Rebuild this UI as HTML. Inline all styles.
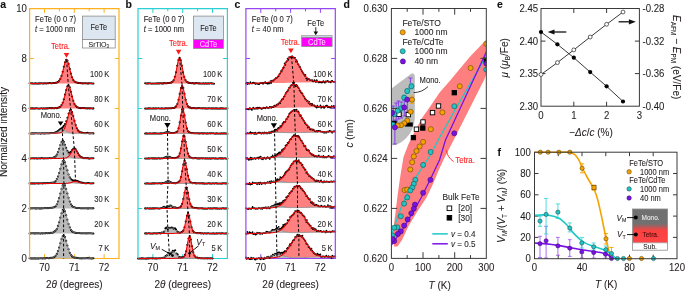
<!DOCTYPE html><html><head><meta charset="utf-8"><style>html,body{margin:0;padding:0;background:#fff;}svg{display:block;will-change:transform;}</style></head><body><svg width="685" height="291" viewBox="0 0 685 291" font-family='"Liberation Sans", sans-serif'><rect width="685" height="291" fill="#fff"/><path d="M29 258.5 H119.6" fill="none" stroke="#ffb01e" stroke-width="1.2"/><line x1="44.5" y1="258.5" x2="44.5" y2="254.1" stroke="#ffb01e" stroke-width="1"/><line x1="44.5" y1="8.5" x2="44.5" y2="12.9" stroke="#ffb01e" stroke-width="1"/><line x1="59.4" y1="258.5" x2="59.4" y2="255.7" stroke="#ffb01e" stroke-width="1"/><line x1="59.4" y1="8.5" x2="59.4" y2="11.3" stroke="#ffb01e" stroke-width="1"/><line x1="74.3" y1="258.5" x2="74.3" y2="254.1" stroke="#ffb01e" stroke-width="1"/><line x1="74.3" y1="8.5" x2="74.3" y2="12.9" stroke="#ffb01e" stroke-width="1"/><line x1="89.2" y1="258.5" x2="89.2" y2="255.7" stroke="#ffb01e" stroke-width="1"/><line x1="89.2" y1="8.5" x2="89.2" y2="11.3" stroke="#ffb01e" stroke-width="1"/><line x1="104.1" y1="258.5" x2="104.1" y2="254.1" stroke="#ffb01e" stroke-width="1"/><line x1="104.1" y1="8.5" x2="104.1" y2="12.9" stroke="#ffb01e" stroke-width="1"/><line x1="29.6" y1="208.5" x2="33.8" y2="208.5" stroke="#ffb01e" stroke-width="1"/><line x1="119" y1="208.5" x2="114.8" y2="208.5" stroke="#ffb01e" stroke-width="1"/><line x1="29.6" y1="158.5" x2="33.8" y2="158.5" stroke="#ffb01e" stroke-width="1"/><line x1="119" y1="158.5" x2="114.8" y2="158.5" stroke="#ffb01e" stroke-width="1"/><line x1="29.6" y1="108.5" x2="33.8" y2="108.5" stroke="#ffb01e" stroke-width="1"/><line x1="119" y1="108.5" x2="114.8" y2="108.5" stroke="#ffb01e" stroke-width="1"/><line x1="29.6" y1="58.5" x2="33.8" y2="58.5" stroke="#ffb01e" stroke-width="1"/><line x1="119" y1="58.5" x2="114.8" y2="58.5" stroke="#ffb01e" stroke-width="1"/><polygon points="29.6,83.4 30.3,83.4 31.1,83.4 31.8,83.4 32.6,83.4 33.3,83.4 34,83.4 34.8,83.4 35.5,83.4 36.3,83.4 37,83.4 37.8,83.4 38.5,83.4 39.2,83.4 40,83.4 40.7,83.4 41.5,83.4 42.2,83.4 42.9,83.4 43.7,83.4 44.4,83.3 45.2,83.3 45.9,83.3 46.7,83.3 47.4,83.3 48.1,83.3 48.9,83.3 49.6,83.2 50.4,83.2 51.1,83.2 51.8,83.2 52.6,83.1 53.3,83.1 54.1,83 54.8,83 55.6,82.9 56.3,82.7 57,82.5 57.8,82.1 58.5,81.6 59.3,80.8 60,79.6 60.7,78 61.5,75.9 62.2,73.4 63,70.4 63.7,67.3 64.5,64.3 65.2,61.8 65.9,60.2 66.7,59.8 67.4,60.6 68.2,62.6 68.9,65.3 69.6,68.4 70.4,71.5 71.1,74.3 71.9,76.7 72.6,78.6 73.4,80 74.1,81.1 74.8,81.8 75.6,82.3 76.3,82.6 77.1,82.8 77.8,82.9 78.5,83 79.3,83 80,83.1 80.8,83.1 81.5,83.2 82.2,83.2 83,83.2 83.7,83.2 84.5,83.3 85.2,83.3 86,83.3 86.7,83.3 87.4,83.3 88.2,83.3 88.9,83.3 89.7,83.4 90.4,83.4 91.1,83.4 91.9,83.4 92.6,83.4 93.4,83.4 93.4,83.5 92.6,83.5 91.9,83.5 91.1,83.5 90.4,83.5 89.7,83.5 88.9,83.5 88.2,83.5 87.4,83.5 86.7,83.5 86,83.5 85.2,83.5 84.5,83.5 83.7,83.5 83,83.5 82.2,83.5 81.5,83.5 80.8,83.5 80,83.5 79.3,83.5 78.5,83.5 77.8,83.5 77.1,83.5 76.3,83.5 75.6,83.5 74.8,83.5 74.1,83.5 73.4,83.5 72.6,83.5 71.9,83.5 71.1,83.5 70.4,83.5 69.6,83.5 68.9,83.5 68.2,83.5 67.4,83.5 66.7,83.5 65.9,83.5 65.2,83.5 64.5,83.5 63.7,83.5 63,83.5 62.2,83.5 61.5,83.5 60.7,83.5 60,83.5 59.3,83.5 58.5,83.5 57.8,83.5 57,83.5 56.3,83.5 55.6,83.5 54.8,83.5 54.1,83.5 53.3,83.5 52.6,83.5 51.8,83.5 51.1,83.5 50.4,83.5 49.6,83.5 48.9,83.5 48.1,83.5 47.4,83.5 46.7,83.5 45.9,83.5 45.2,83.5 44.4,83.5 43.7,83.5 42.9,83.5 42.2,83.5 41.5,83.5 40.7,83.5 40,83.5 39.2,83.5 38.5,83.5 37.8,83.5 37,83.5 36.3,83.5 35.5,83.5 34.8,83.5 34,83.5 33.3,83.5 32.6,83.5 31.8,83.5 31.1,83.5 30.3,83.5 29.6,83.5" fill="#ff8080"/><path d="M29.6 83.3h0M30.8 83.3h0M32 83.4h0M33.1 83.5h0M34.3 83.5h0M35.5 83.4h0M36.7 83.5h0M37.9 83.6h0M39 83.4h0M40.2 83.4h0M41.4 83.3h0M42.6 83.5h0M43.8 83.4h0M45 83.3h0M46.1 83.5h0M47.3 83.2h0M48.5 83.2h0M49.7 83h0M50.9 83.2h0M52 83.2h0M53.2 83h0M54.4 83h0M55.6 82.8h0M56.8 82.6h0M57.9 82h0M59.1 80.8h0M60.3 78.9h0M61.5 75.9h0M62.7 71.8h0M63.8 66.7h0M65 62.3h0M66.2 59.8h0M67.4 60.6h0M68.6 63.9h0M69.8 68.9h0M70.9 73.6h0M72.1 77.3h0M73.3 80h0M74.5 81.5h0M75.7 82.3h0M76.8 82.5h0M78 82.9h0M79.2 83h0M80.4 83.1h0M81.6 83.2h0M82.7 83.4h0M83.9 83.2h0M85.1 83.3h0M86.3 83.2h0M87.5 83.5h0M88.6 83.4h0M89.8 83.2h0M91 83.2h0M92.2 83.5h0M93.4 83.5h0" stroke="#000000" stroke-width="2.1" stroke-linecap="round" fill="none"/><path d="M29.6 83.4 L30.3 83.4 L31.1 83.4 L31.8 83.4 L32.6 83.4 L33.3 83.4 L34 83.4 L34.8 83.4 L35.5 83.4 L36.3 83.4 L37 83.4 L37.8 83.4 L38.5 83.4 L39.2 83.4 L40 83.4 L40.7 83.4 L41.5 83.4 L42.2 83.4 L42.9 83.4 L43.7 83.4 L44.4 83.3 L45.2 83.3 L45.9 83.3 L46.7 83.3 L47.4 83.3 L48.1 83.3 L48.9 83.3 L49.6 83.2 L50.4 83.2 L51.1 83.2 L51.8 83.2 L52.6 83.1 L53.3 83.1 L54.1 83 L54.8 83 L55.6 82.9 L56.3 82.7 L57 82.5 L57.8 82.1 L58.5 81.6 L59.3 80.8 L60 79.6 L60.7 78 L61.5 75.9 L62.2 73.4 L63 70.4 L63.7 67.3 L64.5 64.3 L65.2 61.8 L65.9 60.2 L66.7 59.8 L67.4 60.6 L68.2 62.6 L68.9 65.3 L69.6 68.4 L70.4 71.5 L71.1 74.3 L71.9 76.7 L72.6 78.6 L73.4 80 L74.1 81.1 L74.8 81.8 L75.6 82.3 L76.3 82.6 L77.1 82.8 L77.8 82.9 L78.5 83 L79.3 83 L80 83.1 L80.8 83.1 L81.5 83.2 L82.2 83.2 L83 83.2 L83.7 83.2 L84.5 83.3 L85.2 83.3 L86 83.3 L86.7 83.3 L87.4 83.3 L88.2 83.3 L88.9 83.3 L89.7 83.4 L90.4 83.4 L91.1 83.4 L91.9 83.4 L92.6 83.4 L93.4 83.4" stroke="#e80000" stroke-width="1.05" fill="none"/><polygon points="29.6,108.4 30.3,108.4 31.1,108.4 31.8,108.4 32.6,108.4 33.3,108.4 34,108.4 34.8,108.4 35.5,108.4 36.3,108.4 37,108.4 37.8,108.4 38.5,108.4 39.2,108.4 40,108.4 40.7,108.4 41.5,108.4 42.2,108.4 42.9,108.4 43.7,108.4 44.4,108.4 45.2,108.4 45.9,108.4 46.7,108.3 47.4,108.3 48.1,108.3 48.9,108.3 49.6,108.3 50.4,108.3 51.1,108.3 51.8,108.2 52.6,108.2 53.3,108.2 54.1,108.1 54.8,108.1 55.6,108.1 56.3,108 57,107.9 57.8,107.8 58.5,107.6 59.3,107.3 60,106.9 60.7,106.2 61.5,105.2 62.2,103.8 63,102 63.7,99.7 64.5,96.9 65.2,93.9 65.9,90.9 66.7,88.2 67.4,86.2 68.2,85.3 68.9,85.6 69.6,87.1 70.4,89.5 71.1,92.5 71.9,95.5 72.6,98.4 73.4,100.9 74.1,103 74.8,104.6 75.6,105.7 76.3,106.6 77.1,107.1 77.8,107.5 78.5,107.7 79.3,107.9 80,108 80.8,108 81.5,108.1 82.2,108.1 83,108.2 83.7,108.2 84.5,108.2 85.2,108.2 86,108.3 86.7,108.3 87.4,108.3 88.2,108.3 88.9,108.3 89.7,108.3 90.4,108.3 91.1,108.4 91.9,108.4 92.6,108.4 93.4,108.4 93.4,108.5 92.6,108.5 91.9,108.5 91.1,108.5 90.4,108.5 89.7,108.5 88.9,108.5 88.2,108.5 87.4,108.5 86.7,108.5 86,108.5 85.2,108.5 84.5,108.5 83.7,108.5 83,108.5 82.2,108.5 81.5,108.5 80.8,108.5 80,108.5 79.3,108.5 78.5,108.5 77.8,108.5 77.1,108.5 76.3,108.5 75.6,108.5 74.8,108.5 74.1,108.5 73.4,108.5 72.6,108.5 71.9,108.5 71.1,108.5 70.4,108.5 69.6,108.5 68.9,108.5 68.2,108.5 67.4,108.5 66.7,108.5 65.9,108.5 65.2,108.5 64.5,108.5 63.7,108.5 63,108.5 62.2,108.5 61.5,108.5 60.7,108.5 60,108.5 59.3,108.5 58.5,108.5 57.8,108.5 57,108.5 56.3,108.5 55.6,108.5 54.8,108.5 54.1,108.5 53.3,108.5 52.6,108.5 51.8,108.5 51.1,108.5 50.4,108.5 49.6,108.5 48.9,108.5 48.1,108.5 47.4,108.5 46.7,108.5 45.9,108.5 45.2,108.5 44.4,108.5 43.7,108.5 42.9,108.5 42.2,108.5 41.5,108.5 40.7,108.5 40,108.5 39.2,108.5 38.5,108.5 37.8,108.5 37,108.5 36.3,108.5 35.5,108.5 34.8,108.5 34,108.5 33.3,108.5 32.6,108.5 31.8,108.5 31.1,108.5 30.3,108.5 29.6,108.5" fill="#ff8080"/><path d="M29.6 108.5h0M30.8 108.4h0M32 108.4h0M33.1 108.4h0M34.3 108.5h0M35.5 108.4h0M36.7 108.3h0M37.9 108.5h0M39 108.6h0M40.2 108.5h0M41.4 108.3h0M42.6 108.6h0M43.8 108.4h0M45 108.5h0M46.1 108.4h0M47.3 108.4h0M48.5 108.3h0M49.7 108.1h0M50.9 108.2h0M52 108.1h0M53.2 108.2h0M54.4 108.2h0M55.6 108h0M56.8 108.2h0M57.9 107.8h0M59.1 107.4h0M60.3 106.7h0M61.5 105.1h0M62.7 102.8h0M63.8 99.4h0M65 94.6h0M66.2 90h0M67.4 86.3h0M68.6 85.3h0M69.8 87.3h0M70.9 91.7h0M72.1 96.5h0M73.3 100.7h0M74.5 104h0M75.7 105.7h0M76.8 107.1h0M78 107.5h0M79.2 108h0M80.4 108.1h0M81.6 108.1h0M82.7 108h0M83.9 108.1h0M85.1 108.3h0M86.3 108.3h0M87.5 108.4h0M88.6 108.3h0M89.8 108.4h0M91 108.3h0M92.2 108.5h0M93.4 108.4h0" stroke="#000000" stroke-width="2.1" stroke-linecap="round" fill="none"/><path d="M29.6 108.4 L30.3 108.4 L31.1 108.4 L31.8 108.4 L32.6 108.4 L33.3 108.4 L34 108.4 L34.8 108.4 L35.5 108.4 L36.3 108.4 L37 108.4 L37.8 108.4 L38.5 108.4 L39.2 108.4 L40 108.4 L40.7 108.4 L41.5 108.4 L42.2 108.4 L42.9 108.4 L43.7 108.4 L44.4 108.4 L45.2 108.4 L45.9 108.4 L46.7 108.3 L47.4 108.3 L48.1 108.3 L48.9 108.3 L49.6 108.3 L50.4 108.3 L51.1 108.3 L51.8 108.2 L52.6 108.2 L53.3 108.2 L54.1 108.1 L54.8 108.1 L55.6 108.1 L56.3 108 L57 107.9 L57.8 107.8 L58.5 107.6 L59.3 107.3 L60 106.9 L60.7 106.2 L61.5 105.2 L62.2 103.8 L63 102 L63.7 99.7 L64.5 96.9 L65.2 93.9 L65.9 90.9 L66.7 88.2 L67.4 86.2 L68.2 85.3 L68.9 85.6 L69.6 87.1 L70.4 89.5 L71.1 92.5 L71.9 95.5 L72.6 98.4 L73.4 100.9 L74.1 103 L74.8 104.6 L75.6 105.7 L76.3 106.6 L77.1 107.1 L77.8 107.5 L78.5 107.7 L79.3 107.9 L80 108 L80.8 108 L81.5 108.1 L82.2 108.1 L83 108.2 L83.7 108.2 L84.5 108.2 L85.2 108.2 L86 108.3 L86.7 108.3 L87.4 108.3 L88.2 108.3 L88.9 108.3 L89.7 108.3 L90.4 108.3 L91.1 108.4 L91.9 108.4 L92.6 108.4 L93.4 108.4" stroke="#e80000" stroke-width="1.05" fill="none"/><polygon points="29.6,133.5 30.3,133.5 31.1,133.5 31.8,133.5 32.6,133.5 33.3,133.5 34,133.5 34.8,133.5 35.5,133.5 36.3,133.5 37,133.5 37.8,133.5 38.5,133.5 39.2,133.5 40,133.5 40.7,133.5 41.5,133.5 42.2,133.5 42.9,133.5 43.7,133.5 44.4,133.5 45.2,133.4 45.9,133.4 46.7,133.4 47.4,133.4 48.1,133.4 48.9,133.4 49.6,133.4 50.4,133.4 51.1,133.4 51.8,133.3 52.6,133.3 53.3,133.2 54.1,133.1 54.8,132.9 55.6,132.7 56.3,132.4 57,132.1 57.8,131.7 58.5,131.2 59.3,130.6 60,130.1 60.7,129.7 61.5,129.4 62.2,129.3 63,129.3 63.7,129.6 64.5,130 65.2,130.4 65.9,131 66.7,131.5 67.4,131.9 68.2,132.3 68.9,132.6 69.6,132.9 70.4,133 71.1,133.2 71.9,133.3 72.6,133.3 73.4,133.4 74.1,133.4 74.8,133.4 75.6,133.4 76.3,133.4 77.1,133.4 77.8,133.4 78.5,133.4 79.3,133.4 80,133.5 80.8,133.5 81.5,133.5 82.2,133.5 83,133.5 83.7,133.5 84.5,133.5 85.2,133.5 86,133.5 86.7,133.5 87.4,133.5 88.2,133.5 88.9,133.5 89.7,133.5 90.4,133.5 91.1,133.5 91.9,133.5 92.6,133.5 93.4,133.5 93.4,133.5 92.6,133.5 91.9,133.5 91.1,133.5 90.4,133.5 89.7,133.5 88.9,133.5 88.2,133.5 87.4,133.5 86.7,133.5 86,133.5 85.2,133.5 84.5,133.5 83.7,133.5 83,133.5 82.2,133.5 81.5,133.5 80.8,133.5 80,133.5 79.3,133.5 78.5,133.5 77.8,133.5 77.1,133.5 76.3,133.5 75.6,133.5 74.8,133.5 74.1,133.5 73.4,133.5 72.6,133.5 71.9,133.5 71.1,133.5 70.4,133.5 69.6,133.5 68.9,133.5 68.2,133.5 67.4,133.5 66.7,133.5 65.9,133.5 65.2,133.5 64.5,133.5 63.7,133.5 63,133.5 62.2,133.5 61.5,133.5 60.7,133.5 60,133.5 59.3,133.5 58.5,133.5 57.8,133.5 57,133.5 56.3,133.5 55.6,133.5 54.8,133.5 54.1,133.5 53.3,133.5 52.6,133.5 51.8,133.5 51.1,133.5 50.4,133.5 49.6,133.5 48.9,133.5 48.1,133.5 47.4,133.5 46.7,133.5 45.9,133.5 45.2,133.5 44.4,133.5 43.7,133.5 42.9,133.5 42.2,133.5 41.5,133.5 40.7,133.5 40,133.5 39.2,133.5 38.5,133.5 37.8,133.5 37,133.5 36.3,133.5 35.5,133.5 34.8,133.5 34,133.5 33.3,133.5 32.6,133.5 31.8,133.5 31.1,133.5 30.3,133.5 29.6,133.5" fill="#b9b9b9"/><polygon points="29.6,133.4 30.3,133.4 31.1,133.4 31.8,133.4 32.6,133.4 33.3,133.4 34,133.4 34.8,133.4 35.5,133.4 36.3,133.4 37,133.4 37.8,133.4 38.5,133.4 39.2,133.4 40,133.4 40.7,133.4 41.5,133.4 42.2,133.4 42.9,133.4 43.7,133.3 44.4,133.3 45.2,133.3 45.9,133.3 46.7,133.3 47.4,133.3 48.1,133.3 48.9,133.2 49.6,133.2 50.4,133.2 51.1,133.2 51.8,133.1 52.6,133 53.3,132.9 54.1,132.8 54.8,132.6 55.6,132.4 56.3,132.1 57,131.7 57.8,131.2 58.5,130.6 59.3,130 60,129.4 60.7,128.7 61.5,128.1 62.2,127.5 63,126.8 63.7,126.1 64.5,125.1 65.2,123.8 65.9,122 66.7,119.9 67.4,117.5 68.2,115 68.9,112.6 69.6,110.8 70.4,109.9 71.1,110.1 71.9,111.4 72.6,113.5 73.4,116.3 74.1,119.2 74.8,122.1 75.6,124.7 76.3,126.9 77.1,128.7 77.8,130.1 78.5,131 79.3,131.7 80,132.2 80.8,132.5 81.5,132.7 82.2,132.8 83,132.9 83.7,133 84.5,133.1 85.2,133.1 86,133.1 86.7,133.2 87.4,133.2 88.2,133.2 88.9,133.2 89.7,133.3 90.4,133.3 91.1,133.3 91.9,133.3 92.6,133.3 93.4,133.3 93.4,133.5 92.6,133.5 91.9,133.5 91.1,133.5 90.4,133.5 89.7,133.5 88.9,133.5 88.2,133.5 87.4,133.5 86.7,133.5 86,133.5 85.2,133.5 84.5,133.5 83.7,133.5 83,133.5 82.2,133.5 81.5,133.5 80.8,133.5 80,133.5 79.3,133.4 78.5,133.4 77.8,133.4 77.1,133.4 76.3,133.4 75.6,133.4 74.8,133.4 74.1,133.4 73.4,133.4 72.6,133.3 71.9,133.3 71.1,133.2 70.4,133 69.6,132.9 68.9,132.6 68.2,132.3 67.4,131.9 66.7,131.5 65.9,131 65.2,130.4 64.5,130 63.7,129.6 63,129.3 62.2,129.3 61.5,129.4 60.7,129.7 60,130.1 59.3,130.6 58.5,131.2 57.8,131.7 57,132.1 56.3,132.4 55.6,132.7 54.8,132.9 54.1,133.1 53.3,133.2 52.6,133.3 51.8,133.3 51.1,133.4 50.4,133.4 49.6,133.4 48.9,133.4 48.1,133.4 47.4,133.4 46.7,133.4 45.9,133.4 45.2,133.4 44.4,133.5 43.7,133.5 42.9,133.5 42.2,133.5 41.5,133.5 40.7,133.5 40,133.5 39.2,133.5 38.5,133.5 37.8,133.5 37,133.5 36.3,133.5 35.5,133.5 34.8,133.5 34,133.5 33.3,133.5 32.6,133.5 31.8,133.5 31.1,133.5 30.3,133.5 29.6,133.5" fill="#ff8080"/><path d="M29.6 133.5h0M30.8 133.5h0M32 133.4h0M33.1 133.4h0M34.3 133.4h0M35.5 133.3h0M36.7 133.3h0M37.9 133.5h0M39 133.3h0M40.2 133.6h0M41.4 133.4h0M42.6 133.2h0M43.8 133.4h0M45 133.4h0M46.1 133.3h0M47.3 133.3h0M48.5 133.3h0M49.7 133.3h0M50.9 133.1h0M52 133h0M53.2 133h0M54.4 132.7h0M55.6 132.3h0M56.8 131.7h0M57.9 131h0M59.1 130.1h0M60.3 129.1h0M61.5 128.2h0M62.7 127.2h0M63.8 125.8h0M65 124h0M66.2 121.3h0M67.4 117.7h0M68.6 113.6h0M69.8 110.5h0M70.9 109.8h0M72.1 112.1h0M73.3 116.1h0M74.5 120.9h0M75.7 125.1h0M76.8 128.2h0M78 130.4h0M79.2 131.6h0M80.4 132.2h0M81.6 132.6h0M82.7 132.8h0M83.9 133.1h0M85.1 133.2h0M86.3 133.1h0M87.5 132.9h0M88.6 133.2h0M89.8 133.4h0M91 133.3h0M92.2 133.2h0M93.4 133.4h0" stroke="#000000" stroke-width="2.1" stroke-linecap="round" fill="none"/><path d="M29.6 133.5 L30.3 133.4 L31.1 133.4 L31.8 133.4 L32.6 133.4 L33.3 133.4 L34 133.4 L34.8 133.4 L35.5 133.4 L36.3 133.4 L37 133.4 L37.8 133.4 L38.5 133.4 L39.2 133.4 L40 133.4 L40.7 133.4 L41.5 133.4 L42.2 133.4 L42.9 133.4 L43.7 133.4 L44.4 133.4 L45.2 133.4 L45.9 133.4 L46.7 133.4 L47.4 133.4 L48.1 133.3 L48.9 133.3 L49.6 133.3 L50.4 133.3 L51.1 133.3 L51.8 133.3 L52.6 133.3 L53.3 133.2 L54.1 133.2 L54.8 133.2 L55.6 133.2 L56.3 133.1 L57 133.1 L57.8 133 L58.5 133 L59.3 132.9 L60 132.7 L60.7 132.5 L61.5 132.2 L62.2 131.7 L63 131 L63.7 130 L64.5 128.6 L65.2 126.8 L65.9 124.6 L66.7 122 L67.4 119.1 L68.2 116.2 L68.9 113.5 L69.6 111.5 L70.4 110.4 L71.1 110.4 L71.9 111.6 L72.6 113.7 L73.4 116.4 L74.1 119.3 L74.8 122.2 L75.6 124.8 L76.3 127 L77.1 128.8 L77.8 130.1 L78.5 131.1 L79.3 131.8 L80 132.2 L80.8 132.6 L81.5 132.8 L82.2 132.9 L83 133 L83.7 133 L84.5 133.1 L85.2 133.1 L86 133.2 L86.7 133.2 L87.4 133.2 L88.2 133.2 L88.9 133.3 L89.7 133.3 L90.4 133.3 L91.1 133.3 L91.9 133.3 L92.6 133.3 L93.4 133.3" stroke="#e80000" stroke-width="1.05" fill="none"/><path d="M29.6 133.5 L30.3 133.5 L31.1 133.5 L31.8 133.5 L32.6 133.5 L33.3 133.5 L34 133.5 L34.8 133.5 L35.5 133.5 L36.3 133.5 L37 133.5 L37.8 133.5 L38.5 133.5 L39.2 133.5 L40 133.5 L40.7 133.5 L41.5 133.5 L42.2 133.5 L42.9 133.5 L43.7 133.5 L44.4 133.5 L45.2 133.4 L45.9 133.4 L46.7 133.4 L47.4 133.4 L48.1 133.4 L48.9 133.4 L49.6 133.4 L50.4 133.4 L51.1 133.4 L51.8 133.3 L52.6 133.3 L53.3 133.2 L54.1 133.1 L54.8 132.9 L55.6 132.7 L56.3 132.4 L57 132.1 L57.8 131.7 L58.5 131.2 L59.3 130.6 L60 130.1 L60.7 129.7 L61.5 129.4 L62.2 129.3 L63 129.3 L63.7 129.6 L64.5 130 L65.2 130.4 L65.9 131 L66.7 131.5 L67.4 131.9 L68.2 132.3 L68.9 132.6 L69.6 132.9 L70.4 133 L71.1 133.2 L71.9 133.3 L72.6 133.3 L73.4 133.4 L74.1 133.4 L74.8 133.4 L75.6 133.4 L76.3 133.4 L77.1 133.4 L77.8 133.4 L78.5 133.4 L79.3 133.4 L80 133.5 L80.8 133.5 L81.5 133.5 L82.2 133.5 L83 133.5 L83.7 133.5 L84.5 133.5 L85.2 133.5 L86 133.5 L86.7 133.5 L87.4 133.5 L88.2 133.5 L88.9 133.5 L89.7 133.5 L90.4 133.5 L91.1 133.5 L91.9 133.5 L92.6 133.5 L93.4 133.5" stroke="#8a8a8a" stroke-width="0.9" fill="none" opacity="0.85"/><polygon points="29.6,158.4 30.3,158.4 31.1,158.4 31.8,158.4 32.6,158.4 33.3,158.4 34,158.4 34.8,158.4 35.5,158.4 36.3,158.4 37,158.4 37.8,158.4 38.5,158.4 39.2,158.4 40,158.4 40.7,158.4 41.5,158.4 42.2,158.4 42.9,158.4 43.7,158.3 44.4,158.3 45.2,158.3 45.9,158.3 46.7,158.3 47.4,158.3 48.1,158.2 48.9,158.2 49.6,158.2 50.4,158.1 51.1,158.1 51.8,158 52.6,157.9 53.3,157.7 54.1,157.4 54.8,157 55.6,156.3 56.3,155.4 57,154.1 57.8,152.5 58.5,150.6 59.3,148.4 60,146.1 60.7,143.9 61.5,142.2 62.2,141.2 63,141.1 63.7,141.9 64.5,143.5 65.2,145.6 65.9,147.9 66.7,150.1 67.4,152.1 68.2,153.8 68.9,155.1 69.6,156.1 70.4,156.8 71.1,157.3 71.9,157.6 72.6,157.8 73.4,158 74.1,158.1 74.8,158.1 75.6,158.2 76.3,158.2 77.1,158.2 77.8,158.3 78.5,158.3 79.3,158.3 80,158.3 80.8,158.3 81.5,158.3 82.2,158.4 83,158.4 83.7,158.4 84.5,158.4 85.2,158.4 86,158.4 86.7,158.4 87.4,158.4 88.2,158.4 88.9,158.4 89.7,158.4 90.4,158.4 91.1,158.4 91.9,158.4 92.6,158.4 93.4,158.4 93.4,158.5 92.6,158.5 91.9,158.5 91.1,158.5 90.4,158.5 89.7,158.5 88.9,158.5 88.2,158.5 87.4,158.5 86.7,158.5 86,158.5 85.2,158.5 84.5,158.5 83.7,158.5 83,158.5 82.2,158.5 81.5,158.5 80.8,158.5 80,158.5 79.3,158.5 78.5,158.5 77.8,158.5 77.1,158.5 76.3,158.5 75.6,158.5 74.8,158.5 74.1,158.5 73.4,158.5 72.6,158.5 71.9,158.5 71.1,158.5 70.4,158.5 69.6,158.5 68.9,158.5 68.2,158.5 67.4,158.5 66.7,158.5 65.9,158.5 65.2,158.5 64.5,158.5 63.7,158.5 63,158.5 62.2,158.5 61.5,158.5 60.7,158.5 60,158.5 59.3,158.5 58.5,158.5 57.8,158.5 57,158.5 56.3,158.5 55.6,158.5 54.8,158.5 54.1,158.5 53.3,158.5 52.6,158.5 51.8,158.5 51.1,158.5 50.4,158.5 49.6,158.5 48.9,158.5 48.1,158.5 47.4,158.5 46.7,158.5 45.9,158.5 45.2,158.5 44.4,158.5 43.7,158.5 42.9,158.5 42.2,158.5 41.5,158.5 40.7,158.5 40,158.5 39.2,158.5 38.5,158.5 37.8,158.5 37,158.5 36.3,158.5 35.5,158.5 34.8,158.5 34,158.5 33.3,158.5 32.6,158.5 31.8,158.5 31.1,158.5 30.3,158.5 29.6,158.5" fill="#b9b9b9"/><polygon points="29.6,158.4 30.3,158.4 31.1,158.4 31.8,158.4 32.6,158.4 33.3,158.4 34,158.4 34.8,158.4 35.5,158.4 36.3,158.4 37,158.4 37.8,158.4 38.5,158.4 39.2,158.4 40,158.4 40.7,158.4 41.5,158.3 42.2,158.3 42.9,158.3 43.7,158.3 44.4,158.3 45.2,158.3 45.9,158.3 46.7,158.2 47.4,158.2 48.1,158.2 48.9,158.2 49.6,158.1 50.4,158.1 51.1,158 51.8,157.9 52.6,157.8 53.3,157.6 54.1,157.3 54.8,156.9 55.6,156.2 56.3,155.3 57,154 57.8,152.4 58.5,150.5 59.3,148.2 60,145.9 60.7,143.8 61.5,142 62.2,141 63,140.9 63.7,141.6 64.5,143.2 65.2,145.2 65.9,147.3 66.7,149.3 67.4,150.9 68.2,152.1 68.9,152.7 69.6,152.7 70.4,152.3 71.1,151.5 71.9,150.5 72.6,149.5 73.4,148.7 74.1,148.3 74.8,148.5 75.6,149.2 76.3,150.3 77.1,151.7 77.8,153 78.5,154.3 79.3,155.3 80,156.2 80.8,156.9 81.5,157.3 82.2,157.6 83,157.9 83.7,158 84.5,158.1 85.2,158.1 86,158.2 86.7,158.2 87.4,158.2 88.2,158.3 88.9,158.3 89.7,158.3 90.4,158.3 91.1,158.3 91.9,158.3 92.6,158.4 93.4,158.4 93.4,158.4 92.6,158.4 91.9,158.4 91.1,158.4 90.4,158.4 89.7,158.4 88.9,158.4 88.2,158.4 87.4,158.4 86.7,158.4 86,158.4 85.2,158.4 84.5,158.4 83.7,158.4 83,158.4 82.2,158.4 81.5,158.3 80.8,158.3 80,158.3 79.3,158.3 78.5,158.3 77.8,158.3 77.1,158.2 76.3,158.2 75.6,158.2 74.8,158.1 74.1,158.1 73.4,158 72.6,157.8 71.9,157.6 71.1,157.3 70.4,156.8 69.6,156.1 68.9,155.1 68.2,153.8 67.4,152.1 66.7,150.1 65.9,147.9 65.2,145.6 64.5,143.5 63.7,141.9 63,141.1 62.2,141.2 61.5,142.2 60.7,143.9 60,146.1 59.3,148.4 58.5,150.6 57.8,152.5 57,154.1 56.3,155.4 55.6,156.3 54.8,157 54.1,157.4 53.3,157.7 52.6,157.9 51.8,158 51.1,158.1 50.4,158.1 49.6,158.2 48.9,158.2 48.1,158.2 47.4,158.3 46.7,158.3 45.9,158.3 45.2,158.3 44.4,158.3 43.7,158.3 42.9,158.4 42.2,158.4 41.5,158.4 40.7,158.4 40,158.4 39.2,158.4 38.5,158.4 37.8,158.4 37,158.4 36.3,158.4 35.5,158.4 34.8,158.4 34,158.4 33.3,158.4 32.6,158.4 31.8,158.4 31.1,158.4 30.3,158.4 29.6,158.4" fill="#ff8080"/><path d="M29.6 158.4h0M30.8 158.5h0M32 158.3h0M33.1 158.3h0M34.3 158.4h0M35.5 158.2h0M36.7 158.4h0M37.9 158.5h0M39 158.2h0M40.2 158.5h0M41.4 158.1h0M42.6 158.3h0M43.8 158.4h0M45 158.3h0M46.1 158.2h0M47.3 158.2h0M48.5 158.2h0M49.7 158h0M50.9 158.3h0M52 158h0M53.2 157.7h0M54.4 157h0M55.6 156.4h0M56.8 154.6h0M57.9 152.1h0M59.1 148.7h0M60.3 145h0M61.5 142h0M62.7 140.6h0M63.8 141.9h0M65 144.7h0M66.2 147.9h0M67.4 150.8h0M68.6 152.5h0M69.8 152.6h0M70.9 151.8h0M72.1 150h0M73.3 148.7h0M74.5 148.4h0M75.7 149.3h0M76.8 151.2h0M78 153.2h0M79.2 155.2h0M80.4 156.6h0M81.6 157.3h0M82.7 157.9h0M83.9 158.2h0M85.1 158.1h0M86.3 158.2h0M87.5 158.1h0M88.6 158.4h0M89.8 158.6h0M91 158.3h0M92.2 158.3h0M93.4 158.2h0" stroke="#000000" stroke-width="2.1" stroke-linecap="round" fill="none"/><path d="M29.6 158.4 L30.3 158.4 L31.1 158.4 L31.8 158.4 L32.6 158.4 L33.3 158.4 L34 158.4 L34.8 158.4 L35.5 158.4 L36.3 158.4 L37 158.4 L37.8 158.4 L38.5 158.4 L39.2 158.4 L40 158.4 L40.7 158.4 L41.5 158.4 L42.2 158.4 L42.9 158.4 L43.7 158.3 L44.4 158.3 L45.2 158.3 L45.9 158.3 L46.7 158.3 L47.4 158.3 L48.1 158.2 L48.9 158.2 L49.6 158.2 L50.4 158.1 L51.1 158.1 L51.8 158 L52.6 157.9 L53.3 157.7 L54.1 157.4 L54.8 157 L55.6 156.3 L56.3 155.4 L57 154.1 L57.8 152.5 L58.5 150.6 L59.3 148.4 L60 146.1 L60.7 143.9 L61.5 142.2 L62.2 141.2 L63 141.1 L63.7 141.9 L64.5 143.5 L65.2 145.6 L65.9 147.9 L66.7 150.1 L67.4 152.1 L68.2 153.8 L68.9 155.1 L69.6 156.1 L70.4 156.8 L71.1 157.3 L71.9 157.6 L72.6 157.8 L73.4 158 L74.1 158.1 L74.8 158.1 L75.6 158.2 L76.3 158.2 L77.1 158.2 L77.8 158.3 L78.5 158.3 L79.3 158.3 L80 158.3 L80.8 158.3 L81.5 158.3 L82.2 158.4 L83 158.4 L83.7 158.4 L84.5 158.4 L85.2 158.4 L86 158.4 L86.7 158.4 L87.4 158.4 L88.2 158.4 L88.9 158.4 L89.7 158.4 L90.4 158.4 L91.1 158.4 L91.9 158.4 L92.6 158.4 L93.4 158.4" stroke="#8a8a8a" stroke-width="0.9" fill="none"/><path d="M29.6 158.5 L30.3 158.5 L31.1 158.5 L31.8 158.5 L32.6 158.5 L33.3 158.5 L34 158.5 L34.8 158.5 L35.5 158.5 L36.3 158.5 L37 158.5 L37.8 158.5 L38.5 158.5 L39.2 158.5 L40 158.5 L40.7 158.5 L41.5 158.5 L42.2 158.5 L42.9 158.5 L43.7 158.5 L44.4 158.5 L45.2 158.5 L45.9 158.5 L46.7 158.5 L47.4 158.5 L48.1 158.5 L48.9 158.5 L49.6 158.5 L50.4 158.4 L51.1 158.4 L51.8 158.4 L52.6 158.4 L53.3 158.4 L54.1 158.4 L54.8 158.4 L55.6 158.4 L56.3 158.4 L57 158.4 L57.8 158.4 L58.5 158.4 L59.3 158.4 L60 158.4 L60.7 158.3 L61.5 158.3 L62.2 158.3 L63 158.3 L63.7 158.2 L64.5 158.2 L65.2 158.1 L65.9 157.9 L66.7 157.7 L67.4 157.3 L68.2 156.8 L68.9 156 L69.6 155.1 L70.4 153.9 L71.1 152.7 L71.9 151.3 L72.6 150.1 L73.4 149.2 L74.1 148.8 L74.8 148.9 L75.6 149.6 L76.3 150.6 L77.1 151.9 L77.8 153.2 L78.5 154.5 L79.3 155.5 L80 156.4 L80.8 157 L81.5 157.5 L82.2 157.8 L83 158 L83.7 158.1 L84.5 158.2 L85.2 158.3 L86 158.3 L86.7 158.3 L87.4 158.3 L88.2 158.4 L88.9 158.4 L89.7 158.4 L90.4 158.4 L91.1 158.4 L91.9 158.4 L92.6 158.4 L93.4 158.4" stroke="#e80000" stroke-width="1.05" fill="none"/><polygon points="29.6,183.4 30.3,183.4 31.1,183.4 31.8,183.4 32.6,183.4 33.3,183.4 34,183.4 34.8,183.4 35.5,183.4 36.3,183.4 37,183.4 37.8,183.4 38.5,183.4 39.2,183.4 40,183.3 40.7,183.3 41.5,183.3 42.2,183.3 42.9,183.3 43.7,183.3 44.4,183.3 45.2,183.3 45.9,183.2 46.7,183.2 47.4,183.2 48.1,183.2 48.9,183.1 49.6,183.1 50.4,183 51.1,183 51.8,182.9 52.6,182.7 53.3,182.5 54.1,182.2 54.8,181.7 55.6,181 56.3,180.1 57,178.8 57.8,177.1 58.5,175 59.3,172.5 60,169.8 60.7,167 61.5,164.4 62.2,162.2 63,160.9 63.7,160.5 64.5,161.3 65.2,162.9 65.9,165.3 66.7,168 67.4,170.8 68.2,173.5 68.9,175.8 69.6,177.7 70.4,179.3 71.1,180.5 71.9,181.3 72.6,181.9 73.4,182.3 74.1,182.6 74.8,182.8 75.6,182.9 76.3,183 77.1,183 77.8,183.1 78.5,183.1 79.3,183.2 80,183.2 80.8,183.2 81.5,183.2 82.2,183.3 83,183.3 83.7,183.3 84.5,183.3 85.2,183.3 86,183.3 86.7,183.3 87.4,183.3 88.2,183.4 88.9,183.4 89.7,183.4 90.4,183.4 91.1,183.4 91.9,183.4 92.6,183.4 93.4,183.4 93.4,183.5 92.6,183.5 91.9,183.5 91.1,183.5 90.4,183.5 89.7,183.5 88.9,183.5 88.2,183.5 87.4,183.5 86.7,183.5 86,183.5 85.2,183.5 84.5,183.5 83.7,183.5 83,183.5 82.2,183.5 81.5,183.5 80.8,183.5 80,183.5 79.3,183.5 78.5,183.5 77.8,183.5 77.1,183.5 76.3,183.5 75.6,183.5 74.8,183.5 74.1,183.5 73.4,183.5 72.6,183.5 71.9,183.5 71.1,183.5 70.4,183.5 69.6,183.5 68.9,183.5 68.2,183.5 67.4,183.5 66.7,183.5 65.9,183.5 65.2,183.5 64.5,183.5 63.7,183.5 63,183.5 62.2,183.5 61.5,183.5 60.7,183.5 60,183.5 59.3,183.5 58.5,183.5 57.8,183.5 57,183.5 56.3,183.5 55.6,183.5 54.8,183.5 54.1,183.5 53.3,183.5 52.6,183.5 51.8,183.5 51.1,183.5 50.4,183.5 49.6,183.5 48.9,183.5 48.1,183.5 47.4,183.5 46.7,183.5 45.9,183.5 45.2,183.5 44.4,183.5 43.7,183.5 42.9,183.5 42.2,183.5 41.5,183.5 40.7,183.5 40,183.5 39.2,183.5 38.5,183.5 37.8,183.5 37,183.5 36.3,183.5 35.5,183.5 34.8,183.5 34,183.5 33.3,183.5 32.6,183.5 31.8,183.5 31.1,183.5 30.3,183.5 29.6,183.5" fill="#b9b9b9"/><polygon points="29.6,183.4 30.3,183.4 31.1,183.4 31.8,183.4 32.6,183.4 33.3,183.4 34,183.4 34.8,183.4 35.5,183.4 36.3,183.4 37,183.4 37.8,183.4 38.5,183.4 39.2,183.3 40,183.3 40.7,183.3 41.5,183.3 42.2,183.3 42.9,183.3 43.7,183.3 44.4,183.3 45.2,183.2 45.9,183.2 46.7,183.2 47.4,183.2 48.1,183.1 48.9,183.1 49.6,183.1 50.4,183 51.1,182.9 51.8,182.8 52.6,182.7 53.3,182.5 54.1,182.2 54.8,181.7 55.6,181 56.3,180 57,178.7 57.8,177 58.5,174.9 59.3,172.5 60,169.7 60.7,166.9 61.5,164.3 62.2,162.2 63,160.8 63.7,160.5 64.5,161.2 65.2,162.9 65.9,165.2 66.7,167.9 67.4,170.6 68.2,173.1 68.9,175.3 69.6,177.1 70.4,178.5 71.1,179.4 71.9,180 72.6,180.3 73.4,180.5 74.1,180.5 74.8,180.6 75.6,180.6 76.3,180.8 77.1,181 77.8,181.3 78.5,181.6 79.3,181.9 80,182.2 80.8,182.4 81.5,182.7 82.2,182.8 83,183 83.7,183.1 84.5,183.1 85.2,183.2 86,183.2 86.7,183.3 87.4,183.3 88.2,183.3 88.9,183.3 89.7,183.3 90.4,183.3 91.1,183.4 91.9,183.4 92.6,183.4 93.4,183.4 93.4,183.4 92.6,183.4 91.9,183.4 91.1,183.4 90.4,183.4 89.7,183.4 88.9,183.4 88.2,183.4 87.4,183.3 86.7,183.3 86,183.3 85.2,183.3 84.5,183.3 83.7,183.3 83,183.3 82.2,183.3 81.5,183.2 80.8,183.2 80,183.2 79.3,183.2 78.5,183.1 77.8,183.1 77.1,183 76.3,183 75.6,182.9 74.8,182.8 74.1,182.6 73.4,182.3 72.6,181.9 71.9,181.3 71.1,180.5 70.4,179.3 69.6,177.7 68.9,175.8 68.2,173.5 67.4,170.8 66.7,168 65.9,165.3 65.2,162.9 64.5,161.3 63.7,160.5 63,160.9 62.2,162.2 61.5,164.4 60.7,167 60,169.8 59.3,172.5 58.5,175 57.8,177.1 57,178.8 56.3,180.1 55.6,181 54.8,181.7 54.1,182.2 53.3,182.5 52.6,182.7 51.8,182.9 51.1,183 50.4,183 49.6,183.1 48.9,183.1 48.1,183.2 47.4,183.2 46.7,183.2 45.9,183.2 45.2,183.3 44.4,183.3 43.7,183.3 42.9,183.3 42.2,183.3 41.5,183.3 40.7,183.3 40,183.3 39.2,183.4 38.5,183.4 37.8,183.4 37,183.4 36.3,183.4 35.5,183.4 34.8,183.4 34,183.4 33.3,183.4 32.6,183.4 31.8,183.4 31.1,183.4 30.3,183.4 29.6,183.4" fill="#ff8080"/><path d="M29.6 183.4h0M30.8 183.4h0M32 183.4h0M33.1 183.4h0M34.3 183.4h0M35.5 183.5h0M36.7 183.3h0M37.9 183.4h0M39 183.4h0M40.2 183.3h0M41.4 183.2h0M42.6 183.4h0M43.8 183.1h0M45 183.3h0M46.1 183.1h0M47.3 183.1h0M48.5 183.1h0M49.7 183h0M50.9 182.8h0M52 182.7h0M53.2 182.5h0M54.4 182.2h0M55.6 181.1h0M56.8 179.1h0M57.9 176.6h0M59.1 173h0M60.3 168.7h0M61.5 164.4h0M62.7 161.2h0M63.8 160.5h0M65 162.3h0M66.2 166.2h0M67.4 170.4h0M68.6 174.5h0M69.8 177.4h0M70.9 179h0M72.1 180.1h0M73.3 180.5h0M74.5 180.6h0M75.7 180.7h0M76.8 180.8h0M78 181.2h0M79.2 181.8h0M80.4 182.3h0M81.6 182.6h0M82.7 182.9h0M83.9 183h0M85.1 183.2h0M86.3 183.2h0M87.5 183.1h0M88.6 183.1h0M89.8 183.2h0M91 183.5h0M92.2 183.2h0M93.4 183.3h0" stroke="#000000" stroke-width="2.1" stroke-linecap="round" fill="none"/><path d="M29.6 183.4 L30.3 183.4 L31.1 183.4 L31.8 183.4 L32.6 183.4 L33.3 183.4 L34 183.4 L34.8 183.4 L35.5 183.4 L36.3 183.4 L37 183.4 L37.8 183.4 L38.5 183.4 L39.2 183.4 L40 183.3 L40.7 183.3 L41.5 183.3 L42.2 183.3 L42.9 183.3 L43.7 183.3 L44.4 183.3 L45.2 183.3 L45.9 183.2 L46.7 183.2 L47.4 183.2 L48.1 183.2 L48.9 183.1 L49.6 183.1 L50.4 183 L51.1 183 L51.8 182.9 L52.6 182.7 L53.3 182.5 L54.1 182.2 L54.8 181.7 L55.6 181 L56.3 180.1 L57 178.8 L57.8 177.1 L58.5 175 L59.3 172.5 L60 169.8 L60.7 167 L61.5 164.4 L62.2 162.2 L63 160.9 L63.7 160.5 L64.5 161.3 L65.2 162.9 L65.9 165.3 L66.7 168 L67.4 170.8 L68.2 173.5 L68.9 175.8 L69.6 177.7 L70.4 179.3 L71.1 180.5 L71.9 181.3 L72.6 181.9 L73.4 182.3 L74.1 182.6 L74.8 182.8 L75.6 182.9 L76.3 183 L77.1 183 L77.8 183.1 L78.5 183.1 L79.3 183.2 L80 183.2 L80.8 183.2 L81.5 183.2 L82.2 183.3 L83 183.3 L83.7 183.3 L84.5 183.3 L85.2 183.3 L86 183.3 L86.7 183.3 L87.4 183.3 L88.2 183.4 L88.9 183.4 L89.7 183.4 L90.4 183.4 L91.1 183.4 L91.9 183.4 L92.6 183.4 L93.4 183.4" stroke="#8a8a8a" stroke-width="0.9" fill="none"/><path d="M29.6 183.5 L30.3 183.5 L31.1 183.5 L31.8 183.5 L32.6 183.5 L33.3 183.5 L34 183.5 L34.8 183.5 L35.5 183.5 L36.3 183.5 L37 183.5 L37.8 183.5 L38.5 183.5 L39.2 183.5 L40 183.5 L40.7 183.5 L41.5 183.5 L42.2 183.5 L42.9 183.5 L43.7 183.5 L44.4 183.5 L45.2 183.5 L45.9 183.5 L46.7 183.5 L47.4 183.5 L48.1 183.5 L48.9 183.5 L49.6 183.5 L50.4 183.5 L51.1 183.5 L51.8 183.5 L52.6 183.5 L53.3 183.5 L54.1 183.5 L54.8 183.5 L55.6 183.5 L56.3 183.5 L57 183.5 L57.8 183.5 L58.5 183.5 L59.3 183.5 L60 183.5 L60.7 183.5 L61.5 183.5 L62.2 183.5 L63 183.4 L63.7 183.4 L64.5 183.4 L65.2 183.4 L65.9 183.4 L66.7 183.3 L67.4 183.3 L68.2 183.2 L68.9 183 L69.6 182.9 L70.4 182.7 L71.1 182.4 L71.9 182.2 L72.6 181.9 L73.4 181.6 L74.1 181.4 L74.8 181.3 L75.6 181.3 L76.3 181.3 L77.1 181.5 L77.8 181.7 L78.5 182 L79.3 182.2 L80 182.5 L80.8 182.7 L81.5 182.9 L82.2 183.1 L83 183.2 L83.7 183.3 L84.5 183.3 L85.2 183.4 L86 183.4 L86.7 183.4 L87.4 183.4 L88.2 183.4 L88.9 183.5 L89.7 183.5 L90.4 183.5 L91.1 183.5 L91.9 183.5 L92.6 183.5 L93.4 183.5" stroke="#e80000" stroke-width="1.05" fill="none"/><polygon points="29.6,208.4 30.3,208.4 31.1,208.4 31.8,208.4 32.6,208.4 33.3,208.4 34,208.4 34.8,208.4 35.5,208.4 36.3,208.4 37,208.4 37.8,208.4 38.5,208.4 39.2,208.3 40,208.3 40.7,208.3 41.5,208.3 42.2,208.3 42.9,208.3 43.7,208.3 44.4,208.3 45.2,208.2 45.9,208.2 46.7,208.2 47.4,208.2 48.1,208.1 48.9,208.1 49.6,208.1 50.4,208 51.1,207.9 51.8,207.8 52.6,207.7 53.3,207.5 54.1,207.2 54.8,206.7 55.6,206 56.3,205.1 57,203.8 57.8,202.1 58.5,200.1 59.3,197.6 60,194.8 60.7,191.9 61.5,189 62.2,186.6 63,184.8 63.7,184 64.5,184.3 65.2,185.7 65.9,187.9 66.7,190.6 67.4,193.5 68.2,196.4 68.9,199 69.6,201.3 70.4,203.2 71.1,204.6 71.9,205.7 72.6,206.5 73.4,207 74.1,207.4 74.8,207.6 75.6,207.8 76.3,207.9 77.1,208 77.8,208 78.5,208.1 79.3,208.1 80,208.2 80.8,208.2 81.5,208.2 82.2,208.2 83,208.2 83.7,208.3 84.5,208.3 85.2,208.3 86,208.3 86.7,208.3 87.4,208.3 88.2,208.3 88.9,208.3 89.7,208.4 90.4,208.4 91.1,208.4 91.9,208.4 92.6,208.4 93.4,208.4 93.4,208.5 92.6,208.5 91.9,208.5 91.1,208.5 90.4,208.5 89.7,208.5 88.9,208.5 88.2,208.5 87.4,208.5 86.7,208.5 86,208.5 85.2,208.5 84.5,208.5 83.7,208.5 83,208.5 82.2,208.5 81.5,208.5 80.8,208.5 80,208.5 79.3,208.5 78.5,208.5 77.8,208.5 77.1,208.5 76.3,208.5 75.6,208.5 74.8,208.5 74.1,208.5 73.4,208.5 72.6,208.5 71.9,208.5 71.1,208.5 70.4,208.5 69.6,208.5 68.9,208.5 68.2,208.5 67.4,208.5 66.7,208.5 65.9,208.5 65.2,208.5 64.5,208.5 63.7,208.5 63,208.5 62.2,208.5 61.5,208.5 60.7,208.5 60,208.5 59.3,208.5 58.5,208.5 57.8,208.5 57,208.5 56.3,208.5 55.6,208.5 54.8,208.5 54.1,208.5 53.3,208.5 52.6,208.5 51.8,208.5 51.1,208.5 50.4,208.5 49.6,208.5 48.9,208.5 48.1,208.5 47.4,208.5 46.7,208.5 45.9,208.5 45.2,208.5 44.4,208.5 43.7,208.5 42.9,208.5 42.2,208.5 41.5,208.5 40.7,208.5 40,208.5 39.2,208.5 38.5,208.5 37.8,208.5 37,208.5 36.3,208.5 35.5,208.5 34.8,208.5 34,208.5 33.3,208.5 32.6,208.5 31.8,208.5 31.1,208.5 30.3,208.5 29.6,208.5" fill="#b9b9b9"/><path d="M29.6 208.5h0M30.8 208.4h0M32 208.3h0M33.1 208.3h0M34.3 208.3h0M35.5 208.4h0M36.7 208.4h0M37.9 208.3h0M39 208.4h0M40.2 208.4h0M41.4 208.4h0M42.6 208.3h0M43.8 208.2h0M45 208h0M46.1 208.3h0M47.3 208.1h0M48.5 208.1h0M49.7 208h0M50.9 207.8h0M52 207.7h0M53.2 207.5h0M54.4 207h0M55.6 206.2h0M56.8 204.3h0M57.9 201.6h0M59.1 198.1h0M60.3 193.5h0M61.5 189h0M62.7 185.4h0M63.8 183.9h0M65 185.3h0M66.2 189h0M67.4 193.6h0M68.6 197.8h0M69.8 201.6h0M70.9 204.3h0M72.1 205.9h0M73.3 207h0M74.5 207.3h0M75.7 207.7h0M76.8 208h0M78 208.1h0M79.2 208h0M80.4 208.3h0M81.6 208.3h0M82.7 208.2h0M83.9 208.2h0M85.1 208.3h0M86.3 208.3h0M87.5 208.4h0M88.6 208.4h0M89.8 208.2h0M91 208.3h0M92.2 208.4h0M93.4 208.2h0" stroke="#000000" stroke-width="2.1" stroke-linecap="round" fill="none"/><path d="M29.6 208.4 L30.3 208.4 L31.1 208.4 L31.8 208.4 L32.6 208.4 L33.3 208.4 L34 208.4 L34.8 208.4 L35.5 208.4 L36.3 208.4 L37 208.4 L37.8 208.4 L38.5 208.4 L39.2 208.3 L40 208.3 L40.7 208.3 L41.5 208.3 L42.2 208.3 L42.9 208.3 L43.7 208.3 L44.4 208.3 L45.2 208.2 L45.9 208.2 L46.7 208.2 L47.4 208.2 L48.1 208.1 L48.9 208.1 L49.6 208.1 L50.4 208 L51.1 207.9 L51.8 207.8 L52.6 207.7 L53.3 207.5 L54.1 207.2 L54.8 206.7 L55.6 206 L56.3 205.1 L57 203.8 L57.8 202.1 L58.5 200.1 L59.3 197.6 L60 194.8 L60.7 191.9 L61.5 189 L62.2 186.6 L63 184.8 L63.7 184 L64.5 184.3 L65.2 185.7 L65.9 187.9 L66.7 190.6 L67.4 193.5 L68.2 196.4 L68.9 199 L69.6 201.3 L70.4 203.2 L71.1 204.6 L71.9 205.7 L72.6 206.5 L73.4 207 L74.1 207.4 L74.8 207.6 L75.6 207.8 L76.3 207.9 L77.1 208 L77.8 208 L78.5 208.1 L79.3 208.1 L80 208.2 L80.8 208.2 L81.5 208.2 L82.2 208.2 L83 208.2 L83.7 208.3 L84.5 208.3 L85.2 208.3 L86 208.3 L86.7 208.3 L87.4 208.3 L88.2 208.3 L88.9 208.3 L89.7 208.4 L90.4 208.4 L91.1 208.4 L91.9 208.4 L92.6 208.4 L93.4 208.4" stroke="#8a8a8a" stroke-width="0.9" fill="none"/><polygon points="29.6,233.4 30.3,233.4 31.1,233.4 31.8,233.4 32.6,233.4 33.3,233.4 34,233.4 34.8,233.4 35.5,233.4 36.3,233.4 37,233.4 37.8,233.4 38.5,233.4 39.2,233.3 40,233.3 40.7,233.3 41.5,233.3 42.2,233.3 42.9,233.3 43.7,233.3 44.4,233.2 45.2,233.2 45.9,233.2 46.7,233.2 47.4,233.2 48.1,233.1 48.9,233.1 49.6,233 50.4,233 51.1,232.9 51.8,232.8 52.6,232.6 53.3,232.4 54.1,232 54.8,231.5 55.6,230.7 56.3,229.7 57,228.3 57.8,226.4 58.5,224.2 59.3,221.6 60,218.8 60.7,215.9 61.5,213.2 62.2,211 63,209.6 63.7,209.3 64.5,210 65.2,211.7 65.9,214.2 66.7,217 67.4,219.9 68.2,222.6 68.9,225.1 69.6,227.2 70.4,228.8 71.1,230.1 71.9,231 72.6,231.7 73.4,232.2 74.1,232.5 74.8,232.7 75.6,232.8 76.3,232.9 77.1,233 77.8,233.1 78.5,233.1 79.3,233.1 80,233.2 80.8,233.2 81.5,233.2 82.2,233.2 83,233.3 83.7,233.3 84.5,233.3 85.2,233.3 86,233.3 86.7,233.3 87.4,233.3 88.2,233.3 88.9,233.4 89.7,233.4 90.4,233.4 91.1,233.4 91.9,233.4 92.6,233.4 93.4,233.4 93.4,233.5 92.6,233.5 91.9,233.5 91.1,233.5 90.4,233.5 89.7,233.5 88.9,233.5 88.2,233.5 87.4,233.5 86.7,233.5 86,233.5 85.2,233.5 84.5,233.5 83.7,233.5 83,233.5 82.2,233.5 81.5,233.5 80.8,233.5 80,233.5 79.3,233.5 78.5,233.5 77.8,233.5 77.1,233.5 76.3,233.5 75.6,233.5 74.8,233.5 74.1,233.5 73.4,233.5 72.6,233.5 71.9,233.5 71.1,233.5 70.4,233.5 69.6,233.5 68.9,233.5 68.2,233.5 67.4,233.5 66.7,233.5 65.9,233.5 65.2,233.5 64.5,233.5 63.7,233.5 63,233.5 62.2,233.5 61.5,233.5 60.7,233.5 60,233.5 59.3,233.5 58.5,233.5 57.8,233.5 57,233.5 56.3,233.5 55.6,233.5 54.8,233.5 54.1,233.5 53.3,233.5 52.6,233.5 51.8,233.5 51.1,233.5 50.4,233.5 49.6,233.5 48.9,233.5 48.1,233.5 47.4,233.5 46.7,233.5 45.9,233.5 45.2,233.5 44.4,233.5 43.7,233.5 42.9,233.5 42.2,233.5 41.5,233.5 40.7,233.5 40,233.5 39.2,233.5 38.5,233.5 37.8,233.5 37,233.5 36.3,233.5 35.5,233.5 34.8,233.5 34,233.5 33.3,233.5 32.6,233.5 31.8,233.5 31.1,233.5 30.3,233.5 29.6,233.5" fill="#b9b9b9"/><path d="M29.6 233.6h0M30.8 233.4h0M32 233.3h0M33.1 233.3h0M34.3 233.4h0M35.5 233.4h0M36.7 233.3h0M37.9 233.4h0M39 233.3h0M40.2 233.6h0M41.4 233.3h0M42.6 233.4h0M43.8 233.2h0M45 233.2h0M46.1 233.1h0M47.3 233.2h0M48.5 233.1h0M49.7 233.1h0M50.9 232.9h0M52 232.8h0M53.2 232.5h0M54.4 231.6h0M55.6 230.6h0M56.8 229h0M57.9 225.9h0M59.1 222.3h0M60.3 217.6h0M61.5 213.3h0M62.7 210.1h0M63.8 209.3h0M65 211.3h0M66.2 215.3h0M67.4 219.8h0M68.6 224h0M69.8 227.3h0M70.9 229.9h0M72.1 231.4h0M73.3 232.2h0M74.5 232.5h0M75.7 232.9h0M76.8 233.1h0M78 233h0M79.2 233.1h0M80.4 233.2h0M81.6 233.3h0M82.7 233.3h0M83.9 233.3h0M85.1 233.3h0M86.3 233.4h0M87.5 233.3h0M88.6 233.3h0M89.8 233.3h0M91 233.3h0M92.2 233.5h0M93.4 233.5h0" stroke="#000000" stroke-width="2.1" stroke-linecap="round" fill="none"/><path d="M29.6 233.4 L30.3 233.4 L31.1 233.4 L31.8 233.4 L32.6 233.4 L33.3 233.4 L34 233.4 L34.8 233.4 L35.5 233.4 L36.3 233.4 L37 233.4 L37.8 233.4 L38.5 233.4 L39.2 233.3 L40 233.3 L40.7 233.3 L41.5 233.3 L42.2 233.3 L42.9 233.3 L43.7 233.3 L44.4 233.2 L45.2 233.2 L45.9 233.2 L46.7 233.2 L47.4 233.2 L48.1 233.1 L48.9 233.1 L49.6 233 L50.4 233 L51.1 232.9 L51.8 232.8 L52.6 232.6 L53.3 232.4 L54.1 232 L54.8 231.5 L55.6 230.7 L56.3 229.7 L57 228.3 L57.8 226.4 L58.5 224.2 L59.3 221.6 L60 218.8 L60.7 215.9 L61.5 213.2 L62.2 211 L63 209.6 L63.7 209.3 L64.5 210 L65.2 211.7 L65.9 214.2 L66.7 217 L67.4 219.9 L68.2 222.6 L68.9 225.1 L69.6 227.2 L70.4 228.8 L71.1 230.1 L71.9 231 L72.6 231.7 L73.4 232.2 L74.1 232.5 L74.8 232.7 L75.6 232.8 L76.3 232.9 L77.1 233 L77.8 233.1 L78.5 233.1 L79.3 233.1 L80 233.2 L80.8 233.2 L81.5 233.2 L82.2 233.2 L83 233.3 L83.7 233.3 L84.5 233.3 L85.2 233.3 L86 233.3 L86.7 233.3 L87.4 233.3 L88.2 233.3 L88.9 233.4 L89.7 233.4 L90.4 233.4 L91.1 233.4 L91.9 233.4 L92.6 233.4 L93.4 233.4" stroke="#8a8a8a" stroke-width="0.9" fill="none"/><polygon points="29.6,258.4 30.3,258.4 31.1,258.4 31.8,258.4 32.6,258.4 33.3,258.4 34,258.4 34.8,258.4 35.5,258.4 36.3,258.4 37,258.4 37.8,258.4 38.5,258.4 39.2,258.3 40,258.3 40.7,258.3 41.5,258.3 42.2,258.3 42.9,258.3 43.7,258.3 44.4,258.3 45.2,258.2 45.9,258.2 46.7,258.2 47.4,258.2 48.1,258.1 48.9,258.1 49.6,258.1 50.4,258 51.1,257.9 51.8,257.8 52.6,257.7 53.3,257.4 54.1,257.1 54.8,256.6 55.6,255.8 56.3,254.8 57,253.5 57.8,251.7 58.5,249.6 59.3,247.1 60,244.4 60.7,241.6 61.5,239 62.2,236.9 63,235.6 63.7,235.3 64.5,236 65.2,237.6 65.9,240 66.7,242.6 67.4,245.4 68.2,248.1 68.9,250.4 69.6,252.4 70.4,254 71.1,255.2 71.9,256.2 72.6,256.8 73.4,257.2 74.1,257.5 74.8,257.7 75.6,257.9 76.3,258 77.1,258 77.8,258.1 78.5,258.1 79.3,258.2 80,258.2 80.8,258.2 81.5,258.2 82.2,258.2 83,258.3 83.7,258.3 84.5,258.3 85.2,258.3 86,258.3 86.7,258.3 87.4,258.3 88.2,258.4 88.9,258.4 89.7,258.4 90.4,258.4 91.1,258.4 91.9,258.4 92.6,258.4 93.4,258.4 93.4,258.5 92.6,258.5 91.9,258.5 91.1,258.5 90.4,258.5 89.7,258.5 88.9,258.5 88.2,258.5 87.4,258.5 86.7,258.5 86,258.5 85.2,258.5 84.5,258.5 83.7,258.5 83,258.5 82.2,258.5 81.5,258.5 80.8,258.5 80,258.5 79.3,258.5 78.5,258.5 77.8,258.5 77.1,258.5 76.3,258.5 75.6,258.5 74.8,258.5 74.1,258.5 73.4,258.5 72.6,258.5 71.9,258.5 71.1,258.5 70.4,258.5 69.6,258.5 68.9,258.5 68.2,258.5 67.4,258.5 66.7,258.5 65.9,258.5 65.2,258.5 64.5,258.5 63.7,258.5 63,258.5 62.2,258.5 61.5,258.5 60.7,258.5 60,258.5 59.3,258.5 58.5,258.5 57.8,258.5 57,258.5 56.3,258.5 55.6,258.5 54.8,258.5 54.1,258.5 53.3,258.5 52.6,258.5 51.8,258.5 51.1,258.5 50.4,258.5 49.6,258.5 48.9,258.5 48.1,258.5 47.4,258.5 46.7,258.5 45.9,258.5 45.2,258.5 44.4,258.5 43.7,258.5 42.9,258.5 42.2,258.5 41.5,258.5 40.7,258.5 40,258.5 39.2,258.5 38.5,258.5 37.8,258.5 37,258.5 36.3,258.5 35.5,258.5 34.8,258.5 34,258.5 33.3,258.5 32.6,258.5 31.8,258.5 31.1,258.5 30.3,258.5 29.6,258.5" fill="#b9b9b9"/><path d="M29.6 258.3h0M30.8 258.4h0M32 258.4h0M33.1 258.5h0M34.3 258.4h0M35.5 258.4h0M36.7 258.5h0M37.9 258.4h0M39 258.5h0M40.2 258.3h0M41.4 258.2h0M42.6 258.4h0M43.8 258.3h0M45 258.4h0M46.1 258.1h0M47.3 258h0M48.5 258.2h0M49.7 258.1h0M50.9 257.8h0M52 257.7h0M53.2 257.5h0M54.4 257.1h0M55.6 255.8h0M56.8 253.9h0M57.9 251.1h0M59.1 247.5h0M60.3 243.3h0M61.5 239.1h0M62.7 236.2h0M63.8 235.4h0M65 237.1h0M66.2 240.9h0M67.4 245.5h0M68.6 249.3h0M69.8 252.9h0M70.9 254.8h0M72.1 256.4h0M73.3 257.2h0M74.5 257.6h0M75.7 257.8h0M76.8 257.9h0M78 258.1h0M79.2 258.2h0M80.4 258.3h0M81.6 258.4h0M82.7 258.3h0M83.9 258.2h0M85.1 258.2h0M86.3 258.2h0M87.5 258.1h0M88.6 258.3h0M89.8 258.3h0M91 258.5h0M92.2 258.4h0M93.4 258.2h0" stroke="#000000" stroke-width="2.1" stroke-linecap="round" fill="none"/><path d="M29.6 258.4 L30.3 258.4 L31.1 258.4 L31.8 258.4 L32.6 258.4 L33.3 258.4 L34 258.4 L34.8 258.4 L35.5 258.4 L36.3 258.4 L37 258.4 L37.8 258.4 L38.5 258.4 L39.2 258.3 L40 258.3 L40.7 258.3 L41.5 258.3 L42.2 258.3 L42.9 258.3 L43.7 258.3 L44.4 258.3 L45.2 258.2 L45.9 258.2 L46.7 258.2 L47.4 258.2 L48.1 258.1 L48.9 258.1 L49.6 258.1 L50.4 258 L51.1 257.9 L51.8 257.8 L52.6 257.7 L53.3 257.4 L54.1 257.1 L54.8 256.6 L55.6 255.8 L56.3 254.8 L57 253.5 L57.8 251.7 L58.5 249.6 L59.3 247.1 L60 244.4 L60.7 241.6 L61.5 239 L62.2 236.9 L63 235.6 L63.7 235.3 L64.5 236 L65.2 237.6 L65.9 240 L66.7 242.6 L67.4 245.4 L68.2 248.1 L68.9 250.4 L69.6 252.4 L70.4 254 L71.1 255.2 L71.9 256.2 L72.6 256.8 L73.4 257.2 L74.1 257.5 L74.8 257.7 L75.6 257.9 L76.3 258 L77.1 258 L77.8 258.1 L78.5 258.1 L79.3 258.2 L80 258.2 L80.8 258.2 L81.5 258.2 L82.2 258.2 L83 258.3 L83.7 258.3 L84.5 258.3 L85.2 258.3 L86 258.3 L86.7 258.3 L87.4 258.3 L88.2 258.4 L88.9 258.4 L89.7 258.4 L90.4 258.4 L91.1 258.4 L91.9 258.4 L92.6 258.4 L93.4 258.4" stroke="#8a8a8a" stroke-width="0.9" fill="none"/><path d="M29.6 258.5 V8.6 H119 V258.5" fill="none" stroke="#ffb01e" stroke-width="1.2"/><path d="M137.4 258.5 H228" fill="none" stroke="#2ccfd4" stroke-width="1.2"/><line x1="152.9" y1="258.5" x2="152.9" y2="254.1" stroke="#2ccfd4" stroke-width="1"/><line x1="152.9" y1="8.5" x2="152.9" y2="12.9" stroke="#2ccfd4" stroke-width="1"/><line x1="167.8" y1="258.5" x2="167.8" y2="255.7" stroke="#2ccfd4" stroke-width="1"/><line x1="167.8" y1="8.5" x2="167.8" y2="11.3" stroke="#2ccfd4" stroke-width="1"/><line x1="182.7" y1="258.5" x2="182.7" y2="254.1" stroke="#2ccfd4" stroke-width="1"/><line x1="182.7" y1="8.5" x2="182.7" y2="12.9" stroke="#2ccfd4" stroke-width="1"/><line x1="197.6" y1="258.5" x2="197.6" y2="255.7" stroke="#2ccfd4" stroke-width="1"/><line x1="197.6" y1="8.5" x2="197.6" y2="11.3" stroke="#2ccfd4" stroke-width="1"/><line x1="212.5" y1="258.5" x2="212.5" y2="254.1" stroke="#2ccfd4" stroke-width="1"/><line x1="212.5" y1="8.5" x2="212.5" y2="12.9" stroke="#2ccfd4" stroke-width="1"/><line x1="138" y1="208.5" x2="142.2" y2="208.5" stroke="#2ccfd4" stroke-width="1"/><line x1="227.4" y1="208.5" x2="223.2" y2="208.5" stroke="#2ccfd4" stroke-width="1"/><line x1="138" y1="158.5" x2="142.2" y2="158.5" stroke="#2ccfd4" stroke-width="1"/><line x1="227.4" y1="158.5" x2="223.2" y2="158.5" stroke="#2ccfd4" stroke-width="1"/><line x1="138" y1="108.5" x2="142.2" y2="108.5" stroke="#2ccfd4" stroke-width="1"/><line x1="227.4" y1="108.5" x2="223.2" y2="108.5" stroke="#2ccfd4" stroke-width="1"/><line x1="138" y1="58.5" x2="142.2" y2="58.5" stroke="#2ccfd4" stroke-width="1"/><line x1="227.4" y1="58.5" x2="223.2" y2="58.5" stroke="#2ccfd4" stroke-width="1"/><polygon points="145.2,83.4 145.9,83.4 146.6,83.4 147.4,83.4 148.1,83.4 148.9,83.4 149.6,83.4 150.4,83.4 151.1,83.4 151.9,83.4 152.6,83.4 153.4,83.4 154.1,83.4 154.9,83.4 155.6,83.4 156.4,83.4 157.1,83.4 157.9,83.4 158.6,83.4 159.4,83.4 160.1,83.3 160.9,83.3 161.6,83.3 162.4,83.3 163.1,83.3 163.9,83.3 164.6,83.2 165.4,83.2 166.1,83.2 166.9,83.1 167.6,83.1 168.3,83 169.1,83 169.8,82.9 170.6,82.7 171.3,82.5 172.1,82 172.8,81.3 173.6,80.2 174.3,78.5 175.1,76.1 175.8,72.9 176.6,69.1 177.3,65.1 178.1,61.4 178.8,58.7 179.6,57.8 180.3,58.7 181.1,61.4 181.8,65.1 182.6,69.1 183.3,72.9 184.1,76.1 184.8,78.5 185.6,80.2 186.3,81.3 187.1,82 187.8,82.5 188.5,82.7 189.3,82.9 190,83 190.8,83 191.5,83.1 192.3,83.1 193,83.2 193.8,83.2 194.5,83.2 195.3,83.3 196,83.3 196.8,83.3 197.5,83.3 198.3,83.3 199,83.3 199.8,83.4 200.5,83.4 201.3,83.4 202,83.4 202.8,83.4 203.5,83.4 204.3,83.4 205,83.4 205.8,83.4 206.5,83.4 207.3,83.4 208,83.4 208.8,83.4 209.5,83.4 210.2,83.4 211,83.4 211.7,83.4 212.5,83.4 213.2,83.4 214,83.4 214,83.5 213.2,83.5 212.5,83.5 211.7,83.5 211,83.5 210.2,83.5 209.5,83.5 208.8,83.5 208,83.5 207.3,83.5 206.5,83.5 205.8,83.5 205,83.5 204.3,83.5 203.5,83.5 202.8,83.5 202,83.5 201.3,83.5 200.5,83.5 199.8,83.5 199,83.5 198.3,83.5 197.5,83.5 196.8,83.5 196,83.5 195.3,83.5 194.5,83.5 193.8,83.5 193,83.5 192.3,83.5 191.5,83.5 190.8,83.5 190,83.5 189.3,83.5 188.5,83.5 187.8,83.5 187.1,83.5 186.3,83.5 185.6,83.5 184.8,83.5 184.1,83.5 183.3,83.5 182.6,83.5 181.8,83.5 181.1,83.5 180.3,83.5 179.6,83.5 178.8,83.5 178.1,83.5 177.3,83.5 176.6,83.5 175.8,83.5 175.1,83.5 174.3,83.5 173.6,83.5 172.8,83.5 172.1,83.5 171.3,83.5 170.6,83.5 169.8,83.5 169.1,83.5 168.3,83.5 167.6,83.5 166.9,83.5 166.1,83.5 165.4,83.5 164.6,83.5 163.9,83.5 163.1,83.5 162.4,83.5 161.6,83.5 160.9,83.5 160.1,83.5 159.4,83.5 158.6,83.5 157.9,83.5 157.1,83.5 156.4,83.5 155.6,83.5 154.9,83.5 154.1,83.5 153.4,83.5 152.6,83.5 151.9,83.5 151.1,83.5 150.4,83.5 149.6,83.5 148.9,83.5 148.1,83.5 147.4,83.5 146.6,83.5 145.9,83.5 145.2,83.5" fill="#ff8080"/><path d="M145.2 83.2h0M146.3 83.5h0M147.5 83.4h0M148.7 83.4h0M149.9 83.3h0M151.1 83.6h0M152.3 83.5h0M153.5 83.5h0M154.6 83.5h0M155.8 83.5h0M157 83.4h0M158.2 83.4h0M159.4 83.4h0M160.6 83.3h0M161.8 83.4h0M163 83.6h0M164.1 83.1h0M165.3 83.3h0M166.5 83.2h0M167.7 83.1h0M168.9 83h0M170.1 82.8h0M171.3 82.6h0M172.4 81.7h0M173.6 80.3h0M174.8 76.8h0M176 72.2h0M177.2 65.8h0M178.4 60.1h0M179.6 57.7h0M180.8 60.2h0M181.9 65.8h0M183.1 72.4h0M184.3 77h0M185.5 80.1h0M186.7 81.8h0M187.9 82.4h0M189.1 82.9h0M190.3 83h0M191.4 83.3h0M192.6 83.1h0M193.8 83.4h0M195 83.4h0M196.2 83.1h0M197.4 83.3h0M198.6 83.4h0M199.7 83.4h0M200.9 83.5h0M202.1 83.5h0M203.3 83.4h0M204.5 83.6h0M205.7 83.4h0M206.9 83.6h0M208.1 83.4h0M209.2 83.6h0M210.4 83.3h0M211.6 83.4h0M212.8 83.5h0M214 83.7h0" stroke="#000000" stroke-width="2.1" stroke-linecap="round" fill="none"/><path d="M145.2 83.4 L145.9 83.4 L146.6 83.4 L147.4 83.4 L148.1 83.4 L148.9 83.4 L149.6 83.4 L150.4 83.4 L151.1 83.4 L151.9 83.4 L152.6 83.4 L153.4 83.4 L154.1 83.4 L154.9 83.4 L155.6 83.4 L156.4 83.4 L157.1 83.4 L157.9 83.4 L158.6 83.4 L159.4 83.4 L160.1 83.3 L160.9 83.3 L161.6 83.3 L162.4 83.3 L163.1 83.3 L163.9 83.3 L164.6 83.2 L165.4 83.2 L166.1 83.2 L166.9 83.1 L167.6 83.1 L168.3 83 L169.1 83 L169.8 82.9 L170.6 82.7 L171.3 82.5 L172.1 82 L172.8 81.3 L173.6 80.2 L174.3 78.5 L175.1 76.1 L175.8 72.9 L176.6 69.1 L177.3 65.1 L178.1 61.4 L178.8 58.7 L179.6 57.8 L180.3 58.7 L181.1 61.4 L181.8 65.1 L182.6 69.1 L183.3 72.9 L184.1 76.1 L184.8 78.5 L185.6 80.2 L186.3 81.3 L187.1 82 L187.8 82.5 L188.5 82.7 L189.3 82.9 L190 83 L190.8 83 L191.5 83.1 L192.3 83.1 L193 83.2 L193.8 83.2 L194.5 83.2 L195.3 83.3 L196 83.3 L196.8 83.3 L197.5 83.3 L198.3 83.3 L199 83.3 L199.8 83.4 L200.5 83.4 L201.3 83.4 L202 83.4 L202.8 83.4 L203.5 83.4 L204.3 83.4 L205 83.4 L205.8 83.4 L206.5 83.4 L207.3 83.4 L208 83.4 L208.8 83.4 L209.5 83.4 L210.2 83.4 L211 83.4 L211.7 83.4 L212.5 83.4 L213.2 83.4 L214 83.4" stroke="#e80000" stroke-width="1.05" fill="none"/><polygon points="145.2,108.5 145.9,108.5 146.6,108.5 147.4,108.5 148.1,108.5 148.9,108.5 149.6,108.5 150.4,108.5 151.1,108.5 151.9,108.5 152.6,108.4 153.4,108.4 154.1,108.4 154.9,108.4 155.6,108.4 156.4,108.4 157.1,108.4 157.9,108.4 158.6,108.4 159.4,108.4 160.1,108.4 160.9,108.4 161.6,108.4 162.3,108.4 163.1,108.4 163.8,108.4 164.6,108.4 165.3,108.3 166.1,108.3 166.8,108.3 167.6,108.3 168.3,108.3 169.1,108.2 169.8,108.2 170.6,108.2 171.3,108.1 172.1,108.1 172.8,108 173.6,107.9 174.3,107.7 175.1,107.4 175.8,106.8 176.6,105.7 177.3,104.1 178.1,101.7 178.8,98.6 179.5,94.8 180.3,90.9 181,87.6 181.8,85.7 182.5,85.9 183.3,88 184,91.5 184.8,95.4 185.5,99.1 186.3,102.2 187,104.4 187.8,105.9 188.5,106.9 189.3,107.4 190,107.7 190.8,107.9 191.5,108 192.3,108.1 193,108.1 193.8,108.2 194.5,108.2 195.2,108.3 196,108.3 196.7,108.3 197.5,108.3 198.2,108.3 199,108.3 199.7,108.4 200.5,108.4 201.2,108.4 202,108.4 202.7,108.4 203.5,108.4 204.2,108.4 205,108.4 205.7,108.4 206.5,108.4 207.2,108.4 208,108.4 208.7,108.4 209.5,108.4 210.2,108.4 211,108.4 211.7,108.4 212.4,108.5 213.2,108.5 213.9,108.5 214.7,108.5 215.4,108.5 216.2,108.5 216.9,108.5 217.7,108.5 218.4,108.5 219.2,108.5 219.9,108.5 220.7,108.5 221.4,108.5 222.2,108.5 222.9,108.5 223.7,108.5 224.4,108.5 225.2,108.5 225.9,108.5 226.7,108.5 227.4,108.5 227.4,108.5 226.7,108.5 225.9,108.5 225.2,108.5 224.4,108.5 223.7,108.5 222.9,108.5 222.2,108.5 221.4,108.5 220.7,108.5 219.9,108.5 219.2,108.5 218.4,108.5 217.7,108.5 216.9,108.5 216.2,108.5 215.4,108.5 214.7,108.5 213.9,108.5 213.2,108.5 212.4,108.5 211.7,108.5 211,108.5 210.2,108.5 209.5,108.5 208.7,108.5 208,108.5 207.2,108.5 206.5,108.5 205.7,108.5 205,108.5 204.2,108.5 203.5,108.5 202.7,108.5 202,108.5 201.2,108.5 200.5,108.5 199.7,108.5 199,108.5 198.2,108.5 197.5,108.5 196.7,108.5 196,108.5 195.2,108.5 194.5,108.5 193.8,108.5 193,108.5 192.3,108.5 191.5,108.5 190.8,108.5 190,108.5 189.3,108.5 188.5,108.5 187.8,108.5 187,108.5 186.3,108.5 185.5,108.5 184.8,108.5 184,108.5 183.3,108.5 182.5,108.5 181.8,108.5 181,108.5 180.3,108.5 179.5,108.5 178.8,108.5 178.1,108.5 177.3,108.5 176.6,108.5 175.8,108.5 175.1,108.5 174.3,108.5 173.6,108.5 172.8,108.5 172.1,108.5 171.3,108.5 170.6,108.5 169.8,108.5 169.1,108.5 168.3,108.5 167.6,108.5 166.8,108.5 166.1,108.5 165.3,108.5 164.6,108.5 163.8,108.5 163.1,108.5 162.3,108.5 161.6,108.5 160.9,108.5 160.1,108.5 159.4,108.5 158.6,108.5 157.9,108.5 157.1,108.5 156.4,108.5 155.6,108.5 154.9,108.5 154.1,108.5 153.4,108.5 152.6,108.5 151.9,108.5 151.1,108.5 150.4,108.5 149.6,108.5 148.9,108.5 148.1,108.5 147.4,108.5 146.6,108.5 145.9,108.5 145.2,108.5" fill="#ff8080"/><path d="M145.2 108.6h0M146.3 108.5h0M147.5 108.6h0M148.7 108.4h0M149.9 108.4h0M151.1 108.5h0M152.3 108.5h0M153.5 108.4h0M154.7 108.5h0M155.9 108.4h0M157.1 108.5h0M158.3 108.3h0M159.5 108.5h0M160.6 108.5h0M161.8 108.4h0M163 108.5h0M164.2 108.5h0M165.4 108.4h0M166.6 108.3h0M167.8 108.5h0M169 108.3h0M170.2 108.2h0M171.4 108.2h0M172.6 108h0M173.8 108h0M175 107.4h0M176.1 106.4h0M177.3 104h0M178.5 99.8h0M179.7 93.9h0M180.9 88.1h0M182.1 85.5h0M183.3 87.9h0M184.5 93.8h0M185.7 99.7h0M186.9 104h0M188.1 106.4h0M189.3 107.4h0M190.4 107.6h0M191.6 108.2h0M192.8 108.1h0M194 108.1h0M195.2 108.2h0M196.4 108.2h0M197.6 108.2h0M198.8 108.1h0M200 108.2h0M201.2 108.2h0M202.4 108.4h0M203.6 108.3h0M204.8 108.4h0M205.9 108.4h0M207.1 108.5h0M208.3 108.4h0M209.5 108.3h0M210.7 108.5h0M211.9 108.4h0M213.1 108.4h0M214.3 108.5h0M215.5 108.4h0M216.7 108.4h0M217.9 108.6h0M219.1 108.6h0M220.2 108.4h0M221.4 108.4h0M222.6 108.4h0M223.8 108.5h0M225 108.5h0M226.2 108.6h0M227.4 108.3h0" stroke="#000000" stroke-width="2.1" stroke-linecap="round" fill="none"/><path d="M145.2 108.5 L145.9 108.5 L146.6 108.5 L147.4 108.5 L148.1 108.5 L148.9 108.5 L149.6 108.5 L150.4 108.5 L151.1 108.5 L151.9 108.5 L152.6 108.4 L153.4 108.4 L154.1 108.4 L154.9 108.4 L155.6 108.4 L156.4 108.4 L157.1 108.4 L157.9 108.4 L158.6 108.4 L159.4 108.4 L160.1 108.4 L160.9 108.4 L161.6 108.4 L162.3 108.4 L163.1 108.4 L163.8 108.4 L164.6 108.4 L165.3 108.3 L166.1 108.3 L166.8 108.3 L167.6 108.3 L168.3 108.3 L169.1 108.2 L169.8 108.2 L170.6 108.2 L171.3 108.1 L172.1 108.1 L172.8 108 L173.6 107.9 L174.3 107.7 L175.1 107.4 L175.8 106.8 L176.6 105.7 L177.3 104.1 L178.1 101.7 L178.8 98.6 L179.5 94.8 L180.3 90.9 L181 87.6 L181.8 85.7 L182.5 85.9 L183.3 88 L184 91.5 L184.8 95.4 L185.5 99.1 L186.3 102.2 L187 104.4 L187.8 105.9 L188.5 106.9 L189.3 107.4 L190 107.7 L190.8 107.9 L191.5 108 L192.3 108.1 L193 108.1 L193.8 108.2 L194.5 108.2 L195.2 108.3 L196 108.3 L196.7 108.3 L197.5 108.3 L198.2 108.3 L199 108.3 L199.7 108.4 L200.5 108.4 L201.2 108.4 L202 108.4 L202.7 108.4 L203.5 108.4 L204.2 108.4 L205 108.4 L205.7 108.4 L206.5 108.4 L207.2 108.4 L208 108.4 L208.7 108.4 L209.5 108.4 L210.2 108.4 L211 108.4 L211.7 108.4 L212.4 108.5 L213.2 108.5 L213.9 108.5 L214.7 108.5 L215.4 108.5 L216.2 108.5 L216.9 108.5 L217.7 108.5 L218.4 108.5 L219.2 108.5 L219.9 108.5 L220.7 108.5 L221.4 108.5 L222.2 108.5 L222.9 108.5 L223.7 108.5 L224.4 108.5 L225.2 108.5 L225.9 108.5 L226.7 108.5 L227.4 108.5" stroke="#e80000" stroke-width="1.05" fill="none"/><polygon points="145.2,133.5 145.9,133.5 146.6,133.5 147.4,133.5 148.1,133.5 148.9,133.5 149.6,133.5 150.4,133.5 151.1,133.5 151.9,133.5 152.6,133.5 153.4,133.5 154.1,133.5 154.9,133.5 155.6,133.5 156.4,133.5 157.1,133.5 157.9,133.5 158.6,133.5 159.4,133.5 160.1,133.5 160.9,133.5 161.6,133.4 162.3,133.4 163.1,133.4 163.8,133.2 164.6,133 165.3,132.7 166.1,132.4 166.8,132.1 167.6,132 168.3,132.1 169.1,132.5 169.8,132.8 170.6,133.1 171.3,133.3 172.1,133.4 172.8,133.4 173.6,133.5 174.3,133.5 175.1,133.5 175.8,133.5 176.6,133.5 177.3,133.5 178.1,133.5 178.8,133.5 179.5,133.5 180.3,133.5 181,133.5 181.8,133.5 182.5,133.5 183.3,133.5 184,133.5 184.8,133.5 185.5,133.5 186.3,133.5 187,133.5 187.8,133.5 188.5,133.5 189.3,133.5 190,133.5 190.8,133.5 191.5,133.5 192.3,133.5 193,133.5 193.8,133.5 194.5,133.5 195.2,133.5 196,133.5 196.7,133.5 197.5,133.5 198.2,133.5 199,133.5 199.7,133.5 200.5,133.5 201.2,133.5 202,133.5 202.7,133.5 203.5,133.5 204.2,133.5 205,133.5 205.7,133.5 206.5,133.5 207.2,133.5 208,133.5 208.7,133.5 209.5,133.5 210.2,133.5 211,133.5 211.7,133.5 212.4,133.5 213.2,133.5 213.9,133.5 214.7,133.5 215.4,133.5 216.2,133.5 216.9,133.5 217.7,133.5 218.4,133.5 219.2,133.5 219.9,133.5 220.7,133.5 221.4,133.5 222.2,133.5 222.9,133.5 223.7,133.5 224.4,133.5 225.2,133.5 225.9,133.5 226.7,133.5 227.4,133.5 227.4,133.5 226.7,133.5 225.9,133.5 225.2,133.5 224.4,133.5 223.7,133.5 222.9,133.5 222.2,133.5 221.4,133.5 220.7,133.5 219.9,133.5 219.2,133.5 218.4,133.5 217.7,133.5 216.9,133.5 216.2,133.5 215.4,133.5 214.7,133.5 213.9,133.5 213.2,133.5 212.4,133.5 211.7,133.5 211,133.5 210.2,133.5 209.5,133.5 208.7,133.5 208,133.5 207.2,133.5 206.5,133.5 205.7,133.5 205,133.5 204.2,133.5 203.5,133.5 202.7,133.5 202,133.5 201.2,133.5 200.5,133.5 199.7,133.5 199,133.5 198.2,133.5 197.5,133.5 196.7,133.5 196,133.5 195.2,133.5 194.5,133.5 193.8,133.5 193,133.5 192.3,133.5 191.5,133.5 190.8,133.5 190,133.5 189.3,133.5 188.5,133.5 187.8,133.5 187,133.5 186.3,133.5 185.5,133.5 184.8,133.5 184,133.5 183.3,133.5 182.5,133.5 181.8,133.5 181,133.5 180.3,133.5 179.5,133.5 178.8,133.5 178.1,133.5 177.3,133.5 176.6,133.5 175.8,133.5 175.1,133.5 174.3,133.5 173.6,133.5 172.8,133.5 172.1,133.5 171.3,133.5 170.6,133.5 169.8,133.5 169.1,133.5 168.3,133.5 167.6,133.5 166.8,133.5 166.1,133.5 165.3,133.5 164.6,133.5 163.8,133.5 163.1,133.5 162.3,133.5 161.6,133.5 160.9,133.5 160.1,133.5 159.4,133.5 158.6,133.5 157.9,133.5 157.1,133.5 156.4,133.5 155.6,133.5 154.9,133.5 154.1,133.5 153.4,133.5 152.6,133.5 151.9,133.5 151.1,133.5 150.4,133.5 149.6,133.5 148.9,133.5 148.1,133.5 147.4,133.5 146.6,133.5 145.9,133.5 145.2,133.5" fill="#b9b9b9"/><polygon points="145.2,133.5 145.9,133.5 146.6,133.5 147.4,133.5 148.1,133.5 148.9,133.5 149.6,133.5 150.4,133.5 151.1,133.5 151.9,133.5 152.6,133.4 153.4,133.4 154.1,133.4 154.9,133.4 155.6,133.4 156.4,133.4 157.1,133.4 157.9,133.4 158.6,133.4 159.4,133.4 160.1,133.4 160.9,133.4 161.6,133.4 162.3,133.3 163.1,133.3 163.8,133.1 164.6,132.9 165.3,132.6 166.1,132.2 166.8,131.9 167.6,131.8 168.3,132 169.1,132.2 169.8,132.6 170.6,132.8 171.3,133 172.1,133 172.8,133 173.6,133 174.3,132.9 175.1,132.8 175.8,132.6 176.6,132.1 177.3,131.2 178.1,129.7 178.8,127.2 179.5,123.7 180.3,119.3 181,114.5 181.8,110.6 182.5,108.6 183.3,109.4 184,112.7 184.8,117.2 185.5,121.9 186.3,125.8 187,128.7 187.8,130.7 188.5,131.8 189.3,132.4 190,132.7 190.8,132.9 191.5,133 192.3,133.1 193,133.1 193.8,133.2 194.5,133.2 195.2,133.3 196,133.3 196.7,133.3 197.5,133.3 198.2,133.3 199,133.4 199.7,133.4 200.5,133.4 201.2,133.4 202,133.4 202.7,133.4 203.5,133.4 204.2,133.4 205,133.4 205.7,133.4 206.5,133.4 207.2,133.4 208,133.4 208.7,133.4 209.5,133.4 210.2,133.4 211,133.5 211.7,133.5 212.4,133.5 213.2,133.5 213.9,133.5 214.7,133.5 215.4,133.5 216.2,133.5 216.9,133.5 217.7,133.5 218.4,133.5 219.2,133.5 219.9,133.5 220.7,133.5 221.4,133.5 222.2,133.5 222.9,133.5 223.7,133.5 224.4,133.5 225.2,133.5 225.9,133.5 226.7,133.5 227.4,133.5 227.4,133.5 226.7,133.5 225.9,133.5 225.2,133.5 224.4,133.5 223.7,133.5 222.9,133.5 222.2,133.5 221.4,133.5 220.7,133.5 219.9,133.5 219.2,133.5 218.4,133.5 217.7,133.5 216.9,133.5 216.2,133.5 215.4,133.5 214.7,133.5 213.9,133.5 213.2,133.5 212.4,133.5 211.7,133.5 211,133.5 210.2,133.5 209.5,133.5 208.7,133.5 208,133.5 207.2,133.5 206.5,133.5 205.7,133.5 205,133.5 204.2,133.5 203.5,133.5 202.7,133.5 202,133.5 201.2,133.5 200.5,133.5 199.7,133.5 199,133.5 198.2,133.5 197.5,133.5 196.7,133.5 196,133.5 195.2,133.5 194.5,133.5 193.8,133.5 193,133.5 192.3,133.5 191.5,133.5 190.8,133.5 190,133.5 189.3,133.5 188.5,133.5 187.8,133.5 187,133.5 186.3,133.5 185.5,133.5 184.8,133.5 184,133.5 183.3,133.5 182.5,133.5 181.8,133.5 181,133.5 180.3,133.5 179.5,133.5 178.8,133.5 178.1,133.5 177.3,133.5 176.6,133.5 175.8,133.5 175.1,133.5 174.3,133.5 173.6,133.5 172.8,133.4 172.1,133.4 171.3,133.3 170.6,133.1 169.8,132.8 169.1,132.5 168.3,132.1 167.6,132 166.8,132.1 166.1,132.4 165.3,132.7 164.6,133 163.8,133.2 163.1,133.4 162.3,133.4 161.6,133.4 160.9,133.5 160.1,133.5 159.4,133.5 158.6,133.5 157.9,133.5 157.1,133.5 156.4,133.5 155.6,133.5 154.9,133.5 154.1,133.5 153.4,133.5 152.6,133.5 151.9,133.5 151.1,133.5 150.4,133.5 149.6,133.5 148.9,133.5 148.1,133.5 147.4,133.5 146.6,133.5 145.9,133.5 145.2,133.5" fill="#ff8080"/><path d="M145.2 133.6h0M146.3 133.4h0M147.5 133.6h0M148.7 133.5h0M149.9 133.4h0M151.1 133.5h0M152.3 133.5h0M153.5 133.4h0M154.7 133.4h0M155.9 133.4h0M157.1 133.5h0M158.3 133.5h0M159.5 133.5h0M160.6 133.4h0M161.8 133.4h0M163 133.2h0M164.2 133h0M165.4 132.6h0M166.6 132.1h0M167.8 131.7h0M169 132.2h0M170.2 132.7h0M171.4 133h0M172.6 133h0M173.8 133h0M175 132.7h0M176.1 132.3h0M177.3 131.5h0M178.5 128.2h0M179.7 122.4h0M180.9 115.5h0M182.1 109.4h0M183.3 109.3h0M184.5 115.4h0M185.7 122.6h0M186.9 128.4h0M188.1 131.3h0M189.3 132.4h0M190.4 132.9h0M191.6 133.1h0M192.8 133.1h0M194 133.2h0M195.2 133.3h0M196.4 133.3h0M197.6 133.3h0M198.8 133.4h0M200 133.4h0M201.2 133.3h0M202.4 133.4h0M203.6 133.4h0M204.8 133.3h0M205.9 133.5h0M207.1 133.4h0M208.3 133.5h0M209.5 133.3h0M210.7 133.4h0M211.9 133.2h0M213.1 133.3h0M214.3 133.5h0M215.5 133.6h0M216.7 133.4h0M217.9 133.5h0M219.1 133.5h0M220.2 133.6h0M221.4 133.4h0M222.6 133.5h0M223.8 133.4h0M225 133.4h0M226.2 133.6h0M227.4 133.7h0" stroke="#000000" stroke-width="2.1" stroke-linecap="round" fill="none"/><path d="M145.2 133.5 L145.9 133.5 L146.6 133.5 L147.4 133.5 L148.1 133.5 L148.9 133.5 L149.6 133.5 L150.4 133.5 L151.1 133.5 L151.9 133.5 L152.6 133.5 L153.4 133.5 L154.1 133.5 L154.9 133.5 L155.6 133.5 L156.4 133.5 L157.1 133.5 L157.9 133.5 L158.6 133.5 L159.4 133.5 L160.1 133.5 L160.9 133.5 L161.6 133.4 L162.3 133.4 L163.1 133.4 L163.8 133.2 L164.6 133 L165.3 132.7 L166.1 132.4 L166.8 132.1 L167.6 132 L168.3 132.1 L169.1 132.5 L169.8 132.8 L170.6 133.1 L171.3 133.3 L172.1 133.4 L172.8 133.4 L173.6 133.5 L174.3 133.5 L175.1 133.5 L175.8 133.5 L176.6 133.5 L177.3 133.5 L178.1 133.5 L178.8 133.5 L179.5 133.5 L180.3 133.5 L181 133.5 L181.8 133.5 L182.5 133.5 L183.3 133.5 L184 133.5 L184.8 133.5 L185.5 133.5 L186.3 133.5 L187 133.5 L187.8 133.5 L188.5 133.5 L189.3 133.5 L190 133.5 L190.8 133.5 L191.5 133.5 L192.3 133.5 L193 133.5 L193.8 133.5 L194.5 133.5 L195.2 133.5 L196 133.5 L196.7 133.5 L197.5 133.5 L198.2 133.5 L199 133.5 L199.7 133.5 L200.5 133.5 L201.2 133.5 L202 133.5 L202.7 133.5 L203.5 133.5 L204.2 133.5 L205 133.5 L205.7 133.5 L206.5 133.5 L207.2 133.5 L208 133.5 L208.7 133.5 L209.5 133.5 L210.2 133.5 L211 133.5 L211.7 133.5 L212.4 133.5 L213.2 133.5 L213.9 133.5 L214.7 133.5 L215.4 133.5 L216.2 133.5 L216.9 133.5 L217.7 133.5 L218.4 133.5 L219.2 133.5 L219.9 133.5 L220.7 133.5 L221.4 133.5 L222.2 133.5 L222.9 133.5 L223.7 133.5 L224.4 133.5 L225.2 133.5 L225.9 133.5 L226.7 133.5 L227.4 133.5" stroke="#8a8a8a" stroke-width="0.9" fill="none"/><path d="M145.2 133.5 L145.9 133.5 L146.6 133.5 L147.4 133.5 L148.1 133.5 L148.9 133.5 L149.6 133.5 L150.4 133.5 L151.1 133.5 L151.9 133.5 L152.6 133.5 L153.4 133.5 L154.1 133.5 L154.9 133.4 L155.6 133.4 L156.4 133.4 L157.1 133.4 L157.9 133.4 L158.6 133.4 L159.4 133.4 L160.1 133.4 L160.9 133.4 L161.6 133.4 L162.3 133.4 L163.1 133.4 L163.8 133.4 L164.6 133.4 L165.3 133.4 L166.1 133.4 L166.8 133.3 L167.6 133.3 L168.3 133.3 L169.1 133.3 L169.8 133.3 L170.6 133.2 L171.3 133.2 L172.1 133.2 L172.8 133.1 L173.6 133.1 L174.3 133 L175.1 132.8 L175.8 132.6 L176.6 132.1 L177.3 131.2 L178.1 129.7 L178.8 127.2 L179.5 123.7 L180.3 119.3 L181 114.6 L181.8 110.6 L182.5 108.6 L183.3 109.4 L184 112.7 L184.8 117.2 L185.5 121.9 L186.3 125.8 L187 128.8 L187.8 130.7 L188.5 131.8 L189.3 132.4 L190 132.7 L190.8 132.9 L191.5 133 L192.3 133.1 L193 133.2 L193.8 133.2 L194.5 133.2 L195.2 133.3 L196 133.3 L196.7 133.3 L197.5 133.3 L198.2 133.3 L199 133.4 L199.7 133.4 L200.5 133.4 L201.2 133.4 L202 133.4 L202.7 133.4 L203.5 133.4 L204.2 133.4 L205 133.4 L205.7 133.4 L206.5 133.4 L207.2 133.4 L208 133.4 L208.7 133.4 L209.5 133.4 L210.2 133.4 L211 133.5 L211.7 133.5 L212.4 133.5 L213.2 133.5 L213.9 133.5 L214.7 133.5 L215.4 133.5 L216.2 133.5 L216.9 133.5 L217.7 133.5 L218.4 133.5 L219.2 133.5 L219.9 133.5 L220.7 133.5 L221.4 133.5 L222.2 133.5 L222.9 133.5 L223.7 133.5 L224.4 133.5 L225.2 133.5 L225.9 133.5 L226.7 133.5 L227.4 133.5" stroke="#e80000" stroke-width="1.05" fill="none"/><polygon points="145.2,158.5 145.9,158.5 146.6,158.5 147.4,158.5 148.1,158.5 148.9,158.5 149.6,158.5 150.4,158.5 151.1,158.5 151.9,158.5 152.6,158.5 153.4,158.5 154.1,158.5 154.9,158.5 155.6,158.5 156.4,158.5 157.1,158.5 157.9,158.5 158.6,158.5 159.4,158.5 160.1,158.5 160.9,158.5 161.6,158.4 162.3,158.4 163.1,158.3 163.8,158.2 164.6,158 165.3,157.7 166.1,157.3 166.8,157 167.6,156.8 168.3,156.8 169.1,157.1 169.8,157.4 170.6,157.8 171.3,158.1 172.1,158.3 172.8,158.4 173.6,158.4 174.3,158.4 175.1,158.5 175.8,158.5 176.6,158.5 177.3,158.5 178.1,158.5 178.8,158.5 179.5,158.5 180.3,158.5 181,158.5 181.8,158.5 182.5,158.5 183.3,158.5 184,158.5 184.8,158.5 185.5,158.5 186.3,158.5 187,158.5 187.8,158.5 188.5,158.5 189.3,158.5 190,158.5 190.8,158.5 191.5,158.5 192.3,158.5 193,158.5 193.8,158.5 194.5,158.5 195.2,158.5 196,158.5 196.7,158.5 197.5,158.5 198.2,158.5 199,158.5 199.7,158.5 200.5,158.5 201.2,158.5 202,158.5 202.7,158.5 203.5,158.5 204.2,158.5 205,158.5 205.7,158.5 206.5,158.5 207.2,158.5 208,158.5 208.7,158.5 209.5,158.5 210.2,158.5 211,158.5 211.7,158.5 212.4,158.5 213.2,158.5 213.9,158.5 214.7,158.5 215.4,158.5 216.2,158.5 216.9,158.5 217.7,158.5 218.4,158.5 219.2,158.5 219.9,158.5 220.7,158.5 221.4,158.5 222.2,158.5 222.9,158.5 223.7,158.5 224.4,158.5 225.2,158.5 225.9,158.5 226.7,158.5 227.4,158.5 227.4,158.5 226.7,158.5 225.9,158.5 225.2,158.5 224.4,158.5 223.7,158.5 222.9,158.5 222.2,158.5 221.4,158.5 220.7,158.5 219.9,158.5 219.2,158.5 218.4,158.5 217.7,158.5 216.9,158.5 216.2,158.5 215.4,158.5 214.7,158.5 213.9,158.5 213.2,158.5 212.4,158.5 211.7,158.5 211,158.5 210.2,158.5 209.5,158.5 208.7,158.5 208,158.5 207.2,158.5 206.5,158.5 205.7,158.5 205,158.5 204.2,158.5 203.5,158.5 202.7,158.5 202,158.5 201.2,158.5 200.5,158.5 199.7,158.5 199,158.5 198.2,158.5 197.5,158.5 196.7,158.5 196,158.5 195.2,158.5 194.5,158.5 193.8,158.5 193,158.5 192.3,158.5 191.5,158.5 190.8,158.5 190,158.5 189.3,158.5 188.5,158.5 187.8,158.5 187,158.5 186.3,158.5 185.5,158.5 184.8,158.5 184,158.5 183.3,158.5 182.5,158.5 181.8,158.5 181,158.5 180.3,158.5 179.5,158.5 178.8,158.5 178.1,158.5 177.3,158.5 176.6,158.5 175.8,158.5 175.1,158.5 174.3,158.5 173.6,158.5 172.8,158.5 172.1,158.5 171.3,158.5 170.6,158.5 169.8,158.5 169.1,158.5 168.3,158.5 167.6,158.5 166.8,158.5 166.1,158.5 165.3,158.5 164.6,158.5 163.8,158.5 163.1,158.5 162.3,158.5 161.6,158.5 160.9,158.5 160.1,158.5 159.4,158.5 158.6,158.5 157.9,158.5 157.1,158.5 156.4,158.5 155.6,158.5 154.9,158.5 154.1,158.5 153.4,158.5 152.6,158.5 151.9,158.5 151.1,158.5 150.4,158.5 149.6,158.5 148.9,158.5 148.1,158.5 147.4,158.5 146.6,158.5 145.9,158.5 145.2,158.5" fill="#b9b9b9"/><polygon points="145.2,158.5 145.9,158.5 146.6,158.5 147.4,158.5 148.1,158.5 148.9,158.5 149.6,158.5 150.4,158.5 151.1,158.5 151.9,158.5 152.6,158.5 153.4,158.5 154.1,158.4 154.9,158.4 155.6,158.4 156.4,158.4 157.1,158.4 157.9,158.4 158.6,158.4 159.4,158.4 160.1,158.4 160.9,158.4 161.6,158.4 162.3,158.3 163.1,158.2 163.8,158.1 164.6,157.9 165.3,157.6 166.1,157.2 166.8,156.8 167.6,156.6 168.3,156.7 169.1,156.9 169.8,157.3 170.6,157.6 171.3,157.9 172.1,158 172.8,158.1 173.6,158.1 174.3,158.1 175.1,158 175.8,157.9 176.6,157.8 177.3,157.5 178.1,156.9 178.8,155.9 179.5,154.1 180.3,151.4 181,147.8 181.8,143.5 182.5,139.2 183.3,136.1 184,135.3 184.8,137.1 185.5,140.8 186.3,145.1 187,149.3 187.8,152.6 188.5,154.9 189.3,156.4 190,157.2 190.8,157.6 191.5,157.9 192.3,158 193,158.1 193.8,158.1 194.5,158.2 195.2,158.2 196,158.3 196.7,158.3 197.5,158.3 198.2,158.3 199,158.3 199.7,158.4 200.5,158.4 201.2,158.4 202,158.4 202.7,158.4 203.5,158.4 204.2,158.4 205,158.4 205.7,158.4 206.5,158.4 207.2,158.4 208,158.4 208.7,158.4 209.5,158.4 210.2,158.4 211,158.4 211.7,158.5 212.4,158.5 213.2,158.5 213.9,158.5 214.7,158.5 215.4,158.5 216.2,158.5 216.9,158.5 217.7,158.5 218.4,158.5 219.2,158.5 219.9,158.5 220.7,158.5 221.4,158.5 222.2,158.5 222.9,158.5 223.7,158.5 224.4,158.5 225.2,158.5 225.9,158.5 226.7,158.5 227.4,158.5 227.4,158.5 226.7,158.5 225.9,158.5 225.2,158.5 224.4,158.5 223.7,158.5 222.9,158.5 222.2,158.5 221.4,158.5 220.7,158.5 219.9,158.5 219.2,158.5 218.4,158.5 217.7,158.5 216.9,158.5 216.2,158.5 215.4,158.5 214.7,158.5 213.9,158.5 213.2,158.5 212.4,158.5 211.7,158.5 211,158.5 210.2,158.5 209.5,158.5 208.7,158.5 208,158.5 207.2,158.5 206.5,158.5 205.7,158.5 205,158.5 204.2,158.5 203.5,158.5 202.7,158.5 202,158.5 201.2,158.5 200.5,158.5 199.7,158.5 199,158.5 198.2,158.5 197.5,158.5 196.7,158.5 196,158.5 195.2,158.5 194.5,158.5 193.8,158.5 193,158.5 192.3,158.5 191.5,158.5 190.8,158.5 190,158.5 189.3,158.5 188.5,158.5 187.8,158.5 187,158.5 186.3,158.5 185.5,158.5 184.8,158.5 184,158.5 183.3,158.5 182.5,158.5 181.8,158.5 181,158.5 180.3,158.5 179.5,158.5 178.8,158.5 178.1,158.5 177.3,158.5 176.6,158.5 175.8,158.5 175.1,158.5 174.3,158.4 173.6,158.4 172.8,158.4 172.1,158.3 171.3,158.1 170.6,157.8 169.8,157.4 169.1,157.1 168.3,156.8 167.6,156.8 166.8,157 166.1,157.3 165.3,157.7 164.6,158 163.8,158.2 163.1,158.3 162.3,158.4 161.6,158.4 160.9,158.5 160.1,158.5 159.4,158.5 158.6,158.5 157.9,158.5 157.1,158.5 156.4,158.5 155.6,158.5 154.9,158.5 154.1,158.5 153.4,158.5 152.6,158.5 151.9,158.5 151.1,158.5 150.4,158.5 149.6,158.5 148.9,158.5 148.1,158.5 147.4,158.5 146.6,158.5 145.9,158.5 145.2,158.5" fill="#ff8080"/><path d="M145.2 158.5h0M146.3 158.5h0M147.5 158.5h0M148.7 158.4h0M149.9 158.5h0M151.1 158.3h0M152.3 158.4h0M153.5 158.4h0M154.7 158.4h0M155.9 158.4h0M157.1 158.6h0M158.3 158.3h0M159.5 158.4h0M160.6 158.5h0M161.8 158.3h0M163 158.2h0M164.2 157.9h0M165.4 157.4h0M166.6 156.9h0M167.8 156.8h0M169 156.7h0M170.2 157.3h0M171.4 157.8h0M172.6 158h0M173.8 158h0M175 158.1h0M176.1 157.8h0M177.3 157.5h0M178.5 156.4h0M179.7 153.6h0M180.9 148.5h0M182.1 141.5h0M183.3 136h0M184.5 136.3h0M185.7 141.8h0M186.9 148.5h0M188.1 153.6h0M189.3 156.4h0M190.4 157.6h0M191.6 157.9h0M192.8 158.2h0M194 158.2h0M195.2 158.1h0M196.4 158.2h0M197.6 158.4h0M198.8 158.4h0M200 158.4h0M201.2 158.2h0M202.4 158.4h0M203.6 158.2h0M204.8 158.5h0M205.9 158.4h0M207.1 158.4h0M208.3 158.5h0M209.5 158.4h0M210.7 158.6h0M211.9 158.4h0M213.1 158.3h0M214.3 158.5h0M215.5 158.4h0M216.7 158.5h0M217.9 158.7h0M219.1 158.2h0M220.2 158.4h0M221.4 158.4h0M222.6 158.4h0M223.8 158.5h0M225 158.2h0M226.2 158.7h0M227.4 158.5h0" stroke="#000000" stroke-width="2.1" stroke-linecap="round" fill="none"/><path d="M145.2 158.5 L145.9 158.5 L146.6 158.5 L147.4 158.5 L148.1 158.5 L148.9 158.5 L149.6 158.5 L150.4 158.5 L151.1 158.5 L151.9 158.5 L152.6 158.5 L153.4 158.5 L154.1 158.5 L154.9 158.5 L155.6 158.5 L156.4 158.5 L157.1 158.5 L157.9 158.5 L158.6 158.5 L159.4 158.5 L160.1 158.5 L160.9 158.5 L161.6 158.4 L162.3 158.4 L163.1 158.3 L163.8 158.2 L164.6 158 L165.3 157.7 L166.1 157.3 L166.8 157 L167.6 156.8 L168.3 156.8 L169.1 157.1 L169.8 157.4 L170.6 157.8 L171.3 158.1 L172.1 158.3 L172.8 158.4 L173.6 158.4 L174.3 158.4 L175.1 158.5 L175.8 158.5 L176.6 158.5 L177.3 158.5 L178.1 158.5 L178.8 158.5 L179.5 158.5 L180.3 158.5 L181 158.5 L181.8 158.5 L182.5 158.5 L183.3 158.5 L184 158.5 L184.8 158.5 L185.5 158.5 L186.3 158.5 L187 158.5 L187.8 158.5 L188.5 158.5 L189.3 158.5 L190 158.5 L190.8 158.5 L191.5 158.5 L192.3 158.5 L193 158.5 L193.8 158.5 L194.5 158.5 L195.2 158.5 L196 158.5 L196.7 158.5 L197.5 158.5 L198.2 158.5 L199 158.5 L199.7 158.5 L200.5 158.5 L201.2 158.5 L202 158.5 L202.7 158.5 L203.5 158.5 L204.2 158.5 L205 158.5 L205.7 158.5 L206.5 158.5 L207.2 158.5 L208 158.5 L208.7 158.5 L209.5 158.5 L210.2 158.5 L211 158.5 L211.7 158.5 L212.4 158.5 L213.2 158.5 L213.9 158.5 L214.7 158.5 L215.4 158.5 L216.2 158.5 L216.9 158.5 L217.7 158.5 L218.4 158.5 L219.2 158.5 L219.9 158.5 L220.7 158.5 L221.4 158.5 L222.2 158.5 L222.9 158.5 L223.7 158.5 L224.4 158.5 L225.2 158.5 L225.9 158.5 L226.7 158.5 L227.4 158.5" stroke="#8a8a8a" stroke-width="0.9" fill="none"/><path d="M145.2 158.5 L145.9 158.5 L146.6 158.5 L147.4 158.5 L148.1 158.5 L148.9 158.5 L149.6 158.5 L150.4 158.5 L151.1 158.5 L151.9 158.5 L152.6 158.5 L153.4 158.5 L154.1 158.5 L154.9 158.5 L155.6 158.5 L156.4 158.5 L157.1 158.4 L157.9 158.4 L158.6 158.4 L159.4 158.4 L160.1 158.4 L160.9 158.4 L161.6 158.4 L162.3 158.4 L163.1 158.4 L163.8 158.4 L164.6 158.4 L165.3 158.4 L166.1 158.4 L166.8 158.4 L167.6 158.4 L168.3 158.4 L169.1 158.3 L169.8 158.3 L170.6 158.3 L171.3 158.3 L172.1 158.2 L172.8 158.2 L173.6 158.2 L174.3 158.1 L175.1 158.1 L175.8 158 L176.6 157.8 L177.3 157.5 L178.1 156.9 L178.8 155.9 L179.5 154.1 L180.3 151.5 L181 147.8 L181.8 143.5 L182.5 139.2 L183.3 136.1 L184 135.3 L184.8 137.1 L185.5 140.8 L186.3 145.2 L187 149.3 L187.8 152.6 L188.5 154.9 L189.3 156.4 L190 157.2 L190.8 157.6 L191.5 157.9 L192.3 158 L193 158.1 L193.8 158.1 L194.5 158.2 L195.2 158.2 L196 158.3 L196.7 158.3 L197.5 158.3 L198.2 158.3 L199 158.3 L199.7 158.4 L200.5 158.4 L201.2 158.4 L202 158.4 L202.7 158.4 L203.5 158.4 L204.2 158.4 L205 158.4 L205.7 158.4 L206.5 158.4 L207.2 158.4 L208 158.4 L208.7 158.4 L209.5 158.4 L210.2 158.4 L211 158.5 L211.7 158.5 L212.4 158.5 L213.2 158.5 L213.9 158.5 L214.7 158.5 L215.4 158.5 L216.2 158.5 L216.9 158.5 L217.7 158.5 L218.4 158.5 L219.2 158.5 L219.9 158.5 L220.7 158.5 L221.4 158.5 L222.2 158.5 L222.9 158.5 L223.7 158.5 L224.4 158.5 L225.2 158.5 L225.9 158.5 L226.7 158.5 L227.4 158.5" stroke="#e80000" stroke-width="1.05" fill="none"/><polygon points="145.2,183.5 145.9,183.5 146.6,183.5 147.4,183.5 148.1,183.5 148.9,183.5 149.6,183.5 150.4,183.5 151.1,183.5 151.9,183.5 152.6,183.5 153.4,183.5 154.1,183.5 154.9,183.5 155.6,183.5 156.4,183.5 157.1,183.5 157.9,183.5 158.6,183.5 159.4,183.5 160.1,183.5 160.9,183.4 161.6,183.4 162.3,183.4 163.1,183.3 163.8,183.1 164.6,182.9 165.3,182.5 166.1,182.1 166.8,181.6 167.6,181.3 168.3,181.3 169.1,181.5 169.8,181.9 170.6,182.3 171.3,182.7 172.1,183 172.8,183.2 173.6,183.3 174.3,183.4 175.1,183.4 175.8,183.4 176.6,183.5 177.3,183.5 178.1,183.5 178.8,183.5 179.5,183.5 180.3,183.5 181,183.5 181.8,183.5 182.5,183.5 183.3,183.5 184,183.5 184.8,183.5 185.5,183.5 186.3,183.5 187,183.5 187.8,183.5 188.5,183.5 189.3,183.5 190,183.5 190.8,183.5 191.5,183.5 192.3,183.5 193,183.5 193.8,183.5 194.5,183.5 195.2,183.5 196,183.5 196.7,183.5 197.5,183.5 198.2,183.5 199,183.5 199.7,183.5 200.5,183.5 201.2,183.5 202,183.5 202.7,183.5 203.5,183.5 204.2,183.5 205,183.5 205.7,183.5 206.5,183.5 207.2,183.5 208,183.5 208.7,183.5 209.5,183.5 210.2,183.5 211,183.5 211.7,183.5 212.4,183.5 213.2,183.5 213.9,183.5 214.7,183.5 215.4,183.5 216.2,183.5 216.9,183.5 217.7,183.5 218.4,183.5 219.2,183.5 219.9,183.5 220.7,183.5 221.4,183.5 222.2,183.5 222.9,183.5 223.7,183.5 224.4,183.5 225.2,183.5 225.9,183.5 226.7,183.5 227.4,183.5 227.4,183.5 226.7,183.5 225.9,183.5 225.2,183.5 224.4,183.5 223.7,183.5 222.9,183.5 222.2,183.5 221.4,183.5 220.7,183.5 219.9,183.5 219.2,183.5 218.4,183.5 217.7,183.5 216.9,183.5 216.2,183.5 215.4,183.5 214.7,183.5 213.9,183.5 213.2,183.5 212.4,183.5 211.7,183.5 211,183.5 210.2,183.5 209.5,183.5 208.7,183.5 208,183.5 207.2,183.5 206.5,183.5 205.7,183.5 205,183.5 204.2,183.5 203.5,183.5 202.7,183.5 202,183.5 201.2,183.5 200.5,183.5 199.7,183.5 199,183.5 198.2,183.5 197.5,183.5 196.7,183.5 196,183.5 195.2,183.5 194.5,183.5 193.8,183.5 193,183.5 192.3,183.5 191.5,183.5 190.8,183.5 190,183.5 189.3,183.5 188.5,183.5 187.8,183.5 187,183.5 186.3,183.5 185.5,183.5 184.8,183.5 184,183.5 183.3,183.5 182.5,183.5 181.8,183.5 181,183.5 180.3,183.5 179.5,183.5 178.8,183.5 178.1,183.5 177.3,183.5 176.6,183.5 175.8,183.5 175.1,183.5 174.3,183.5 173.6,183.5 172.8,183.5 172.1,183.5 171.3,183.5 170.6,183.5 169.8,183.5 169.1,183.5 168.3,183.5 167.6,183.5 166.8,183.5 166.1,183.5 165.3,183.5 164.6,183.5 163.8,183.5 163.1,183.5 162.3,183.5 161.6,183.5 160.9,183.5 160.1,183.5 159.4,183.5 158.6,183.5 157.9,183.5 157.1,183.5 156.4,183.5 155.6,183.5 154.9,183.5 154.1,183.5 153.4,183.5 152.6,183.5 151.9,183.5 151.1,183.5 150.4,183.5 149.6,183.5 148.9,183.5 148.1,183.5 147.4,183.5 146.6,183.5 145.9,183.5 145.2,183.5" fill="#b9b9b9"/><polygon points="145.2,183.5 145.9,183.5 146.6,183.5 147.4,183.5 148.1,183.5 148.9,183.5 149.6,183.5 150.4,183.5 151.1,183.5 151.9,183.5 152.6,183.5 153.4,183.4 154.1,183.4 154.9,183.4 155.6,183.4 156.4,183.4 157.1,183.4 157.9,183.4 158.6,183.4 159.4,183.4 160.1,183.4 160.9,183.4 161.6,183.3 162.3,183.3 163.1,183.2 163.8,183 164.6,182.8 165.3,182.4 166.1,182 166.8,181.5 167.6,181.2 168.3,181.1 169.1,181.3 169.8,181.7 170.6,182.2 171.3,182.5 172.1,182.8 172.8,183 173.6,183.1 174.3,183.1 175.1,183.1 175.8,183 176.6,182.9 177.3,182.8 178.1,182.5 178.8,181.9 179.5,180.9 180.3,179.2 181,176.5 181.8,172.9 182.5,168.6 183.3,164.4 184,161.4 184.8,160.5 185.5,162.3 186.3,166 187,170.3 187.8,174.4 188.5,177.7 189.3,179.9 190,181.4 190.8,182.2 191.5,182.6 192.3,182.9 193,183 193.8,183.1 194.5,183.1 195.2,183.2 196,183.2 196.7,183.3 197.5,183.3 198.2,183.3 199,183.3 199.7,183.3 200.5,183.4 201.2,183.4 202,183.4 202.7,183.4 203.5,183.4 204.2,183.4 205,183.4 205.7,183.4 206.5,183.4 207.2,183.4 208,183.4 208.7,183.4 209.5,183.4 210.2,183.4 211,183.4 211.7,183.4 212.4,183.5 213.2,183.5 213.9,183.5 214.7,183.5 215.4,183.5 216.2,183.5 216.9,183.5 217.7,183.5 218.4,183.5 219.2,183.5 219.9,183.5 220.7,183.5 221.4,183.5 222.2,183.5 222.9,183.5 223.7,183.5 224.4,183.5 225.2,183.5 225.9,183.5 226.7,183.5 227.4,183.5 227.4,183.5 226.7,183.5 225.9,183.5 225.2,183.5 224.4,183.5 223.7,183.5 222.9,183.5 222.2,183.5 221.4,183.5 220.7,183.5 219.9,183.5 219.2,183.5 218.4,183.5 217.7,183.5 216.9,183.5 216.2,183.5 215.4,183.5 214.7,183.5 213.9,183.5 213.2,183.5 212.4,183.5 211.7,183.5 211,183.5 210.2,183.5 209.5,183.5 208.7,183.5 208,183.5 207.2,183.5 206.5,183.5 205.7,183.5 205,183.5 204.2,183.5 203.5,183.5 202.7,183.5 202,183.5 201.2,183.5 200.5,183.5 199.7,183.5 199,183.5 198.2,183.5 197.5,183.5 196.7,183.5 196,183.5 195.2,183.5 194.5,183.5 193.8,183.5 193,183.5 192.3,183.5 191.5,183.5 190.8,183.5 190,183.5 189.3,183.5 188.5,183.5 187.8,183.5 187,183.5 186.3,183.5 185.5,183.5 184.8,183.5 184,183.5 183.3,183.5 182.5,183.5 181.8,183.5 181,183.5 180.3,183.5 179.5,183.5 178.8,183.5 178.1,183.5 177.3,183.5 176.6,183.5 175.8,183.4 175.1,183.4 174.3,183.4 173.6,183.3 172.8,183.2 172.1,183 171.3,182.7 170.6,182.3 169.8,181.9 169.1,181.5 168.3,181.3 167.6,181.3 166.8,181.6 166.1,182.1 165.3,182.5 164.6,182.9 163.8,183.1 163.1,183.3 162.3,183.4 161.6,183.4 160.9,183.4 160.1,183.5 159.4,183.5 158.6,183.5 157.9,183.5 157.1,183.5 156.4,183.5 155.6,183.5 154.9,183.5 154.1,183.5 153.4,183.5 152.6,183.5 151.9,183.5 151.1,183.5 150.4,183.5 149.6,183.5 148.9,183.5 148.1,183.5 147.4,183.5 146.6,183.5 145.9,183.5 145.2,183.5" fill="#ff8080"/><path d="M145.2 183.5h0M146.3 183.5h0M147.5 183.4h0M148.7 183.5h0M149.9 183.6h0M151.1 183.6h0M152.3 183.4h0M153.5 183.4h0M154.7 183.4h0M155.9 183.3h0M157.1 183.5h0M158.3 183.3h0M159.5 183.3h0M160.6 183.4h0M161.8 183.4h0M163 183.1h0M164.2 183h0M165.4 182.4h0M166.6 181.7h0M167.8 181h0M169 181.3h0M170.2 182h0M171.4 182.6h0M172.6 183h0M173.8 183.1h0M175 183.2h0M176.1 183.1h0M177.3 182.7h0M178.5 182.1h0M179.7 180.7h0M180.9 177h0M182.1 171.2h0M183.3 164.6h0M184.5 160.6h0M185.7 163h0M186.9 169.3h0M188.1 175.8h0M189.3 179.9h0M190.4 182.1h0M191.6 182.7h0M192.8 183.2h0M194 183.1h0M195.2 183.1h0M196.4 183.4h0M197.6 183.2h0M198.8 183.2h0M200 183.4h0M201.2 183.3h0M202.4 183.4h0M203.6 183.4h0M204.8 183.6h0M205.9 183.5h0M207.1 183.6h0M208.3 183.2h0M209.5 183.4h0M210.7 183.5h0M211.9 183.6h0M213.1 183.3h0M214.3 183.6h0M215.5 183.3h0M216.7 183.4h0M217.9 183.5h0M219.1 183.5h0M220.2 183.5h0M221.4 183.6h0M222.6 183.4h0M223.8 183.3h0M225 183.4h0M226.2 183.4h0M227.4 183.5h0" stroke="#000000" stroke-width="2.1" stroke-linecap="round" fill="none"/><path d="M145.2 183.5 L145.9 183.5 L146.6 183.5 L147.4 183.5 L148.1 183.5 L148.9 183.5 L149.6 183.5 L150.4 183.5 L151.1 183.5 L151.9 183.5 L152.6 183.5 L153.4 183.5 L154.1 183.5 L154.9 183.5 L155.6 183.5 L156.4 183.5 L157.1 183.5 L157.9 183.5 L158.6 183.5 L159.4 183.5 L160.1 183.5 L160.9 183.4 L161.6 183.4 L162.3 183.4 L163.1 183.3 L163.8 183.1 L164.6 182.9 L165.3 182.5 L166.1 182.1 L166.8 181.6 L167.6 181.3 L168.3 181.3 L169.1 181.5 L169.8 181.9 L170.6 182.3 L171.3 182.7 L172.1 183 L172.8 183.2 L173.6 183.3 L174.3 183.4 L175.1 183.4 L175.8 183.4 L176.6 183.5 L177.3 183.5 L178.1 183.5 L178.8 183.5 L179.5 183.5 L180.3 183.5 L181 183.5 L181.8 183.5 L182.5 183.5 L183.3 183.5 L184 183.5 L184.8 183.5 L185.5 183.5 L186.3 183.5 L187 183.5 L187.8 183.5 L188.5 183.5 L189.3 183.5 L190 183.5 L190.8 183.5 L191.5 183.5 L192.3 183.5 L193 183.5 L193.8 183.5 L194.5 183.5 L195.2 183.5 L196 183.5 L196.7 183.5 L197.5 183.5 L198.2 183.5 L199 183.5 L199.7 183.5 L200.5 183.5 L201.2 183.5 L202 183.5 L202.7 183.5 L203.5 183.5 L204.2 183.5 L205 183.5 L205.7 183.5 L206.5 183.5 L207.2 183.5 L208 183.5 L208.7 183.5 L209.5 183.5 L210.2 183.5 L211 183.5 L211.7 183.5 L212.4 183.5 L213.2 183.5 L213.9 183.5 L214.7 183.5 L215.4 183.5 L216.2 183.5 L216.9 183.5 L217.7 183.5 L218.4 183.5 L219.2 183.5 L219.9 183.5 L220.7 183.5 L221.4 183.5 L222.2 183.5 L222.9 183.5 L223.7 183.5 L224.4 183.5 L225.2 183.5 L225.9 183.5 L226.7 183.5 L227.4 183.5" stroke="#8a8a8a" stroke-width="0.9" fill="none"/><path d="M145.2 183.5 L145.9 183.5 L146.6 183.5 L147.4 183.5 L148.1 183.5 L148.9 183.5 L149.6 183.5 L150.4 183.5 L151.1 183.5 L151.9 183.5 L152.6 183.5 L153.4 183.5 L154.1 183.5 L154.9 183.5 L155.6 183.5 L156.4 183.5 L157.1 183.5 L157.9 183.4 L158.6 183.4 L159.4 183.4 L160.1 183.4 L160.9 183.4 L161.6 183.4 L162.3 183.4 L163.1 183.4 L163.8 183.4 L164.6 183.4 L165.3 183.4 L166.1 183.4 L166.8 183.4 L167.6 183.4 L168.3 183.4 L169.1 183.4 L169.8 183.3 L170.6 183.3 L171.3 183.3 L172.1 183.3 L172.8 183.3 L173.6 183.2 L174.3 183.2 L175.1 183.1 L175.8 183.1 L176.6 183 L177.3 182.8 L178.1 182.5 L178.8 181.9 L179.5 180.9 L180.3 179.2 L181 176.5 L181.8 172.9 L182.5 168.6 L183.3 164.4 L184 161.4 L184.8 160.6 L185.5 162.3 L186.3 166 L187 170.3 L187.8 174.4 L188.5 177.7 L189.3 180 L190 181.4 L190.8 182.2 L191.5 182.6 L192.3 182.9 L193 183 L193.8 183.1 L194.5 183.2 L195.2 183.2 L196 183.2 L196.7 183.3 L197.5 183.3 L198.2 183.3 L199 183.3 L199.7 183.3 L200.5 183.4 L201.2 183.4 L202 183.4 L202.7 183.4 L203.5 183.4 L204.2 183.4 L205 183.4 L205.7 183.4 L206.5 183.4 L207.2 183.4 L208 183.4 L208.7 183.4 L209.5 183.4 L210.2 183.4 L211 183.4 L211.7 183.5 L212.4 183.5 L213.2 183.5 L213.9 183.5 L214.7 183.5 L215.4 183.5 L216.2 183.5 L216.9 183.5 L217.7 183.5 L218.4 183.5 L219.2 183.5 L219.9 183.5 L220.7 183.5 L221.4 183.5 L222.2 183.5 L222.9 183.5 L223.7 183.5 L224.4 183.5 L225.2 183.5 L225.9 183.5 L226.7 183.5 L227.4 183.5" stroke="#e80000" stroke-width="1.05" fill="none"/><polygon points="145.2,208.5 145.9,208.5 146.6,208.5 147.4,208.5 148.1,208.5 148.9,208.5 149.6,208.5 150.4,208.5 151.1,208.5 151.9,208.5 152.6,208.5 153.4,208.5 154.1,208.5 154.9,208.5 155.6,208.5 156.4,208.5 157.1,208.4 157.9,208.4 158.6,208.4 159.4,208.4 160.1,208.4 160.9,208.3 161.6,208.2 162.3,208 163.1,207.8 163.8,207.5 164.6,207.1 165.3,206.7 166.1,206.3 166.8,206.1 167.6,205.9 168.3,205.8 169.1,205.8 169.8,205.8 170.6,205.9 171.3,206 172.1,206.3 172.8,206.6 173.6,207 174.3,207.4 175.1,207.7 175.8,208 176.6,208.2 177.3,208.3 178.1,208.3 178.8,208.4 179.5,208.4 180.3,208.4 181,208.4 181.8,208.4 182.5,208.5 183.3,208.5 184,208.5 184.8,208.5 185.5,208.5 186.3,208.5 187,208.5 187.8,208.5 188.5,208.5 189.3,208.5 190,208.5 190.8,208.5 191.5,208.5 192.3,208.5 193,208.5 193.8,208.5 194.5,208.5 195.2,208.5 196,208.5 196.7,208.5 197.5,208.5 198.2,208.5 199,208.5 199.7,208.5 200.5,208.5 201.2,208.5 202,208.5 202.7,208.5 203.5,208.5 204.2,208.5 205,208.5 205.7,208.5 206.5,208.5 207.2,208.5 208,208.5 208.7,208.5 209.5,208.5 210.2,208.5 211,208.5 211.7,208.5 212.4,208.5 213.2,208.5 213.9,208.5 214.7,208.5 215.4,208.5 216.2,208.5 216.9,208.5 217.7,208.5 218.4,208.5 219.2,208.5 219.9,208.5 220.7,208.5 221.4,208.5 222.2,208.5 222.9,208.5 223.7,208.5 224.4,208.5 225.2,208.5 225.9,208.5 226.7,208.5 227.4,208.5 227.4,208.5 226.7,208.5 225.9,208.5 225.2,208.5 224.4,208.5 223.7,208.5 222.9,208.5 222.2,208.5 221.4,208.5 220.7,208.5 219.9,208.5 219.2,208.5 218.4,208.5 217.7,208.5 216.9,208.5 216.2,208.5 215.4,208.5 214.7,208.5 213.9,208.5 213.2,208.5 212.4,208.5 211.7,208.5 211,208.5 210.2,208.5 209.5,208.5 208.7,208.5 208,208.5 207.2,208.5 206.5,208.5 205.7,208.5 205,208.5 204.2,208.5 203.5,208.5 202.7,208.5 202,208.5 201.2,208.5 200.5,208.5 199.7,208.5 199,208.5 198.2,208.5 197.5,208.5 196.7,208.5 196,208.5 195.2,208.5 194.5,208.5 193.8,208.5 193,208.5 192.3,208.5 191.5,208.5 190.8,208.5 190,208.5 189.3,208.5 188.5,208.5 187.8,208.5 187,208.5 186.3,208.5 185.5,208.5 184.8,208.5 184,208.5 183.3,208.5 182.5,208.5 181.8,208.5 181,208.5 180.3,208.5 179.5,208.5 178.8,208.5 178.1,208.5 177.3,208.5 176.6,208.5 175.8,208.5 175.1,208.5 174.3,208.5 173.6,208.5 172.8,208.5 172.1,208.5 171.3,208.5 170.6,208.5 169.8,208.5 169.1,208.5 168.3,208.5 167.6,208.5 166.8,208.5 166.1,208.5 165.3,208.5 164.6,208.5 163.8,208.5 163.1,208.5 162.3,208.5 161.6,208.5 160.9,208.5 160.1,208.5 159.4,208.5 158.6,208.5 157.9,208.5 157.1,208.5 156.4,208.5 155.6,208.5 154.9,208.5 154.1,208.5 153.4,208.5 152.6,208.5 151.9,208.5 151.1,208.5 150.4,208.5 149.6,208.5 148.9,208.5 148.1,208.5 147.4,208.5 146.6,208.5 145.9,208.5 145.2,208.5" fill="#b9b9b9"/><polygon points="145.2,208.5 145.9,208.5 146.6,208.5 147.4,208.5 148.1,208.5 148.9,208.5 149.6,208.5 150.4,208.5 151.1,208.4 151.9,208.4 152.6,208.4 153.4,208.4 154.1,208.4 154.9,208.4 155.6,208.4 156.4,208.4 157.1,208.4 157.9,208.4 158.6,208.4 159.4,208.4 160.1,208.3 160.9,208.2 161.6,208.1 162.3,208 163.1,207.7 163.8,207.4 164.6,207 165.3,206.6 166.1,206.2 166.8,206 167.6,205.8 168.3,205.7 169.1,205.7 169.8,205.7 170.6,205.8 171.3,205.9 172.1,206.1 172.8,206.4 173.6,206.8 174.3,207.2 175.1,207.5 175.8,207.7 176.6,207.8 177.3,207.9 178.1,207.9 178.8,207.8 179.5,207.6 180.3,207.1 181,206.3 181.8,204.8 182.5,202.5 183.3,199.3 184,195.4 184.8,191.3 185.5,188.2 186.3,187 187,188.2 187.8,191.3 188.5,195.4 189.3,199.3 190,202.5 190.8,204.8 191.5,206.3 192.3,207.2 193,207.6 193.8,207.9 194.5,208 195.2,208.1 196,208.2 196.7,208.2 197.5,208.2 198.2,208.3 199,208.3 199.7,208.3 200.5,208.3 201.2,208.3 202,208.4 202.7,208.4 203.5,208.4 204.2,208.4 205,208.4 205.7,208.4 206.5,208.4 207.2,208.4 208,208.4 208.7,208.4 209.5,208.4 210.2,208.4 211,208.4 211.7,208.4 212.4,208.4 213.2,208.4 213.9,208.5 214.7,208.5 215.4,208.5 216.2,208.5 216.9,208.5 217.7,208.5 218.4,208.5 219.2,208.5 219.9,208.5 220.7,208.5 221.4,208.5 222.2,208.5 222.9,208.5 223.7,208.5 224.4,208.5 225.2,208.5 225.9,208.5 226.7,208.5 227.4,208.5 227.4,208.5 226.7,208.5 225.9,208.5 225.2,208.5 224.4,208.5 223.7,208.5 222.9,208.5 222.2,208.5 221.4,208.5 220.7,208.5 219.9,208.5 219.2,208.5 218.4,208.5 217.7,208.5 216.9,208.5 216.2,208.5 215.4,208.5 214.7,208.5 213.9,208.5 213.2,208.5 212.4,208.5 211.7,208.5 211,208.5 210.2,208.5 209.5,208.5 208.7,208.5 208,208.5 207.2,208.5 206.5,208.5 205.7,208.5 205,208.5 204.2,208.5 203.5,208.5 202.7,208.5 202,208.5 201.2,208.5 200.5,208.5 199.7,208.5 199,208.5 198.2,208.5 197.5,208.5 196.7,208.5 196,208.5 195.2,208.5 194.5,208.5 193.8,208.5 193,208.5 192.3,208.5 191.5,208.5 190.8,208.5 190,208.5 189.3,208.5 188.5,208.5 187.8,208.5 187,208.5 186.3,208.5 185.5,208.5 184.8,208.5 184,208.5 183.3,208.5 182.5,208.5 181.8,208.4 181,208.4 180.3,208.4 179.5,208.4 178.8,208.4 178.1,208.3 177.3,208.3 176.6,208.2 175.8,208 175.1,207.7 174.3,207.4 173.6,207 172.8,206.6 172.1,206.3 171.3,206 170.6,205.9 169.8,205.8 169.1,205.8 168.3,205.8 167.6,205.9 166.8,206.1 166.1,206.3 165.3,206.7 164.6,207.1 163.8,207.5 163.1,207.8 162.3,208 161.6,208.2 160.9,208.3 160.1,208.4 159.4,208.4 158.6,208.4 157.9,208.4 157.1,208.4 156.4,208.5 155.6,208.5 154.9,208.5 154.1,208.5 153.4,208.5 152.6,208.5 151.9,208.5 151.1,208.5 150.4,208.5 149.6,208.5 148.9,208.5 148.1,208.5 147.4,208.5 146.6,208.5 145.9,208.5 145.2,208.5" fill="#ff8080"/><path d="M145.2 208.4h0M146.3 208.5h0M147.5 208.2h0M148.7 208.5h0M149.9 208.4h0M151.1 208.6h0M152.3 208.4h0M153.5 208.4h0M154.7 208.4h0M155.9 208.3h0M157.1 208.3h0M158.3 208.5h0M159.5 208.5h0M160.6 208.3h0M161.8 208.1h0M163 207.4h0M164.2 206.8h0M165.4 207.2h0M166.6 207.2h0M167.8 206h0M169 206.4h0M170.2 205.5h0M171.4 205.7h0M172.6 207.1h0M173.8 207.3h0M175 207.4h0M176.1 207.9h0M177.3 208.1h0M178.5 207.8h0M179.7 207.6h0M180.9 206.4h0M182.1 203.9h0M183.3 198.9h0M184.5 192.8h0M185.7 187.7h0M186.9 187.7h0M188.1 192.9h0M189.3 199.2h0M190.4 204.1h0M191.6 206.4h0M192.8 207.6h0M194 207.9h0M195.2 208h0M196.4 208.1h0M197.6 208.3h0M198.8 208.4h0M200 208.2h0M201.2 208.2h0M202.4 208.4h0M203.6 208.6h0M204.8 208.6h0M205.9 208.6h0M207.1 208.7h0M208.3 208.3h0M209.5 208.5h0M210.7 208.4h0M211.9 208.5h0M213.1 208.4h0M214.3 208.2h0M215.5 208.4h0M216.7 208.4h0M217.9 208.6h0M219.1 208.6h0M220.2 208.5h0M221.4 208.6h0M222.6 208.3h0M223.8 208.4h0M225 208.5h0M226.2 208.4h0M227.4 208.4h0" stroke="#000000" stroke-width="2.1" stroke-linecap="round" fill="none"/><path d="M145.2 208.5 L145.9 208.5 L146.6 208.5 L147.4 208.5 L148.1 208.5 L148.9 208.5 L149.6 208.5 L150.4 208.5 L151.1 208.5 L151.9 208.5 L152.6 208.5 L153.4 208.5 L154.1 208.5 L154.9 208.5 L155.6 208.5 L156.4 208.5 L157.1 208.4 L157.9 208.4 L158.6 208.4 L159.4 208.4 L160.1 208.4 L160.9 208.3 L161.6 208.2 L162.3 208 L163.1 207.8 L163.8 207.5 L164.6 207.1 L165.3 206.7 L166.1 206.3 L166.8 206.1 L167.6 205.9 L168.3 205.8 L169.1 205.8 L169.8 205.8 L170.6 205.9 L171.3 206 L172.1 206.3 L172.8 206.6 L173.6 207 L174.3 207.4 L175.1 207.7 L175.8 208 L176.6 208.2 L177.3 208.3 L178.1 208.3 L178.8 208.4 L179.5 208.4 L180.3 208.4 L181 208.4 L181.8 208.4 L182.5 208.5 L183.3 208.5 L184 208.5 L184.8 208.5 L185.5 208.5 L186.3 208.5 L187 208.5 L187.8 208.5 L188.5 208.5 L189.3 208.5 L190 208.5 L190.8 208.5 L191.5 208.5 L192.3 208.5 L193 208.5 L193.8 208.5 L194.5 208.5 L195.2 208.5 L196 208.5 L196.7 208.5 L197.5 208.5 L198.2 208.5 L199 208.5 L199.7 208.5 L200.5 208.5 L201.2 208.5 L202 208.5 L202.7 208.5 L203.5 208.5 L204.2 208.5 L205 208.5 L205.7 208.5 L206.5 208.5 L207.2 208.5 L208 208.5 L208.7 208.5 L209.5 208.5 L210.2 208.5 L211 208.5 L211.7 208.5 L212.4 208.5 L213.2 208.5 L213.9 208.5 L214.7 208.5 L215.4 208.5 L216.2 208.5 L216.9 208.5 L217.7 208.5 L218.4 208.5 L219.2 208.5 L219.9 208.5 L220.7 208.5 L221.4 208.5 L222.2 208.5 L222.9 208.5 L223.7 208.5 L224.4 208.5 L225.2 208.5 L225.9 208.5 L226.7 208.5 L227.4 208.5" stroke="#8a8a8a" stroke-width="0.9" fill="none"/><path d="M145.2 208.5 L145.9 208.5 L146.6 208.5 L147.4 208.5 L148.1 208.5 L148.9 208.5 L149.6 208.5 L150.4 208.5 L151.1 208.5 L151.9 208.5 L152.6 208.5 L153.4 208.5 L154.1 208.5 L154.9 208.5 L155.6 208.5 L156.4 208.5 L157.1 208.5 L157.9 208.5 L158.6 208.5 L159.4 208.5 L160.1 208.5 L160.9 208.4 L161.6 208.4 L162.3 208.4 L163.1 208.4 L163.8 208.4 L164.6 208.4 L165.3 208.4 L166.1 208.4 L166.8 208.4 L167.6 208.4 L168.3 208.4 L169.1 208.4 L169.8 208.4 L170.6 208.4 L171.3 208.4 L172.1 208.3 L172.8 208.3 L173.6 208.3 L174.3 208.3 L175.1 208.2 L175.8 208.2 L176.6 208.2 L177.3 208.1 L178.1 208 L178.8 207.9 L179.5 207.6 L180.3 207.2 L181 206.3 L181.8 204.8 L182.5 202.5 L183.3 199.3 L184 195.4 L184.8 191.4 L185.5 188.2 L186.3 187 L187 188.2 L187.8 191.4 L188.5 195.4 L189.3 199.3 L190 202.5 L190.8 204.8 L191.5 206.3 L192.3 207.2 L193 207.6 L193.8 207.9 L194.5 208 L195.2 208.1 L196 208.2 L196.7 208.2 L197.5 208.2 L198.2 208.3 L199 208.3 L199.7 208.3 L200.5 208.3 L201.2 208.4 L202 208.4 L202.7 208.4 L203.5 208.4 L204.2 208.4 L205 208.4 L205.7 208.4 L206.5 208.4 L207.2 208.4 L208 208.4 L208.7 208.4 L209.5 208.4 L210.2 208.4 L211 208.4 L211.7 208.4 L212.4 208.5 L213.2 208.5 L213.9 208.5 L214.7 208.5 L215.4 208.5 L216.2 208.5 L216.9 208.5 L217.7 208.5 L218.4 208.5 L219.2 208.5 L219.9 208.5 L220.7 208.5 L221.4 208.5 L222.2 208.5 L222.9 208.5 L223.7 208.5 L224.4 208.5 L225.2 208.5 L225.9 208.5 L226.7 208.5 L227.4 208.5" stroke="#e80000" stroke-width="1.05" fill="none"/><polygon points="145.2,233.5 145.9,233.5 146.6,233.5 147.4,233.5 148.1,233.5 148.9,233.5 149.6,233.5 150.4,233.4 151.1,233.4 151.9,233.4 152.6,233.4 153.4,233.4 154.1,233.4 154.9,233.4 155.6,233.4 156.4,233.4 157.1,233.4 157.9,233.4 158.6,233.3 159.4,233.3 160.1,233.2 160.9,233.1 161.6,232.9 162.3,232.7 163.1,232.3 163.8,231.8 164.6,231.2 165.3,230.5 166.1,229.7 166.8,229.1 167.6,228.6 168.3,228.3 169.1,228.2 169.8,228.2 170.6,228.2 171.3,228.2 172.1,228.2 172.8,228.4 173.6,228.7 174.3,229.2 175.1,229.9 175.8,230.6 176.6,231.3 177.3,231.9 178.1,232.4 178.8,232.8 179.5,233 180.3,233.2 181,233.2 181.8,233.3 182.5,233.3 183.3,233.4 184,233.4 184.8,233.4 185.5,233.4 186.3,233.4 187,233.4 187.8,233.4 188.5,233.4 189.3,233.4 190,233.4 190.8,233.4 191.5,233.5 192.3,233.5 193,233.5 193.8,233.5 194.5,233.5 195.2,233.5 196,233.5 196.7,233.5 197.5,233.5 198.2,233.5 199,233.5 199.7,233.5 200.5,233.5 201.2,233.5 202,233.5 202.7,233.5 203.5,233.5 204.2,233.5 205,233.5 205.7,233.5 206.5,233.5 207.2,233.5 208,233.5 208.7,233.5 209.5,233.5 210.2,233.5 211,233.5 211.7,233.5 212.4,233.5 213.2,233.5 213.9,233.5 214.7,233.5 215.4,233.5 216.2,233.5 216.9,233.5 217.7,233.5 218.4,233.5 219.2,233.5 219.9,233.5 220.7,233.5 221.4,233.5 222.2,233.5 222.9,233.5 223.7,233.5 224.4,233.5 225.2,233.5 225.9,233.5 226.7,233.5 227.4,233.5 227.4,233.5 226.7,233.5 225.9,233.5 225.2,233.5 224.4,233.5 223.7,233.5 222.9,233.5 222.2,233.5 221.4,233.5 220.7,233.5 219.9,233.5 219.2,233.5 218.4,233.5 217.7,233.5 216.9,233.5 216.2,233.5 215.4,233.5 214.7,233.5 213.9,233.5 213.2,233.5 212.4,233.5 211.7,233.5 211,233.5 210.2,233.5 209.5,233.5 208.7,233.5 208,233.5 207.2,233.5 206.5,233.5 205.7,233.5 205,233.5 204.2,233.5 203.5,233.5 202.7,233.5 202,233.5 201.2,233.5 200.5,233.5 199.7,233.5 199,233.5 198.2,233.5 197.5,233.5 196.7,233.5 196,233.5 195.2,233.5 194.5,233.5 193.8,233.5 193,233.5 192.3,233.5 191.5,233.5 190.8,233.5 190,233.5 189.3,233.5 188.5,233.5 187.8,233.5 187,233.5 186.3,233.5 185.5,233.5 184.8,233.5 184,233.5 183.3,233.5 182.5,233.5 181.8,233.5 181,233.5 180.3,233.5 179.5,233.5 178.8,233.5 178.1,233.5 177.3,233.5 176.6,233.5 175.8,233.5 175.1,233.5 174.3,233.5 173.6,233.5 172.8,233.5 172.1,233.5 171.3,233.5 170.6,233.5 169.8,233.5 169.1,233.5 168.3,233.5 167.6,233.5 166.8,233.5 166.1,233.5 165.3,233.5 164.6,233.5 163.8,233.5 163.1,233.5 162.3,233.5 161.6,233.5 160.9,233.5 160.1,233.5 159.4,233.5 158.6,233.5 157.9,233.5 157.1,233.5 156.4,233.5 155.6,233.5 154.9,233.5 154.1,233.5 153.4,233.5 152.6,233.5 151.9,233.5 151.1,233.5 150.4,233.5 149.6,233.5 148.9,233.5 148.1,233.5 147.4,233.5 146.6,233.5 145.9,233.5 145.2,233.5" fill="#b9b9b9"/><polygon points="145.2,233.5 145.9,233.4 146.6,233.4 147.4,233.4 148.1,233.4 148.9,233.4 149.6,233.4 150.4,233.4 151.1,233.4 151.9,233.4 152.6,233.4 153.4,233.4 154.1,233.4 154.9,233.4 155.6,233.4 156.4,233.4 157.1,233.3 157.9,233.3 158.6,233.3 159.4,233.3 160.1,233.2 160.9,233.1 161.6,232.9 162.3,232.6 163.1,232.3 163.8,231.7 164.6,231.1 165.3,230.4 166.1,229.7 166.8,229 167.6,228.5 168.3,228.2 169.1,228.1 169.8,228.1 170.6,228.1 171.3,228.1 172.1,228.1 172.8,228.2 173.6,228.5 174.3,229.1 175.1,229.7 175.8,230.4 176.6,231.1 177.3,231.7 178.1,232.1 178.8,232.4 179.5,232.6 180.3,232.6 181,232.5 181.8,232.2 182.5,231.6 183.3,230.5 184,228.7 184.8,225.9 185.5,222.4 186.3,218.5 187,215.1 187.8,213.1 188.5,213.4 189.3,215.8 190,219.4 190.8,223.3 191.5,226.7 192.3,229.2 193,230.9 193.8,231.9 194.5,232.5 195.2,232.8 196,233 196.7,233.1 197.5,233.1 198.2,233.2 199,233.2 199.7,233.2 200.5,233.3 201.2,233.3 202,233.3 202.7,233.3 203.5,233.3 204.2,233.4 205,233.4 205.7,233.4 206.5,233.4 207.2,233.4 208,233.4 208.7,233.4 209.5,233.4 210.2,233.4 211,233.4 211.7,233.4 212.4,233.4 213.2,233.4 213.9,233.4 214.7,233.4 215.4,233.4 216.2,233.4 216.9,233.5 217.7,233.5 218.4,233.5 219.2,233.5 219.9,233.5 220.7,233.5 221.4,233.5 222.2,233.5 222.9,233.5 223.7,233.5 224.4,233.5 225.2,233.5 225.9,233.5 226.7,233.5 227.4,233.5 227.4,233.5 226.7,233.5 225.9,233.5 225.2,233.5 224.4,233.5 223.7,233.5 222.9,233.5 222.2,233.5 221.4,233.5 220.7,233.5 219.9,233.5 219.2,233.5 218.4,233.5 217.7,233.5 216.9,233.5 216.2,233.5 215.4,233.5 214.7,233.5 213.9,233.5 213.2,233.5 212.4,233.5 211.7,233.5 211,233.5 210.2,233.5 209.5,233.5 208.7,233.5 208,233.5 207.2,233.5 206.5,233.5 205.7,233.5 205,233.5 204.2,233.5 203.5,233.5 202.7,233.5 202,233.5 201.2,233.5 200.5,233.5 199.7,233.5 199,233.5 198.2,233.5 197.5,233.5 196.7,233.5 196,233.5 195.2,233.5 194.5,233.5 193.8,233.5 193,233.5 192.3,233.5 191.5,233.5 190.8,233.4 190,233.4 189.3,233.4 188.5,233.4 187.8,233.4 187,233.4 186.3,233.4 185.5,233.4 184.8,233.4 184,233.4 183.3,233.4 182.5,233.3 181.8,233.3 181,233.2 180.3,233.2 179.5,233 178.8,232.8 178.1,232.4 177.3,231.9 176.6,231.3 175.8,230.6 175.1,229.9 174.3,229.2 173.6,228.7 172.8,228.4 172.1,228.2 171.3,228.2 170.6,228.2 169.8,228.2 169.1,228.2 168.3,228.3 167.6,228.6 166.8,229.1 166.1,229.7 165.3,230.5 164.6,231.2 163.8,231.8 163.1,232.3 162.3,232.7 161.6,232.9 160.9,233.1 160.1,233.2 159.4,233.3 158.6,233.3 157.9,233.4 157.1,233.4 156.4,233.4 155.6,233.4 154.9,233.4 154.1,233.4 153.4,233.4 152.6,233.4 151.9,233.4 151.1,233.4 150.4,233.4 149.6,233.5 148.9,233.5 148.1,233.5 147.4,233.5 146.6,233.5 145.9,233.5 145.2,233.5" fill="#ff8080"/><path d="M145.2 233.4h0M146.3 233.4h0M147.5 233.5h0M148.7 233.3h0M149.9 233.4h0M151.1 233.5h0M152.3 233.5h0M153.5 233.4h0M154.7 233.3h0M155.9 233.4h0M157.1 233.4h0M158.3 233.3h0M159.5 233.1h0M160.6 233.4h0M161.8 232.6h0M163 232.6h0M164.2 231.6h0M165.4 228.4h0M166.6 227.6h0M167.8 229.1h0M169 227.7h0M170.2 228h0M171.4 227.5h0M172.6 227.9h0M173.8 228.8h0M175 228.4h0M176.1 229.5h0M177.3 231.6h0M178.5 232.3h0M179.7 232.7h0M180.9 232.5h0M182.1 231.8h0M183.3 230.6h0M184.5 227.3h0M185.7 221.5h0M186.9 215.7h0M188.1 212.9h0M189.3 215.7h0M190.4 221.6h0M191.6 227.3h0M192.8 230.7h0M194 232.2h0M195.2 232.7h0M196.4 233.1h0M197.6 233.1h0M198.8 233.2h0M200 233.1h0M201.2 233.4h0M202.4 233.3h0M203.6 233.6h0M204.8 233.2h0M205.9 233.5h0M207.1 233.4h0M208.3 233.3h0M209.5 233.5h0M210.7 233.5h0M211.9 233.5h0M213.1 233.4h0M214.3 233.6h0M215.5 233.5h0M216.7 233.4h0M217.9 233.5h0M219.1 233.2h0M220.2 233.5h0M221.4 233.4h0M222.6 233.3h0M223.8 233.5h0M225 233.5h0M226.2 233.4h0M227.4 233.6h0" stroke="#000000" stroke-width="2.1" stroke-linecap="round" fill="none"/><path d="M145.2 233.5 L145.9 233.5 L146.6 233.5 L147.4 233.5 L148.1 233.5 L148.9 233.5 L149.6 233.5 L150.4 233.4 L151.1 233.4 L151.9 233.4 L152.6 233.4 L153.4 233.4 L154.1 233.4 L154.9 233.4 L155.6 233.4 L156.4 233.4 L157.1 233.4 L157.9 233.4 L158.6 233.3 L159.4 233.3 L160.1 233.2 L160.9 233.1 L161.6 232.9 L162.3 232.7 L163.1 232.3 L163.8 231.8 L164.6 231.2 L165.3 230.5 L166.1 229.7 L166.8 229.1 L167.6 228.6 L168.3 228.3 L169.1 228.2 L169.8 228.2 L170.6 228.2 L171.3 228.2 L172.1 228.2 L172.8 228.4 L173.6 228.7 L174.3 229.2 L175.1 229.9 L175.8 230.6 L176.6 231.3 L177.3 231.9 L178.1 232.4 L178.8 232.8 L179.5 233 L180.3 233.2 L181 233.2 L181.8 233.3 L182.5 233.3 L183.3 233.4 L184 233.4 L184.8 233.4 L185.5 233.4 L186.3 233.4 L187 233.4 L187.8 233.4 L188.5 233.4 L189.3 233.4 L190 233.4 L190.8 233.4 L191.5 233.5 L192.3 233.5 L193 233.5 L193.8 233.5 L194.5 233.5 L195.2 233.5 L196 233.5 L196.7 233.5 L197.5 233.5 L198.2 233.5 L199 233.5 L199.7 233.5 L200.5 233.5 L201.2 233.5 L202 233.5 L202.7 233.5 L203.5 233.5 L204.2 233.5 L205 233.5 L205.7 233.5 L206.5 233.5 L207.2 233.5 L208 233.5 L208.7 233.5 L209.5 233.5 L210.2 233.5 L211 233.5 L211.7 233.5 L212.4 233.5 L213.2 233.5 L213.9 233.5 L214.7 233.5 L215.4 233.5 L216.2 233.5 L216.9 233.5 L217.7 233.5 L218.4 233.5 L219.2 233.5 L219.9 233.5 L220.7 233.5 L221.4 233.5 L222.2 233.5 L222.9 233.5 L223.7 233.5 L224.4 233.5 L225.2 233.5 L225.9 233.5 L226.7 233.5 L227.4 233.5" stroke="#8a8a8a" stroke-width="0.9" fill="none"/><path d="M145.2 233.5 L145.9 233.5 L146.6 233.5 L147.4 233.5 L148.1 233.5 L148.9 233.5 L149.6 233.5 L150.4 233.5 L151.1 233.5 L151.9 233.5 L152.6 233.5 L153.4 233.5 L154.1 233.5 L154.9 233.5 L155.6 233.5 L156.4 233.5 L157.1 233.5 L157.9 233.5 L158.6 233.5 L159.4 233.5 L160.1 233.5 L160.9 233.5 L161.6 233.5 L162.3 233.5 L163.1 233.4 L163.8 233.4 L164.6 233.4 L165.3 233.4 L166.1 233.4 L166.8 233.4 L167.6 233.4 L168.3 233.4 L169.1 233.4 L169.8 233.4 L170.6 233.4 L171.3 233.4 L172.1 233.4 L172.8 233.4 L173.6 233.4 L174.3 233.3 L175.1 233.3 L175.8 233.3 L176.6 233.3 L177.3 233.2 L178.1 233.2 L178.8 233.1 L179.5 233.1 L180.3 233 L181 232.8 L181.8 232.4 L182.5 231.8 L183.3 230.6 L184 228.8 L184.8 226 L185.5 222.5 L186.3 218.6 L187 215.2 L187.8 213.2 L188.5 213.4 L189.3 215.8 L190 219.5 L190.8 223.3 L191.5 226.7 L192.3 229.3 L193 231 L193.8 232 L194.5 232.5 L195.2 232.8 L196 233 L196.7 233.1 L197.5 233.2 L198.2 233.2 L199 233.2 L199.7 233.3 L200.5 233.3 L201.2 233.3 L202 233.3 L202.7 233.4 L203.5 233.4 L204.2 233.4 L205 233.4 L205.7 233.4 L206.5 233.4 L207.2 233.4 L208 233.4 L208.7 233.4 L209.5 233.4 L210.2 233.4 L211 233.4 L211.7 233.4 L212.4 233.4 L213.2 233.4 L213.9 233.5 L214.7 233.5 L215.4 233.5 L216.2 233.5 L216.9 233.5 L217.7 233.5 L218.4 233.5 L219.2 233.5 L219.9 233.5 L220.7 233.5 L221.4 233.5 L222.2 233.5 L222.9 233.5 L223.7 233.5 L224.4 233.5 L225.2 233.5 L225.9 233.5 L226.7 233.5 L227.4 233.5" stroke="#e80000" stroke-width="1.05" fill="none"/><polygon points="138,258.5 138.7,258.5 139.5,258.5 140.2,258.5 141,258.5 141.7,258.5 142.5,258.5 143.2,258.5 144,258.5 144.7,258.5 145.4,258.5 146.2,258.5 146.9,258.5 147.7,258.5 148.4,258.5 149.2,258.5 149.9,258.4 150.7,258.4 151.4,258.4 152.2,258.4 152.9,258.4 153.6,258.4 154.4,258.4 155.1,258.4 155.9,258.4 156.6,258.4 157.4,258.4 158.1,258.4 158.9,258.4 159.6,258.3 160.3,258.3 161.1,258.2 161.8,258.1 162.6,258 163.3,257.8 164.1,257.4 164.8,257 165.6,256.4 166.3,255.6 167.1,254.8 167.8,253.9 168.5,253.2 169.3,252.6 170,252.2 170.8,252 171.5,251.9 172.3,251.7 173,251.7 173.8,251.7 174.5,252.1 175.2,252.7 176,253.5 176.7,254.5 177.5,255.4 178.2,256.2 179,256.9 179.7,257.4 180.5,257.8 181.2,258 182,258.1 182.7,258.2 183.4,258.3 184.2,258.3 184.9,258.3 185.7,258.4 186.4,258.4 187.2,258.4 187.9,258.4 188.7,258.4 189.4,258.4 190.2,258.4 190.9,258.4 191.6,258.4 192.4,258.4 193.1,258.4 193.9,258.4 194.6,258.5 195.4,258.5 196.1,258.5 196.9,258.5 197.6,258.5 198.3,258.5 199.1,258.5 199.8,258.5 200.6,258.5 201.3,258.5 202.1,258.5 202.8,258.5 203.6,258.5 204.3,258.5 205.1,258.5 205.8,258.5 206.5,258.5 207.3,258.5 208,258.5 208.8,258.5 209.5,258.5 210.3,258.5 211,258.5 211.8,258.5 212.5,258.5 212.5,258.5 211.8,258.5 211,258.5 210.3,258.5 209.5,258.5 208.8,258.5 208,258.5 207.3,258.5 206.5,258.5 205.8,258.5 205.1,258.5 204.3,258.5 203.6,258.5 202.8,258.5 202.1,258.5 201.3,258.5 200.6,258.5 199.8,258.5 199.1,258.5 198.3,258.5 197.6,258.5 196.9,258.5 196.1,258.5 195.4,258.5 194.6,258.5 193.9,258.5 193.1,258.5 192.4,258.5 191.6,258.5 190.9,258.5 190.2,258.5 189.4,258.5 188.7,258.5 187.9,258.5 187.2,258.5 186.4,258.5 185.7,258.5 184.9,258.5 184.2,258.5 183.4,258.5 182.7,258.5 182,258.5 181.2,258.5 180.5,258.5 179.7,258.5 179,258.5 178.2,258.5 177.5,258.5 176.7,258.5 176,258.5 175.2,258.5 174.5,258.5 173.8,258.5 173,258.5 172.3,258.5 171.5,258.5 170.8,258.5 170,258.5 169.3,258.5 168.5,258.5 167.8,258.5 167.1,258.5 166.3,258.5 165.6,258.5 164.8,258.5 164.1,258.5 163.3,258.5 162.6,258.5 161.8,258.5 161.1,258.5 160.3,258.5 159.6,258.5 158.9,258.5 158.1,258.5 157.4,258.5 156.6,258.5 155.9,258.5 155.1,258.5 154.4,258.5 153.6,258.5 152.9,258.5 152.2,258.5 151.4,258.5 150.7,258.5 149.9,258.5 149.2,258.5 148.4,258.5 147.7,258.5 146.9,258.5 146.2,258.5 145.4,258.5 144.7,258.5 144,258.5 143.2,258.5 142.5,258.5 141.7,258.5 141,258.5 140.2,258.5 139.5,258.5 138.7,258.5 138,258.5" fill="#b9b9b9"/><polygon points="138,258.5 138.7,258.5 139.5,258.5 140.2,258.5 141,258.5 141.7,258.5 142.5,258.5 143.2,258.5 144,258.5 144.7,258.4 145.4,258.4 146.2,258.4 146.9,258.4 147.7,258.4 148.4,258.4 149.2,258.4 149.9,258.4 150.7,258.4 151.4,258.4 152.2,258.4 152.9,258.4 153.6,258.4 154.4,258.4 155.1,258.4 155.9,258.4 156.6,258.4 157.4,258.3 158.1,258.3 158.9,258.3 159.6,258.3 160.3,258.3 161.1,258.2 161.8,258.1 162.6,258 163.3,257.7 164.1,257.4 164.8,256.9 165.6,256.3 166.3,255.5 167.1,254.7 167.8,253.8 168.5,253.1 169.3,252.5 170,252.1 170.8,251.9 171.5,251.7 172.3,251.6 173,251.5 173.8,251.6 174.5,251.9 175.2,252.5 176,253.3 176.7,254.3 177.5,255.2 178.2,256 179,256.6 179.7,257.1 180.5,257.4 181.2,257.5 182,257.5 182.7,257.4 183.4,257 184.2,256.2 184.9,254.9 185.7,252.6 186.4,249.5 187.2,245.5 187.9,241.3 188.7,237.7 189.4,236 190.2,236.7 190.9,239.7 191.6,243.8 192.4,248 193.1,251.5 193.9,254.2 194.6,255.9 195.4,256.9 196.1,257.5 196.9,257.8 197.6,257.9 198.3,258 199.1,258.1 199.8,258.2 200.6,258.2 201.3,258.2 202.1,258.3 202.8,258.3 203.6,258.3 204.3,258.3 205.1,258.3 205.8,258.3 206.5,258.4 207.3,258.4 208,258.4 208.8,258.4 209.5,258.4 210.3,258.4 211,258.4 211.8,258.4 212.5,258.4 212.5,258.5 211.8,258.5 211,258.5 210.3,258.5 209.5,258.5 208.8,258.5 208,258.5 207.3,258.5 206.5,258.5 205.8,258.5 205.1,258.5 204.3,258.5 203.6,258.5 202.8,258.5 202.1,258.5 201.3,258.5 200.6,258.5 199.8,258.5 199.1,258.5 198.3,258.5 197.6,258.5 196.9,258.5 196.1,258.5 195.4,258.5 194.6,258.5 193.9,258.4 193.1,258.4 192.4,258.4 191.6,258.4 190.9,258.4 190.2,258.4 189.4,258.4 188.7,258.4 187.9,258.4 187.2,258.4 186.4,258.4 185.7,258.4 184.9,258.3 184.2,258.3 183.4,258.3 182.7,258.2 182,258.1 181.2,258 180.5,257.8 179.7,257.4 179,256.9 178.2,256.2 177.5,255.4 176.7,254.5 176,253.5 175.2,252.7 174.5,252.1 173.8,251.7 173,251.7 172.3,251.7 171.5,251.9 170.8,252 170,252.2 169.3,252.6 168.5,253.2 167.8,253.9 167.1,254.8 166.3,255.6 165.6,256.4 164.8,257 164.1,257.4 163.3,257.8 162.6,258 161.8,258.1 161.1,258.2 160.3,258.3 159.6,258.3 158.9,258.4 158.1,258.4 157.4,258.4 156.6,258.4 155.9,258.4 155.1,258.4 154.4,258.4 153.6,258.4 152.9,258.4 152.2,258.4 151.4,258.4 150.7,258.4 149.9,258.4 149.2,258.5 148.4,258.5 147.7,258.5 146.9,258.5 146.2,258.5 145.4,258.5 144.7,258.5 144,258.5 143.2,258.5 142.5,258.5 141.7,258.5 141,258.5 140.2,258.5 139.5,258.5 138.7,258.5 138,258.5" fill="#ff8080"/><path d="M138 258.5h0M139.2 258.5h0M140.4 258.5h0M141.6 258.4h0M142.8 258.4h0M144 258.5h0M145.2 258.6h0M146.4 258.6h0M147.6 258.4h0M148.8 258.4h0M150 258.3h0M151.2 258.3h0M152.4 258.4h0M153.6 258.3h0M154.8 258.5h0M156 258.4h0M157.2 258.5h0M158.4 258.2h0M159.6 258.3h0M160.8 258.2h0M162 258h0M163.2 257.7h0M164.4 257.5h0M165.6 256.1h0M166.8 255.3h0M168 252.8h0M169.2 252.7h0M170.4 253.8h0M171.6 252.6h0M172.8 250.9h0M174 251.4h0M175.2 250.2h0M176.5 253.5h0M177.7 254.6h0M178.9 256.7h0M180.1 257.3h0M181.3 257.3h0M182.5 257.3h0M183.7 256.8h0M184.9 254.9h0M186.1 251.2h0M187.3 244.9h0M188.5 238.5h0M189.7 236h0M190.9 239.5h0M192.1 246.3h0M193.3 252.2h0M194.5 255.6h0M195.7 257.2h0M196.9 257.9h0M198.1 258.2h0M199.3 258.1h0M200.5 258.2h0M201.7 258.2h0M202.9 258.3h0M204.1 258.5h0M205.3 258.3h0M206.5 258.3h0M207.7 258.4h0M208.9 258.3h0M210.1 258.4h0M211.3 258.3h0M212.5 258.5h0" stroke="#000000" stroke-width="2.1" stroke-linecap="round" fill="none"/><path d="M138 258.5 L138.7 258.5 L139.5 258.5 L140.2 258.5 L141 258.5 L141.7 258.5 L142.5 258.5 L143.2 258.5 L144 258.5 L144.7 258.5 L145.4 258.5 L146.2 258.5 L146.9 258.5 L147.7 258.5 L148.4 258.5 L149.2 258.5 L149.9 258.4 L150.7 258.4 L151.4 258.4 L152.2 258.4 L152.9 258.4 L153.6 258.4 L154.4 258.4 L155.1 258.4 L155.9 258.4 L156.6 258.4 L157.4 258.4 L158.1 258.4 L158.9 258.4 L159.6 258.3 L160.3 258.3 L161.1 258.2 L161.8 258.1 L162.6 258 L163.3 257.8 L164.1 257.4 L164.8 257 L165.6 256.4 L166.3 255.6 L167.1 254.8 L167.8 253.9 L168.5 253.2 L169.3 252.6 L170 252.2 L170.8 252 L171.5 251.9 L172.3 251.7 L173 251.7 L173.8 251.7 L174.5 252.1 L175.2 252.7 L176 253.5 L176.7 254.5 L177.5 255.4 L178.2 256.2 L179 256.9 L179.7 257.4 L180.5 257.8 L181.2 258 L182 258.1 L182.7 258.2 L183.4 258.3 L184.2 258.3 L184.9 258.3 L185.7 258.4 L186.4 258.4 L187.2 258.4 L187.9 258.4 L188.7 258.4 L189.4 258.4 L190.2 258.4 L190.9 258.4 L191.6 258.4 L192.4 258.4 L193.1 258.4 L193.9 258.4 L194.6 258.5 L195.4 258.5 L196.1 258.5 L196.9 258.5 L197.6 258.5 L198.3 258.5 L199.1 258.5 L199.8 258.5 L200.6 258.5 L201.3 258.5 L202.1 258.5 L202.8 258.5 L203.6 258.5 L204.3 258.5 L205.1 258.5 L205.8 258.5 L206.5 258.5 L207.3 258.5 L208 258.5 L208.8 258.5 L209.5 258.5 L210.3 258.5 L211 258.5 L211.8 258.5 L212.5 258.5" stroke="#8a8a8a" stroke-width="0.9" fill="none"/><path d="M138 258.5 L138.7 258.5 L139.5 258.5 L140.2 258.5 L141 258.5 L141.7 258.5 L142.5 258.5 L143.2 258.5 L144 258.5 L144.7 258.5 L145.4 258.5 L146.2 258.5 L146.9 258.5 L147.7 258.5 L148.4 258.5 L149.2 258.5 L149.9 258.5 L150.7 258.5 L151.4 258.5 L152.2 258.5 L152.9 258.5 L153.6 258.5 L154.4 258.5 L155.1 258.5 L155.9 258.5 L156.6 258.5 L157.4 258.5 L158.1 258.5 L158.9 258.5 L159.6 258.5 L160.3 258.5 L161.1 258.5 L161.8 258.5 L162.6 258.5 L163.3 258.4 L164.1 258.4 L164.8 258.4 L165.6 258.4 L166.3 258.4 L167.1 258.4 L167.8 258.4 L168.5 258.4 L169.3 258.4 L170 258.4 L170.8 258.4 L171.5 258.4 L172.3 258.4 L173 258.4 L173.8 258.4 L174.5 258.3 L175.2 258.3 L176 258.3 L176.7 258.3 L177.5 258.3 L178.2 258.2 L179 258.2 L179.7 258.2 L180.5 258.1 L181.2 258 L182 257.9 L182.7 257.7 L183.4 257.2 L184.2 256.4 L184.9 255 L185.7 252.8 L186.4 249.6 L187.2 245.6 L187.9 241.3 L188.7 237.8 L189.4 236.1 L190.2 236.8 L190.9 239.8 L191.6 243.9 L192.4 248.1 L193.1 251.6 L193.9 254.2 L194.6 255.9 L195.4 257 L196.1 257.5 L196.9 257.8 L197.6 258 L198.3 258.1 L199.1 258.1 L199.8 258.2 L200.6 258.2 L201.3 258.3 L202.1 258.3 L202.8 258.3 L203.6 258.3 L204.3 258.3 L205.1 258.4 L205.8 258.4 L206.5 258.4 L207.3 258.4 L208 258.4 L208.8 258.4 L209.5 258.4 L210.3 258.4 L211 258.4 L211.8 258.4 L212.5 258.4" stroke="#e80000" stroke-width="1.05" fill="none"/><path d="M138 258.5 V8.6 H227.4 V258.5" fill="none" stroke="#2ccfd4" stroke-width="1.2"/><path d="M245.3 258.5 H335.9" fill="none" stroke="#9547f0" stroke-width="1.2"/><line x1="260.8" y1="258.5" x2="260.8" y2="254.1" stroke="#9547f0" stroke-width="1"/><line x1="260.8" y1="8.5" x2="260.8" y2="12.9" stroke="#9547f0" stroke-width="1"/><line x1="275.7" y1="258.5" x2="275.7" y2="255.7" stroke="#9547f0" stroke-width="1"/><line x1="275.7" y1="8.5" x2="275.7" y2="11.3" stroke="#9547f0" stroke-width="1"/><line x1="290.6" y1="258.5" x2="290.6" y2="254.1" stroke="#9547f0" stroke-width="1"/><line x1="290.6" y1="8.5" x2="290.6" y2="12.9" stroke="#9547f0" stroke-width="1"/><line x1="305.5" y1="258.5" x2="305.5" y2="255.7" stroke="#9547f0" stroke-width="1"/><line x1="305.5" y1="8.5" x2="305.5" y2="11.3" stroke="#9547f0" stroke-width="1"/><line x1="320.4" y1="258.5" x2="320.4" y2="254.1" stroke="#9547f0" stroke-width="1"/><line x1="320.4" y1="8.5" x2="320.4" y2="12.9" stroke="#9547f0" stroke-width="1"/><line x1="245.9" y1="208.5" x2="250.1" y2="208.5" stroke="#9547f0" stroke-width="1"/><line x1="335.3" y1="208.5" x2="331.1" y2="208.5" stroke="#9547f0" stroke-width="1"/><line x1="245.9" y1="158.5" x2="250.1" y2="158.5" stroke="#9547f0" stroke-width="1"/><line x1="335.3" y1="158.5" x2="331.1" y2="158.5" stroke="#9547f0" stroke-width="1"/><line x1="245.9" y1="108.5" x2="250.1" y2="108.5" stroke="#9547f0" stroke-width="1"/><line x1="335.3" y1="108.5" x2="331.1" y2="108.5" stroke="#9547f0" stroke-width="1"/><line x1="245.9" y1="58.5" x2="250.1" y2="58.5" stroke="#9547f0" stroke-width="1"/><line x1="335.3" y1="58.5" x2="331.1" y2="58.5" stroke="#9547f0" stroke-width="1"/><polygon points="245.9,83.5 246.6,83.5 247.4,83.5 248.1,83.5 248.9,83.4 249.6,83.4 250.4,83.4 251.1,83.4 251.9,83.3 252.6,83.3 253.3,83.3 254.1,83.3 254.8,83.2 255.6,83.2 256.3,83.2 257.1,83.2 257.8,83.1 258.6,83.1 259.3,83.1 260.1,83 260.8,83 261.5,83 262.3,82.9 263,82.9 263.8,82.8 264.5,82.8 265.3,82.7 266,82.6 266.8,82.5 267.5,82.4 268.2,82.3 269,82.1 269.7,81.9 270.5,81.7 271.2,81.5 272,81.2 272.7,80.8 273.5,80.4 274.2,79.9 275,79.3 275.7,78.7 276.4,77.9 277.2,77.1 277.9,76.2 278.7,75.2 279.4,74.1 280.2,72.9 280.9,71.7 281.7,70.4 282.4,69 283.1,67.6 283.9,66.1 284.6,64.7 285.4,63.3 286.1,61.9 286.9,60.7 287.6,59.5 288.4,58.5 289.1,57.7 289.9,57.1 290.6,56.7 291.3,56.5 292.1,56.5 292.8,56.8 293.6,57.3 294.3,58.1 295.1,59 295.8,60 296.6,61.2 297.3,62.5 298.1,63.8 298.8,65.2 299.5,66.6 300.3,68 301,69.4 301.8,70.7 302.5,72 303.3,73.2 304,74.3 304.8,75.3 305.5,76.2 306.2,77 307,77.7 307.7,78.4 308.5,79 309.2,79.4 310,79.9 310.7,80.2 311.5,80.5 312.2,80.8 312.9,81 313.7,81.1 314.4,81.3 315.2,81.4 315.9,81.5 316.7,81.5 317.4,81.6 318.2,81.6 318.9,81.7 319.7,81.7 320.4,81.7 321.1,81.7 321.9,81.7 322.6,81.7 323.4,81.7 324.1,81.7 324.9,81.7 325.6,81.7 326.4,81.7 327.1,81.7 327.9,81.7 328.6,81.7 329.3,81.7 330.1,81.7 330.8,81.7 331.6,81.7 332.3,81.7 333.1,81.7 333.8,81.7 334.6,81.6 335.3,81.6 335.3,81.8 334.6,81.8 333.8,81.8 333.1,81.9 332.3,81.9 331.6,81.9 330.8,81.9 330.1,81.9 329.3,81.9 328.6,82 327.9,82 327.1,82 326.4,82 325.6,82 324.9,82 324.1,82 323.4,82.1 322.6,82.1 321.9,82.1 321.1,82.1 320.4,82.1 319.7,82.1 318.9,82.2 318.2,82.2 317.4,82.2 316.7,82.2 315.9,82.2 315.2,82.2 314.4,82.2 313.7,82.3 312.9,82.3 312.2,82.3 311.5,82.3 310.7,82.3 310,82.3 309.2,82.4 308.5,82.4 307.7,82.4 307,82.4 306.2,82.4 305.5,82.4 304.8,82.5 304,82.5 303.3,82.5 302.5,82.5 301.8,82.5 301,82.5 300.3,82.5 299.5,82.6 298.8,82.6 298.1,82.6 297.3,82.6 296.6,82.6 295.8,82.6 295.1,82.7 294.3,82.7 293.6,82.7 292.8,82.7 292.1,82.7 291.3,82.7 290.6,82.8 289.9,82.8 289.1,82.8 288.4,82.8 287.6,82.8 286.9,82.8 286.1,82.8 285.4,82.9 284.6,82.9 283.9,82.9 283.1,82.9 282.4,82.9 281.7,82.9 280.9,83 280.2,83 279.4,83 278.7,83 277.9,83 277.2,83 276.4,83 275.7,83.1 275,83.1 274.2,83.1 273.5,83.1 272.7,83.1 272,83.1 271.2,83.2 270.5,83.2 269.7,83.2 269,83.2 268.2,83.2 267.5,83.2 266.8,83.2 266,83.3 265.3,83.3 264.5,83.3 263.8,83.3 263,83.3 262.3,83.3 261.5,83.4 260.8,83.4 260.1,83.4 259.3,83.4 258.6,83.4 257.8,83.4 257.1,83.5 256.3,83.5 255.6,83.5 254.8,83.5 254.1,83.5 253.3,83.5 252.6,83.5 251.9,83.6 251.1,83.6 250.4,83.6 249.6,83.6 248.9,83.6 248.1,83.6 247.4,83.7 246.6,83.7 245.9,83.7" fill="#ff8080"/><path d="M245.9 83.5h0M246.6 82.7h0M247.4 84.1h0M248.1 82.8h0M248.9 83.6h0M249.6 83.6h0M250.4 82.2h0M251.1 83.3h0M251.9 83.4h0M252.6 82.8h0M253.3 82.6h0M254.1 83.3h0M254.8 82.9h0M255.6 83.9h0M256.3 83.4h0M257.1 83.5h0M257.8 84h0M258.6 84.1h0M259.3 84.1h0M260.1 83.2h0M260.8 83.1h0M261.5 83.2h0M262.3 82.9h0M263 83.8h0M263.8 82.9h0M264.5 82.6h0M265.3 82.2h0M266 83.2h0M266.8 82.8h0M267.5 83.7h0M268.2 82.6h0M269 83.6h0M269.7 82.9h0M270.5 81h0M271.2 82.9h0M272 80.6h0M272.7 80.6h0M273.5 80.6h0M274.2 79.6h0M275 79h0M275.7 78h0M276.4 78.1h0M277.2 77.5h0M277.9 76.6h0M278.7 75.9h0M279.4 74.1h0M280.2 73.5h0M280.9 71h0M281.7 71.6h0M282.4 69.7h0M283.1 68.2h0M283.9 67.5h0M284.6 63.4h0M285.4 64.8h0M286.1 62.1h0M286.9 61h0M287.6 58.5h0M288.4 59.8h0M289.1 57h0M289.9 57.6h0M290.6 56.8h0M291.3 56.9h0M292.1 56.1h0M292.8 57.6h0M293.6 57.4h0M294.3 57.8h0M295.1 57.8h0M295.8 61.6h0M296.6 60.2h0M297.3 61.9h0M298.1 64.2h0M298.8 65h0M299.5 66.9h0M300.3 67h0M301 69.3h0M301.8 70.9h0M302.5 72.1h0M303.3 73.3h0M304 74.4h0M304.8 75.8h0M305.5 74.9h0M306.2 78.3h0M307 80.1h0M307.7 78.5h0M308.5 79.1h0M309.2 79.2h0M310 80h0M310.7 80.3h0M311.5 80.3h0M312.2 80.1h0M312.9 81.3h0M313.7 81.4h0M314.4 80h0M315.2 81h0M315.9 82.1h0M316.7 80h0M317.4 81.1h0M318.2 82h0M318.9 82.4h0M319.7 81.5h0M320.4 82.2h0M321.1 82.4h0M321.9 82.6h0M322.6 82.1h0M323.4 81h0M324.1 82h0M324.9 82.7h0M325.6 81.3h0M326.4 81.7h0M327.1 81.2h0M327.9 80.9h0M328.6 81.8h0M329.3 81.8h0M330.1 81.7h0M330.8 82.4h0M331.6 81.2h0M332.3 80.8h0M333.1 81.5h0M333.8 81.8h0M334.6 81.8h0M335.3 82.1h0" stroke="#000000" stroke-width="1.7" stroke-linecap="round" fill="none"/><path d="M245.9 83.5 L246.6 83.5 L247.4 83.5 L248.1 83.5 L248.9 83.4 L249.6 83.4 L250.4 83.4 L251.1 83.4 L251.9 83.3 L252.6 83.3 L253.3 83.3 L254.1 83.3 L254.8 83.2 L255.6 83.2 L256.3 83.2 L257.1 83.2 L257.8 83.1 L258.6 83.1 L259.3 83.1 L260.1 83 L260.8 83 L261.5 83 L262.3 82.9 L263 82.9 L263.8 82.8 L264.5 82.8 L265.3 82.7 L266 82.6 L266.8 82.5 L267.5 82.4 L268.2 82.3 L269 82.1 L269.7 81.9 L270.5 81.7 L271.2 81.5 L272 81.2 L272.7 80.8 L273.5 80.4 L274.2 79.9 L275 79.3 L275.7 78.7 L276.4 77.9 L277.2 77.1 L277.9 76.2 L278.7 75.2 L279.4 74.1 L280.2 72.9 L280.9 71.7 L281.7 70.4 L282.4 69 L283.1 67.6 L283.9 66.1 L284.6 64.7 L285.4 63.3 L286.1 61.9 L286.9 60.7 L287.6 59.5 L288.4 58.5 L289.1 57.7 L289.9 57.1 L290.6 56.7 L291.3 56.5 L292.1 56.5 L292.8 56.8 L293.6 57.3 L294.3 58.1 L295.1 59 L295.8 60 L296.6 61.2 L297.3 62.5 L298.1 63.8 L298.8 65.2 L299.5 66.6 L300.3 68 L301 69.4 L301.8 70.7 L302.5 72 L303.3 73.2 L304 74.3 L304.8 75.3 L305.5 76.2 L306.2 77 L307 77.7 L307.7 78.4 L308.5 79 L309.2 79.4 L310 79.9 L310.7 80.2 L311.5 80.5 L312.2 80.8 L312.9 81 L313.7 81.1 L314.4 81.3 L315.2 81.4 L315.9 81.5 L316.7 81.5 L317.4 81.6 L318.2 81.6 L318.9 81.7 L319.7 81.7 L320.4 81.7 L321.1 81.7 L321.9 81.7 L322.6 81.7 L323.4 81.7 L324.1 81.7 L324.9 81.7 L325.6 81.7 L326.4 81.7 L327.1 81.7 L327.9 81.7 L328.6 81.7 L329.3 81.7 L330.1 81.7 L330.8 81.7 L331.6 81.7 L332.3 81.7 L333.1 81.7 L333.8 81.7 L334.6 81.6 L335.3 81.6" stroke="#e80000" stroke-width="1.05" fill="none"/><polygon points="245.9,108.6 246.6,108.5 247.4,108.5 248.1,108.5 248.9,108.5 249.6,108.5 250.4,108.4 251.1,108.4 251.9,108.4 252.6,108.4 253.3,108.3 254.1,108.3 254.8,108.3 255.6,108.3 256.3,108.3 257.1,108.2 257.8,108.2 258.6,108.2 259.3,108.2 260.1,108.1 260.8,108.1 261.5,108.1 262.3,108 263,108 263.8,108 264.5,107.9 265.3,107.9 266,107.8 266.8,107.8 267.5,107.7 268.2,107.7 269,107.6 269.7,107.5 270.5,107.4 271.2,107.2 272,107.1 272.7,106.9 273.5,106.6 274.2,106.4 275,106.1 275.7,105.7 276.4,105.3 277.2,104.8 277.9,104.2 278.7,103.6 279.4,102.9 280.2,102.1 280.9,101.2 281.7,100.2 282.4,99.2 283.1,98 283.9,96.9 284.6,95.6 285.4,94.4 286.1,93.1 286.9,91.8 287.6,90.5 288.4,89.3 289.1,88.2 289.9,87.1 290.6,86.2 291.3,85.4 292.1,84.8 292.8,84.4 293.6,84.2 294.3,84.2 295.1,84.4 295.8,84.8 296.6,85.4 297.3,86.2 298.1,87.1 298.8,88.2 299.5,89.3 300.3,90.5 301,91.7 301.8,93 302.5,94.3 303.3,95.5 304,96.7 304.8,97.8 305.5,98.9 306.2,99.9 307,100.8 307.7,101.6 308.5,102.4 309.2,103.1 310,103.7 310.7,104.2 311.5,104.6 312.2,105 312.9,105.3 313.7,105.6 314.4,105.8 315.2,106 315.9,106.2 316.7,106.3 317.4,106.4 318.2,106.5 318.9,106.5 319.7,106.6 320.4,106.6 321.1,106.7 321.9,106.7 322.6,106.7 323.4,106.7 324.1,106.7 324.9,106.7 325.6,106.7 326.4,106.7 327.1,106.7 327.9,106.7 328.6,106.7 329.3,106.7 330.1,106.7 330.8,106.7 331.6,106.7 332.3,106.7 333.1,106.7 333.8,106.7 334.6,106.6 335.3,106.6 335.3,106.8 334.6,106.8 333.8,106.8 333.1,106.9 332.3,106.9 331.6,106.9 330.8,106.9 330.1,106.9 329.3,106.9 328.6,107 327.9,107 327.1,107 326.4,107 325.6,107 324.9,107 324.1,107 323.4,107.1 322.6,107.1 321.9,107.1 321.1,107.1 320.4,107.1 319.7,107.1 318.9,107.2 318.2,107.2 317.4,107.2 316.7,107.2 315.9,107.2 315.2,107.2 314.4,107.2 313.7,107.3 312.9,107.3 312.2,107.3 311.5,107.3 310.7,107.3 310,107.3 309.2,107.4 308.5,107.4 307.7,107.4 307,107.4 306.2,107.4 305.5,107.4 304.8,107.5 304,107.5 303.3,107.5 302.5,107.5 301.8,107.5 301,107.5 300.3,107.5 299.5,107.6 298.8,107.6 298.1,107.6 297.3,107.6 296.6,107.6 295.8,107.6 295.1,107.7 294.3,107.7 293.6,107.7 292.8,107.7 292.1,107.7 291.3,107.7 290.6,107.8 289.9,107.8 289.1,107.8 288.4,107.8 287.6,107.8 286.9,107.8 286.1,107.8 285.4,107.9 284.6,107.9 283.9,107.9 283.1,107.9 282.4,107.9 281.7,107.9 280.9,108 280.2,108 279.4,108 278.7,108 277.9,108 277.2,108 276.4,108 275.7,108.1 275,108.1 274.2,108.1 273.5,108.1 272.7,108.1 272,108.1 271.2,108.2 270.5,108.2 269.7,108.2 269,108.2 268.2,108.2 267.5,108.2 266.8,108.2 266,108.3 265.3,108.3 264.5,108.3 263.8,108.3 263,108.3 262.3,108.3 261.5,108.4 260.8,108.4 260.1,108.4 259.3,108.4 258.6,108.4 257.8,108.4 257.1,108.5 256.3,108.5 255.6,108.5 254.8,108.5 254.1,108.5 253.3,108.5 252.6,108.5 251.9,108.6 251.1,108.6 250.4,108.6 249.6,108.6 248.9,108.6 248.1,108.6 247.4,108.7 246.6,108.7 245.9,108.7" fill="#ff8080"/><path d="M245.9 109.1h0M246.6 108.8h0M247.4 109.1h0M248.1 108.8h0M248.9 109.5h0M249.6 108.2h0M250.4 108.4h0M251.1 109.2h0M251.9 109.9h0M252.6 108.4h0M253.3 107.6h0M254.1 108.8h0M254.8 108.6h0M255.6 108.6h0M256.3 107.8h0M257.1 108.8h0M257.8 107.6h0M258.6 108.4h0M259.3 107.6h0M260.1 108.1h0M260.8 108.3h0M261.5 109h0M262.3 108.5h0M263 108.2h0M263.8 107.5h0M264.5 107.8h0M265.3 108.3h0M266 107.6h0M266.8 107.1h0M267.5 107.8h0M268.2 107.9h0M269 107.8h0M269.7 106.9h0M270.5 107h0M271.2 107.8h0M272 106.8h0M272.7 107.2h0M273.5 107.1h0M274.2 105.6h0M275 105.5h0M275.7 106.2h0M276.4 105.2h0M277.2 104.4h0M277.9 104.6h0M278.7 103.6h0M279.4 102.4h0M280.2 103.2h0M280.9 101h0M281.7 99.7h0M282.4 98.8h0M283.1 98.9h0M283.9 96.7h0M284.6 96.2h0M285.4 94h0M286.1 92.7h0M286.9 91.7h0M287.6 91h0M288.4 89.7h0M289.1 87.6h0M289.9 87.7h0M290.6 85.9h0M291.3 85.1h0M292.1 85h0M292.8 82.9h0M293.6 84.2h0M294.3 82.8h0M295.1 85.7h0M295.8 86.3h0M296.6 84.8h0M297.3 85.8h0M298.1 87.3h0M298.8 88.2h0M299.5 90.5h0M300.3 90.9h0M301 92.4h0M301.8 93.2h0M302.5 93.7h0M303.3 95.5h0M304 96.4h0M304.8 98.3h0M305.5 99.2h0M306.2 99.8h0M307 101h0M307.7 100.8h0M308.5 103h0M309.2 101.8h0M310 104.3h0M310.7 103.5h0M311.5 105.1h0M312.2 103.9h0M312.9 105.2h0M313.7 105.3h0M314.4 105.3h0M315.2 106.4h0M315.9 106.9h0M316.7 107.6h0M317.4 105.6h0M318.2 106.9h0M318.9 106.9h0M319.7 106.6h0M320.4 105.3h0M321.1 107.8h0M321.9 106.5h0M322.6 106.9h0M323.4 106.4h0M324.1 107.9h0M324.9 107h0M325.6 106.2h0M326.4 105.7h0M327.1 105.7h0M327.9 107.3h0M328.6 106.7h0M329.3 106.8h0M330.1 107.6h0M330.8 107.6h0M331.6 106.2h0M332.3 106.5h0M333.1 106.8h0M333.8 105.9h0M334.6 107.3h0M335.3 106.3h0" stroke="#000000" stroke-width="1.7" stroke-linecap="round" fill="none"/><path d="M245.9 108.6 L246.6 108.5 L247.4 108.5 L248.1 108.5 L248.9 108.5 L249.6 108.5 L250.4 108.4 L251.1 108.4 L251.9 108.4 L252.6 108.4 L253.3 108.3 L254.1 108.3 L254.8 108.3 L255.6 108.3 L256.3 108.3 L257.1 108.2 L257.8 108.2 L258.6 108.2 L259.3 108.2 L260.1 108.1 L260.8 108.1 L261.5 108.1 L262.3 108 L263 108 L263.8 108 L264.5 107.9 L265.3 107.9 L266 107.8 L266.8 107.8 L267.5 107.7 L268.2 107.7 L269 107.6 L269.7 107.5 L270.5 107.4 L271.2 107.2 L272 107.1 L272.7 106.9 L273.5 106.6 L274.2 106.4 L275 106.1 L275.7 105.7 L276.4 105.3 L277.2 104.8 L277.9 104.2 L278.7 103.6 L279.4 102.9 L280.2 102.1 L280.9 101.2 L281.7 100.2 L282.4 99.2 L283.1 98 L283.9 96.9 L284.6 95.6 L285.4 94.4 L286.1 93.1 L286.9 91.8 L287.6 90.5 L288.4 89.3 L289.1 88.2 L289.9 87.1 L290.6 86.2 L291.3 85.4 L292.1 84.8 L292.8 84.4 L293.6 84.2 L294.3 84.2 L295.1 84.4 L295.8 84.8 L296.6 85.4 L297.3 86.2 L298.1 87.1 L298.8 88.2 L299.5 89.3 L300.3 90.5 L301 91.7 L301.8 93 L302.5 94.3 L303.3 95.5 L304 96.7 L304.8 97.8 L305.5 98.9 L306.2 99.9 L307 100.8 L307.7 101.6 L308.5 102.4 L309.2 103.1 L310 103.7 L310.7 104.2 L311.5 104.6 L312.2 105 L312.9 105.3 L313.7 105.6 L314.4 105.8 L315.2 106 L315.9 106.2 L316.7 106.3 L317.4 106.4 L318.2 106.5 L318.9 106.5 L319.7 106.6 L320.4 106.6 L321.1 106.7 L321.9 106.7 L322.6 106.7 L323.4 106.7 L324.1 106.7 L324.9 106.7 L325.6 106.7 L326.4 106.7 L327.1 106.7 L327.9 106.7 L328.6 106.7 L329.3 106.7 L330.1 106.7 L330.8 106.7 L331.6 106.7 L332.3 106.7 L333.1 106.7 L333.8 106.7 L334.6 106.6 L335.3 106.6" stroke="#e80000" stroke-width="1.05" fill="none"/><polygon points="245.9,133.7 246.6,133.7 247.4,133.7 248.1,133.6 248.9,133.6 249.6,133.6 250.4,133.6 251.1,133.6 251.9,133.6 252.6,133.5 253.3,133.5 254.1,133.5 254.8,133.5 255.6,133.5 256.3,133.5 257.1,133.4 257.8,133.4 258.6,133.4 259.3,133.4 260.1,133.4 260.8,133.4 261.5,133.3 262.3,133.3 263,133.3 263.8,133.3 264.5,133.2 265.3,133.2 266,133.1 266.8,133.1 267.5,133 268.2,133 269,132.9 269.7,132.9 270.5,132.8 271.2,132.7 272,132.7 272.7,132.6 273.5,132.5 274.2,132.4 275,132.4 275.7,132.3 276.4,132.3 277.2,132.3 277.9,132.3 278.7,132.3 279.4,132.3 280.2,132.3 280.9,132.4 281.7,132.4 282.4,132.4 283.1,132.5 283.9,132.5 284.6,132.6 285.4,132.6 286.1,132.6 286.9,132.6 287.6,132.7 288.4,132.7 289.1,132.7 289.9,132.7 290.6,132.7 291.3,132.7 292.1,132.7 292.8,132.7 293.6,132.7 294.3,132.7 295.1,132.6 295.8,132.6 296.6,132.6 297.3,132.6 298.1,132.6 298.8,132.6 299.5,132.6 300.3,132.5 301,132.5 301.8,132.5 302.5,132.5 303.3,132.5 304,132.5 304.8,132.4 305.5,132.4 306.2,132.4 307,132.4 307.7,132.4 308.5,132.4 309.2,132.4 310,132.3 310.7,132.3 311.5,132.3 312.2,132.3 312.9,132.3 313.7,132.3 314.4,132.2 315.2,132.2 315.9,132.2 316.7,132.2 317.4,132.2 318.2,132.2 318.9,132.2 319.7,132.1 320.4,132.1 321.1,132.1 321.9,132.1 322.6,132.1 323.4,132.1 324.1,132 324.9,132 325.6,132 326.4,132 327.1,132 327.9,132 328.6,132 329.3,131.9 330.1,131.9 330.8,131.9 331.6,131.9 332.3,131.9 333.1,131.9 333.8,131.8 334.6,131.8 335.3,131.8 335.3,131.8 334.6,131.8 333.8,131.8 333.1,131.9 332.3,131.9 331.6,131.9 330.8,131.9 330.1,131.9 329.3,131.9 328.6,132 327.9,132 327.1,132 326.4,132 325.6,132 324.9,132 324.1,132 323.4,132.1 322.6,132.1 321.9,132.1 321.1,132.1 320.4,132.1 319.7,132.1 318.9,132.2 318.2,132.2 317.4,132.2 316.7,132.2 315.9,132.2 315.2,132.2 314.4,132.2 313.7,132.3 312.9,132.3 312.2,132.3 311.5,132.3 310.7,132.3 310,132.3 309.2,132.4 308.5,132.4 307.7,132.4 307,132.4 306.2,132.4 305.5,132.4 304.8,132.5 304,132.5 303.3,132.5 302.5,132.5 301.8,132.5 301,132.5 300.3,132.5 299.5,132.6 298.8,132.6 298.1,132.6 297.3,132.6 296.6,132.6 295.8,132.6 295.1,132.7 294.3,132.7 293.6,132.7 292.8,132.7 292.1,132.7 291.3,132.7 290.6,132.8 289.9,132.8 289.1,132.8 288.4,132.8 287.6,132.8 286.9,132.8 286.1,132.8 285.4,132.9 284.6,132.9 283.9,132.9 283.1,132.9 282.4,132.9 281.7,132.9 280.9,133 280.2,133 279.4,133 278.7,133 277.9,133 277.2,133 276.4,133 275.7,133.1 275,133.1 274.2,133.1 273.5,133.1 272.7,133.1 272,133.1 271.2,133.2 270.5,133.2 269.7,133.2 269,133.2 268.2,133.2 267.5,133.2 266.8,133.2 266,133.3 265.3,133.3 264.5,133.3 263.8,133.3 263,133.3 262.3,133.3 261.5,133.4 260.8,133.4 260.1,133.4 259.3,133.4 258.6,133.4 257.8,133.4 257.1,133.5 256.3,133.5 255.6,133.5 254.8,133.5 254.1,133.5 253.3,133.5 252.6,133.5 251.9,133.6 251.1,133.6 250.4,133.6 249.6,133.6 248.9,133.6 248.1,133.6 247.4,133.7 246.6,133.7 245.9,133.7" fill="#b9b9b9"/><polygon points="245.9,133.6 246.6,133.6 247.4,133.5 248.1,133.5 248.9,133.5 249.6,133.5 250.4,133.5 251.1,133.4 251.9,133.4 252.6,133.4 253.3,133.4 254.1,133.4 254.8,133.3 255.6,133.3 256.3,133.3 257.1,133.3 257.8,133.2 258.6,133.2 259.3,133.2 260.1,133.2 260.8,133.1 261.5,133.1 262.3,133.1 263,133 263.8,133 264.5,132.9 265.3,132.9 266,132.8 266.8,132.7 267.5,132.6 268.2,132.5 269,132.4 269.7,132.3 270.5,132.1 271.2,132 272,131.8 272.7,131.5 273.5,131.3 274.2,131 275,130.7 275.7,130.3 276.4,129.9 277.2,129.5 277.9,129 278.7,128.4 279.4,127.8 280.2,127.1 280.9,126.4 281.7,125.5 282.4,124.6 283.1,123.7 283.9,122.6 284.6,121.5 285.4,120.4 286.1,119.2 286.9,118 287.6,116.9 288.4,115.7 289.1,114.6 289.9,113.6 290.6,112.6 291.3,111.8 292.1,111.2 292.8,110.6 293.6,110.3 294.3,110.2 295.1,110.2 295.8,110.4 296.6,110.9 297.3,111.5 298.1,112.2 298.8,113.1 299.5,114.1 300.3,115.1 301,116.3 301.8,117.4 302.5,118.6 303.3,119.8 304,121 304.8,122.1 305.5,123.2 306.2,124.2 307,125.2 307.7,126 308.5,126.9 309.2,127.6 310,128.2 310.7,128.8 311.5,129.3 312.2,129.7 312.9,130.1 313.7,130.4 314.4,130.7 315.2,130.9 315.9,131.1 316.7,131.3 317.4,131.4 318.2,131.5 318.9,131.5 319.7,131.6 320.4,131.7 321.1,131.7 321.9,131.7 322.6,131.7 323.4,131.7 324.1,131.8 324.9,131.8 325.6,131.8 326.4,131.8 327.1,131.8 327.9,131.8 328.6,131.7 329.3,131.7 330.1,131.7 330.8,131.7 331.6,131.7 332.3,131.7 333.1,131.7 333.8,131.7 334.6,131.7 335.3,131.7 335.3,131.8 334.6,131.8 333.8,131.8 333.1,131.9 332.3,131.9 331.6,131.9 330.8,131.9 330.1,131.9 329.3,131.9 328.6,132 327.9,132 327.1,132 326.4,132 325.6,132 324.9,132 324.1,132 323.4,132.1 322.6,132.1 321.9,132.1 321.1,132.1 320.4,132.1 319.7,132.1 318.9,132.2 318.2,132.2 317.4,132.2 316.7,132.2 315.9,132.2 315.2,132.2 314.4,132.2 313.7,132.3 312.9,132.3 312.2,132.3 311.5,132.3 310.7,132.3 310,132.3 309.2,132.4 308.5,132.4 307.7,132.4 307,132.4 306.2,132.4 305.5,132.4 304.8,132.4 304,132.5 303.3,132.5 302.5,132.5 301.8,132.5 301,132.5 300.3,132.5 299.5,132.6 298.8,132.6 298.1,132.6 297.3,132.6 296.6,132.6 295.8,132.6 295.1,132.6 294.3,132.7 293.6,132.7 292.8,132.7 292.1,132.7 291.3,132.7 290.6,132.7 289.9,132.7 289.1,132.7 288.4,132.7 287.6,132.7 286.9,132.6 286.1,132.6 285.4,132.6 284.6,132.6 283.9,132.5 283.1,132.5 282.4,132.4 281.7,132.4 280.9,132.4 280.2,132.3 279.4,132.3 278.7,132.3 277.9,132.3 277.2,132.3 276.4,132.3 275.7,132.3 275,132.4 274.2,132.4 273.5,132.5 272.7,132.6 272,132.7 271.2,132.7 270.5,132.8 269.7,132.9 269,132.9 268.2,133 267.5,133 266.8,133.1 266,133.1 265.3,133.2 264.5,133.2 263.8,133.3 263,133.3 262.3,133.3 261.5,133.3 260.8,133.4 260.1,133.4 259.3,133.4 258.6,133.4 257.8,133.4 257.1,133.4 256.3,133.5 255.6,133.5 254.8,133.5 254.1,133.5 253.3,133.5 252.6,133.5 251.9,133.6 251.1,133.6 250.4,133.6 249.6,133.6 248.9,133.6 248.1,133.6 247.4,133.7 246.6,133.7 245.9,133.7" fill="#ff8080"/><path d="M245.9 133.6h0M246.6 133.6h0M247.4 133.2h0M248.1 133.4h0M248.9 133.3h0M249.6 133.3h0M250.4 132.2h0M251.1 133.6h0M251.9 132.8h0M252.6 133h0M253.3 133.6h0M254.1 132.8h0M254.8 133.9h0M255.6 132.6h0M256.3 133.8h0M257.1 133.6h0M257.8 133h0M258.6 132.7h0M259.3 132.6h0M260.1 132.6h0M260.8 133.3h0M261.5 133.7h0M262.3 132.7h0M263 132.8h0M263.8 133.6h0M264.5 132.3h0M265.3 132.8h0M266 133.4h0M266.8 132.5h0M267.5 133.5h0M268.2 133.1h0M269 132.2h0M269.7 133.3h0M270.5 132.1h0M271.2 132.8h0M272 131.3h0M272.7 132h0M273.5 131.2h0M274.2 132h0M275 130.9h0M275.7 129.7h0M276.4 129.6h0M277.2 130.7h0M277.9 128.4h0M278.7 127.8h0M279.4 128h0M280.2 126.2h0M280.9 127h0M281.7 125.6h0M282.4 123.9h0M283.1 122.8h0M283.9 121.8h0M284.6 122.2h0M285.4 121.6h0M286.1 119h0M286.9 119h0M287.6 117h0M288.4 116.6h0M289.1 113.9h0M289.9 113.1h0M290.6 112.3h0M291.3 111.8h0M292.1 111.1h0M292.8 110.8h0M293.6 110.1h0M294.3 110h0M295.1 109.9h0M295.8 110.7h0M296.6 109.6h0M297.3 111.3h0M298.1 111.3h0M298.8 112.2h0M299.5 114.6h0M300.3 116.2h0M301 115.4h0M301.8 117.7h0M302.5 118.6h0M303.3 120h0M304 120.9h0M304.8 122.9h0M305.5 123.3h0M306.2 124.5h0M307 125.2h0M307.7 127.6h0M308.5 126.3h0M309.2 127.4h0M310 129.3h0M310.7 129.3h0M311.5 129.3h0M312.2 129.3h0M312.9 130.1h0M313.7 129.5h0M314.4 130.7h0M315.2 131.6h0M315.9 131.5h0M316.7 130.8h0M317.4 131.8h0M318.2 130.9h0M318.9 130.9h0M319.7 131.2h0M320.4 131h0M321.1 131.8h0M321.9 131.7h0M322.6 132.1h0M323.4 132.1h0M324.1 132.8h0M324.9 132.1h0M325.6 132.5h0M326.4 132.7h0M327.1 131.7h0M327.9 131.5h0M328.6 132h0M329.3 130.9h0M330.1 131.1h0M330.8 131h0M331.6 132.1h0M332.3 132.7h0M333.1 131.3h0M333.8 131.5h0M334.6 131.2h0M335.3 131.4h0" stroke="#000000" stroke-width="1.7" stroke-linecap="round" fill="none"/><path d="M245.9 133.7 L246.6 133.7 L247.4 133.7 L248.1 133.6 L248.9 133.6 L249.6 133.6 L250.4 133.6 L251.1 133.6 L251.9 133.6 L252.6 133.5 L253.3 133.5 L254.1 133.5 L254.8 133.5 L255.6 133.5 L256.3 133.5 L257.1 133.4 L257.8 133.4 L258.6 133.4 L259.3 133.4 L260.1 133.4 L260.8 133.4 L261.5 133.3 L262.3 133.3 L263 133.3 L263.8 133.3 L264.5 133.2 L265.3 133.2 L266 133.1 L266.8 133.1 L267.5 133 L268.2 133 L269 132.9 L269.7 132.9 L270.5 132.8 L271.2 132.7 L272 132.7 L272.7 132.6 L273.5 132.5 L274.2 132.4 L275 132.4 L275.7 132.3 L276.4 132.3 L277.2 132.3 L277.9 132.3 L278.7 132.3 L279.4 132.3 L280.2 132.3 L280.9 132.4 L281.7 132.4 L282.4 132.4 L283.1 132.5 L283.9 132.5 L284.6 132.6 L285.4 132.6 L286.1 132.6 L286.9 132.6 L287.6 132.7 L288.4 132.7 L289.1 132.7 L289.9 132.7 L290.6 132.7 L291.3 132.7 L292.1 132.7 L292.8 132.7 L293.6 132.7 L294.3 132.7 L295.1 132.6 L295.8 132.6 L296.6 132.6 L297.3 132.6 L298.1 132.6 L298.8 132.6 L299.5 132.6 L300.3 132.5 L301 132.5 L301.8 132.5 L302.5 132.5 L303.3 132.5 L304 132.5 L304.8 132.4 L305.5 132.4 L306.2 132.4 L307 132.4 L307.7 132.4 L308.5 132.4 L309.2 132.4 L310 132.3 L310.7 132.3 L311.5 132.3 L312.2 132.3 L312.9 132.3 L313.7 132.3 L314.4 132.2 L315.2 132.2 L315.9 132.2 L316.7 132.2 L317.4 132.2 L318.2 132.2 L318.9 132.2 L319.7 132.1 L320.4 132.1 L321.1 132.1 L321.9 132.1 L322.6 132.1 L323.4 132.1 L324.1 132 L324.9 132 L325.6 132 L326.4 132 L327.1 132 L327.9 132 L328.6 132 L329.3 131.9 L330.1 131.9 L330.8 131.9 L331.6 131.9 L332.3 131.9 L333.1 131.9 L333.8 131.8 L334.6 131.8 L335.3 131.8" stroke="#8a8a8a" stroke-width="0.9" fill="none"/><path d="M245.9 133.6 L246.6 133.6 L247.4 133.5 L248.1 133.5 L248.9 133.5 L249.6 133.5 L250.4 133.5 L251.1 133.4 L251.9 133.4 L252.6 133.4 L253.3 133.4 L254.1 133.4 L254.8 133.3 L255.6 133.3 L256.3 133.3 L257.1 133.3 L257.8 133.3 L258.6 133.2 L259.3 133.2 L260.1 133.2 L260.8 133.2 L261.5 133.1 L262.3 133.1 L263 133.1 L263.8 133 L264.5 133 L265.3 133 L266 132.9 L266.8 132.9 L267.5 132.8 L268.2 132.8 L269 132.7 L269.7 132.6 L270.5 132.5 L271.2 132.4 L272 132.2 L272.7 132.1 L273.5 131.9 L274.2 131.6 L275 131.4 L275.7 131 L276.4 130.6 L277.2 130.2 L277.9 129.7 L278.7 129.1 L279.4 128.5 L280.2 127.8 L280.9 127 L281.7 126.1 L282.4 125.1 L283.1 124.1 L283.9 123 L284.6 121.9 L285.4 120.7 L286.1 119.5 L286.9 118.2 L287.6 117 L288.4 115.8 L289.1 114.7 L289.9 113.7 L290.6 112.7 L291.3 111.9 L292.1 111.2 L292.8 110.7 L293.6 110.3 L294.3 110.2 L295.1 110.2 L295.8 110.5 L296.6 110.9 L297.3 111.5 L298.1 112.2 L298.8 113.1 L299.5 114.1 L300.3 115.1 L301 116.3 L301.8 117.4 L302.5 118.6 L303.3 119.8 L304 121 L304.8 122.1 L305.5 123.2 L306.2 124.2 L307 125.2 L307.7 126.1 L308.5 126.9 L309.2 127.6 L310 128.2 L310.7 128.8 L311.5 129.3 L312.2 129.7 L312.9 130.1 L313.7 130.4 L314.4 130.7 L315.2 130.9 L315.9 131.1 L316.7 131.3 L317.4 131.4 L318.2 131.5 L318.9 131.5 L319.7 131.6 L320.4 131.7 L321.1 131.7 L321.9 131.7 L322.6 131.7 L323.4 131.7 L324.1 131.8 L324.9 131.8 L325.6 131.8 L326.4 131.8 L327.1 131.8 L327.9 131.8 L328.6 131.7 L329.3 131.7 L330.1 131.7 L330.8 131.7 L331.6 131.7 L332.3 131.7 L333.1 131.7 L333.8 131.7 L334.6 131.7 L335.3 131.7" stroke="#e80000" stroke-width="1.05" fill="none"/><polygon points="245.9,158.7 246.6,158.7 247.4,158.7 248.1,158.6 248.9,158.6 249.6,158.6 250.4,158.6 251.1,158.6 251.9,158.6 252.6,158.5 253.3,158.5 254.1,158.5 254.8,158.5 255.6,158.5 256.3,158.5 257.1,158.4 257.8,158.4 258.6,158.4 259.3,158.4 260.1,158.4 260.8,158.3 261.5,158.3 262.3,158.3 263,158.3 263.8,158.2 264.5,158.2 265.3,158.1 266,158.1 266.8,158 267.5,157.9 268.2,157.8 269,157.8 269.7,157.7 270.5,157.5 271.2,157.4 272,157.3 272.7,157.2 273.5,157.1 274.2,157 275,156.9 275.7,156.9 276.4,156.8 277.2,156.8 277.9,156.8 278.7,156.8 279.4,156.8 280.2,156.9 280.9,156.9 281.7,157 282.4,157.1 283.1,157.2 283.9,157.3 284.6,157.3 285.4,157.4 286.1,157.5 286.9,157.5 287.6,157.6 288.4,157.6 289.1,157.6 289.9,157.6 290.6,157.7 291.3,157.7 292.1,157.7 292.8,157.7 293.6,157.7 294.3,157.6 295.1,157.6 295.8,157.6 296.6,157.6 297.3,157.6 298.1,157.6 298.8,157.6 299.5,157.6 300.3,157.5 301,157.5 301.8,157.5 302.5,157.5 303.3,157.5 304,157.5 304.8,157.4 305.5,157.4 306.2,157.4 307,157.4 307.7,157.4 308.5,157.4 309.2,157.4 310,157.3 310.7,157.3 311.5,157.3 312.2,157.3 312.9,157.3 313.7,157.3 314.4,157.2 315.2,157.2 315.9,157.2 316.7,157.2 317.4,157.2 318.2,157.2 318.9,157.2 319.7,157.1 320.4,157.1 321.1,157.1 321.9,157.1 322.6,157.1 323.4,157.1 324.1,157 324.9,157 325.6,157 326.4,157 327.1,157 327.9,157 328.6,157 329.3,156.9 330.1,156.9 330.8,156.9 331.6,156.9 332.3,156.9 333.1,156.9 333.8,156.8 334.6,156.8 335.3,156.8 335.3,156.8 334.6,156.8 333.8,156.8 333.1,156.9 332.3,156.9 331.6,156.9 330.8,156.9 330.1,156.9 329.3,156.9 328.6,157 327.9,157 327.1,157 326.4,157 325.6,157 324.9,157 324.1,157 323.4,157.1 322.6,157.1 321.9,157.1 321.1,157.1 320.4,157.1 319.7,157.1 318.9,157.2 318.2,157.2 317.4,157.2 316.7,157.2 315.9,157.2 315.2,157.2 314.4,157.2 313.7,157.3 312.9,157.3 312.2,157.3 311.5,157.3 310.7,157.3 310,157.3 309.2,157.4 308.5,157.4 307.7,157.4 307,157.4 306.2,157.4 305.5,157.4 304.8,157.5 304,157.5 303.3,157.5 302.5,157.5 301.8,157.5 301,157.5 300.3,157.5 299.5,157.6 298.8,157.6 298.1,157.6 297.3,157.6 296.6,157.6 295.8,157.6 295.1,157.7 294.3,157.7 293.6,157.7 292.8,157.7 292.1,157.7 291.3,157.7 290.6,157.8 289.9,157.8 289.1,157.8 288.4,157.8 287.6,157.8 286.9,157.8 286.1,157.8 285.4,157.9 284.6,157.9 283.9,157.9 283.1,157.9 282.4,157.9 281.7,157.9 280.9,158 280.2,158 279.4,158 278.7,158 277.9,158 277.2,158 276.4,158 275.7,158.1 275,158.1 274.2,158.1 273.5,158.1 272.7,158.1 272,158.1 271.2,158.2 270.5,158.2 269.7,158.2 269,158.2 268.2,158.2 267.5,158.2 266.8,158.2 266,158.3 265.3,158.3 264.5,158.3 263.8,158.3 263,158.3 262.3,158.3 261.5,158.4 260.8,158.4 260.1,158.4 259.3,158.4 258.6,158.4 257.8,158.4 257.1,158.5 256.3,158.5 255.6,158.5 254.8,158.5 254.1,158.5 253.3,158.5 252.6,158.5 251.9,158.6 251.1,158.6 250.4,158.6 249.6,158.6 248.9,158.6 248.1,158.6 247.4,158.7 246.6,158.7 245.9,158.7" fill="#b9b9b9"/><polygon points="245.9,158.6 246.6,158.6 247.4,158.6 248.1,158.5 248.9,158.5 249.6,158.5 250.4,158.5 251.1,158.5 251.9,158.5 252.6,158.4 253.3,158.4 254.1,158.4 254.8,158.4 255.6,158.3 256.3,158.3 257.1,158.3 257.8,158.3 258.6,158.3 259.3,158.2 260.1,158.2 260.8,158.2 261.5,158.1 262.3,158.1 263,158.1 263.8,158 264.5,158 265.3,157.9 266,157.8 266.8,157.7 267.5,157.6 268.2,157.5 269,157.4 269.7,157.2 270.5,157.1 271.2,156.9 272,156.7 272.7,156.4 273.5,156.2 274.2,155.9 275,155.6 275.7,155.3 276.4,154.9 277.2,154.6 277.9,154.2 278.7,153.7 279.4,153.2 280.2,152.7 280.9,152 281.7,151.4 282.4,150.6 283.1,149.8 283.9,148.9 284.6,147.9 285.4,146.9 286.1,145.8 286.9,144.7 287.6,143.5 288.4,142.4 289.1,141.2 289.9,140.2 290.6,139.1 291.3,138.2 292.1,137.4 292.8,136.7 293.6,136.2 294.3,135.8 295.1,135.6 295.8,135.7 296.6,135.8 297.3,136.2 298.1,136.8 298.8,137.5 299.5,138.3 300.3,139.2 301,140.3 301.8,141.4 302.5,142.5 303.3,143.7 304,144.8 304.8,146 305.5,147.1 306.2,148.2 307,149.2 307.7,150.2 308.5,151 309.2,151.8 310,152.6 310.7,153.2 311.5,153.8 312.2,154.3 312.9,154.7 313.7,155.1 314.4,155.4 315.2,155.7 315.9,155.9 316.7,156.1 317.4,156.3 318.2,156.4 318.9,156.5 319.7,156.6 320.4,156.6 321.1,156.7 321.9,156.7 322.6,156.7 323.4,156.8 324.1,156.8 324.9,156.8 325.6,156.8 326.4,156.8 327.1,156.8 327.9,156.8 328.6,156.8 329.3,156.8 330.1,156.8 330.8,156.7 331.6,156.7 332.3,156.7 333.1,156.7 333.8,156.7 334.6,156.7 335.3,156.7 335.3,156.8 334.6,156.8 333.8,156.8 333.1,156.9 332.3,156.9 331.6,156.9 330.8,156.9 330.1,156.9 329.3,156.9 328.6,157 327.9,157 327.1,157 326.4,157 325.6,157 324.9,157 324.1,157 323.4,157.1 322.6,157.1 321.9,157.1 321.1,157.1 320.4,157.1 319.7,157.1 318.9,157.2 318.2,157.2 317.4,157.2 316.7,157.2 315.9,157.2 315.2,157.2 314.4,157.2 313.7,157.3 312.9,157.3 312.2,157.3 311.5,157.3 310.7,157.3 310,157.3 309.2,157.4 308.5,157.4 307.7,157.4 307,157.4 306.2,157.4 305.5,157.4 304.8,157.4 304,157.5 303.3,157.5 302.5,157.5 301.8,157.5 301,157.5 300.3,157.5 299.5,157.6 298.8,157.6 298.1,157.6 297.3,157.6 296.6,157.6 295.8,157.6 295.1,157.6 294.3,157.6 293.6,157.7 292.8,157.7 292.1,157.7 291.3,157.7 290.6,157.7 289.9,157.6 289.1,157.6 288.4,157.6 287.6,157.6 286.9,157.5 286.1,157.5 285.4,157.4 284.6,157.3 283.9,157.3 283.1,157.2 282.4,157.1 281.7,157 280.9,156.9 280.2,156.9 279.4,156.8 278.7,156.8 277.9,156.8 277.2,156.8 276.4,156.8 275.7,156.9 275,156.9 274.2,157 273.5,157.1 272.7,157.2 272,157.3 271.2,157.4 270.5,157.5 269.7,157.7 269,157.8 268.2,157.8 267.5,157.9 266.8,158 266,158.1 265.3,158.1 264.5,158.2 263.8,158.2 263,158.3 262.3,158.3 261.5,158.3 260.8,158.3 260.1,158.4 259.3,158.4 258.6,158.4 257.8,158.4 257.1,158.4 256.3,158.5 255.6,158.5 254.8,158.5 254.1,158.5 253.3,158.5 252.6,158.5 251.9,158.6 251.1,158.6 250.4,158.6 249.6,158.6 248.9,158.6 248.1,158.6 247.4,158.7 246.6,158.7 245.9,158.7" fill="#ff8080"/><path d="M245.9 157.8h0M246.6 158.8h0M247.4 158.1h0M248.1 159.1h0M248.9 160h0M249.6 158.8h0M250.4 157.5h0M251.1 159.6h0M251.9 157.8h0M252.6 158.9h0M253.3 158.7h0M254.1 158.4h0M254.8 158.2h0M255.6 159h0M256.3 158.2h0M257.1 158h0M257.8 157.7h0M258.6 158.7h0M259.3 157.2h0M260.1 157h0M260.8 156.6h0M261.5 159h0M262.3 158h0M263 159.3h0M263.8 157.8h0M264.5 157.6h0M265.3 158.6h0M266 158.8h0M266.8 157.6h0M267.5 157.2h0M268.2 158h0M269 157.5h0M269.7 158.9h0M270.5 157.5h0M271.2 156.8h0M272 156.6h0M272.7 155.4h0M273.5 156.9h0M274.2 157.4h0M275 155.3h0M275.7 155.7h0M276.4 154.8h0M277.2 154.1h0M277.9 153.8h0M278.7 152.8h0M279.4 152.3h0M280.2 153.7h0M280.9 152.1h0M281.7 150.1h0M282.4 150.9h0M283.1 149.1h0M283.9 148.9h0M284.6 148.2h0M285.4 145.8h0M286.1 145.1h0M286.9 144.8h0M287.6 142.9h0M288.4 143.2h0M289.1 141.7h0M289.9 139.6h0M290.6 139.1h0M291.3 138.9h0M292.1 137.1h0M292.8 136.5h0M293.6 135.4h0M294.3 135.2h0M295.1 135.8h0M295.8 136h0M296.6 135.9h0M297.3 136.4h0M298.1 135.8h0M298.8 136.4h0M299.5 137.4h0M300.3 139h0M301 140.4h0M301.8 140.8h0M302.5 142.7h0M303.3 143.5h0M304 145.9h0M304.8 146.3h0M305.5 146.2h0M306.2 148.9h0M307 150.2h0M307.7 150.3h0M308.5 150h0M309.2 150.9h0M310 152.8h0M310.7 153.5h0M311.5 153.9h0M312.2 154.9h0M312.9 154.7h0M313.7 155.3h0M314.4 156.4h0M315.2 156.1h0M315.9 156.1h0M316.7 156.7h0M317.4 157h0M318.2 155.8h0M318.9 155.3h0M319.7 156.8h0M320.4 156.9h0M321.1 156.4h0M321.9 156.9h0M322.6 157.3h0M323.4 155.9h0M324.1 157.5h0M324.9 157.3h0M325.6 157.2h0M326.4 157.4h0M327.1 156.9h0M327.9 156.4h0M328.6 155.8h0M329.3 156.3h0M330.1 156.7h0M330.8 157.6h0M331.6 156.8h0M332.3 157.3h0M333.1 156.8h0M333.8 156.1h0M334.6 156.6h0M335.3 156.8h0" stroke="#000000" stroke-width="1.7" stroke-linecap="round" fill="none"/><path d="M245.9 158.7 L246.6 158.7 L247.4 158.7 L248.1 158.6 L248.9 158.6 L249.6 158.6 L250.4 158.6 L251.1 158.6 L251.9 158.6 L252.6 158.5 L253.3 158.5 L254.1 158.5 L254.8 158.5 L255.6 158.5 L256.3 158.5 L257.1 158.4 L257.8 158.4 L258.6 158.4 L259.3 158.4 L260.1 158.4 L260.8 158.3 L261.5 158.3 L262.3 158.3 L263 158.3 L263.8 158.2 L264.5 158.2 L265.3 158.1 L266 158.1 L266.8 158 L267.5 157.9 L268.2 157.8 L269 157.8 L269.7 157.7 L270.5 157.5 L271.2 157.4 L272 157.3 L272.7 157.2 L273.5 157.1 L274.2 157 L275 156.9 L275.7 156.9 L276.4 156.8 L277.2 156.8 L277.9 156.8 L278.7 156.8 L279.4 156.8 L280.2 156.9 L280.9 156.9 L281.7 157 L282.4 157.1 L283.1 157.2 L283.9 157.3 L284.6 157.3 L285.4 157.4 L286.1 157.5 L286.9 157.5 L287.6 157.6 L288.4 157.6 L289.1 157.6 L289.9 157.6 L290.6 157.7 L291.3 157.7 L292.1 157.7 L292.8 157.7 L293.6 157.7 L294.3 157.6 L295.1 157.6 L295.8 157.6 L296.6 157.6 L297.3 157.6 L298.1 157.6 L298.8 157.6 L299.5 157.6 L300.3 157.5 L301 157.5 L301.8 157.5 L302.5 157.5 L303.3 157.5 L304 157.5 L304.8 157.4 L305.5 157.4 L306.2 157.4 L307 157.4 L307.7 157.4 L308.5 157.4 L309.2 157.4 L310 157.3 L310.7 157.3 L311.5 157.3 L312.2 157.3 L312.9 157.3 L313.7 157.3 L314.4 157.2 L315.2 157.2 L315.9 157.2 L316.7 157.2 L317.4 157.2 L318.2 157.2 L318.9 157.2 L319.7 157.1 L320.4 157.1 L321.1 157.1 L321.9 157.1 L322.6 157.1 L323.4 157.1 L324.1 157 L324.9 157 L325.6 157 L326.4 157 L327.1 157 L327.9 157 L328.6 157 L329.3 156.9 L330.1 156.9 L330.8 156.9 L331.6 156.9 L332.3 156.9 L333.1 156.9 L333.8 156.8 L334.6 156.8 L335.3 156.8" stroke="#8a8a8a" stroke-width="0.9" fill="none"/><path d="M245.9 158.6 L246.6 158.6 L247.4 158.6 L248.1 158.6 L248.9 158.5 L249.6 158.5 L250.4 158.5 L251.1 158.5 L251.9 158.5 L252.6 158.4 L253.3 158.4 L254.1 158.4 L254.8 158.4 L255.6 158.4 L256.3 158.3 L257.1 158.3 L257.8 158.3 L258.6 158.3 L259.3 158.3 L260.1 158.2 L260.8 158.2 L261.5 158.2 L262.3 158.2 L263 158.1 L263.8 158.1 L264.5 158.1 L265.3 158.1 L266 158 L266.8 158 L267.5 157.9 L268.2 157.9 L269 157.8 L269.7 157.8 L270.5 157.7 L271.2 157.6 L272 157.5 L272.7 157.3 L273.5 157.2 L274.2 157 L275 156.8 L275.7 156.5 L276.4 156.2 L277.2 155.8 L277.9 155.4 L278.7 154.9 L279.4 154.4 L280.2 153.7 L280.9 153 L281.7 152.3 L282.4 151.4 L283.1 150.5 L283.9 149.5 L284.6 148.4 L285.4 147.3 L286.1 146.2 L286.9 145 L287.6 143.8 L288.4 142.6 L289.1 141.4 L289.9 140.3 L290.6 139.2 L291.3 138.3 L292.1 137.5 L292.8 136.8 L293.6 136.2 L294.3 135.9 L295.1 135.7 L295.8 135.7 L296.6 135.9 L297.3 136.2 L298.1 136.8 L298.8 137.5 L299.5 138.3 L300.3 139.2 L301 140.3 L301.8 141.4 L302.5 142.5 L303.3 143.7 L304 144.8 L304.8 146 L305.5 147.1 L306.2 148.2 L307 149.2 L307.7 150.2 L308.5 151 L309.2 151.8 L310 152.6 L310.7 153.2 L311.5 153.8 L312.2 154.3 L312.9 154.8 L313.7 155.1 L314.4 155.5 L315.2 155.7 L315.9 155.9 L316.7 156.1 L317.4 156.3 L318.2 156.4 L318.9 156.5 L319.7 156.6 L320.4 156.6 L321.1 156.7 L321.9 156.7 L322.6 156.8 L323.4 156.8 L324.1 156.8 L324.9 156.8 L325.6 156.8 L326.4 156.8 L327.1 156.8 L327.9 156.8 L328.6 156.8 L329.3 156.8 L330.1 156.8 L330.8 156.8 L331.6 156.7 L332.3 156.7 L333.1 156.7 L333.8 156.7 L334.6 156.7 L335.3 156.7" stroke="#e80000" stroke-width="1.05" fill="none"/><polygon points="245.9,183.7 246.6,183.7 247.4,183.6 248.1,183.6 248.9,183.6 249.6,183.6 250.4,183.6 251.1,183.6 251.9,183.6 252.6,183.5 253.3,183.5 254.1,183.5 254.8,183.5 255.6,183.5 256.3,183.5 257.1,183.4 257.8,183.4 258.6,183.4 259.3,183.4 260.1,183.4 260.8,183.3 261.5,183.3 262.3,183.3 263,183.2 263.8,183.2 264.5,183.1 265.3,183.1 266,183 266.8,182.9 267.5,182.8 268.2,182.7 269,182.6 269.7,182.4 270.5,182.3 271.2,182.1 272,182 272.7,181.8 273.5,181.7 274.2,181.6 275,181.5 275.7,181.4 276.4,181.3 277.2,181.3 277.9,181.3 278.7,181.3 279.4,181.4 280.2,181.4 280.9,181.5 281.7,181.7 282.4,181.8 283.1,181.9 283.9,182 284.6,182.1 285.4,182.2 286.1,182.3 286.9,182.4 287.6,182.5 288.4,182.5 289.1,182.6 289.9,182.6 290.6,182.6 291.3,182.6 292.1,182.6 292.8,182.6 293.6,182.6 294.3,182.6 295.1,182.6 295.8,182.6 296.6,182.6 297.3,182.6 298.1,182.6 298.8,182.6 299.5,182.5 300.3,182.5 301,182.5 301.8,182.5 302.5,182.5 303.3,182.5 304,182.5 304.8,182.4 305.5,182.4 306.2,182.4 307,182.4 307.7,182.4 308.5,182.4 309.2,182.4 310,182.3 310.7,182.3 311.5,182.3 312.2,182.3 312.9,182.3 313.7,182.3 314.4,182.2 315.2,182.2 315.9,182.2 316.7,182.2 317.4,182.2 318.2,182.2 318.9,182.2 319.7,182.1 320.4,182.1 321.1,182.1 321.9,182.1 322.6,182.1 323.4,182.1 324.1,182 324.9,182 325.6,182 326.4,182 327.1,182 327.9,182 328.6,182 329.3,181.9 330.1,181.9 330.8,181.9 331.6,181.9 332.3,181.9 333.1,181.9 333.8,181.8 334.6,181.8 335.3,181.8 335.3,181.8 334.6,181.8 333.8,181.8 333.1,181.9 332.3,181.9 331.6,181.9 330.8,181.9 330.1,181.9 329.3,181.9 328.6,182 327.9,182 327.1,182 326.4,182 325.6,182 324.9,182 324.1,182 323.4,182.1 322.6,182.1 321.9,182.1 321.1,182.1 320.4,182.1 319.7,182.1 318.9,182.2 318.2,182.2 317.4,182.2 316.7,182.2 315.9,182.2 315.2,182.2 314.4,182.2 313.7,182.3 312.9,182.3 312.2,182.3 311.5,182.3 310.7,182.3 310,182.3 309.2,182.4 308.5,182.4 307.7,182.4 307,182.4 306.2,182.4 305.5,182.4 304.8,182.5 304,182.5 303.3,182.5 302.5,182.5 301.8,182.5 301,182.5 300.3,182.5 299.5,182.6 298.8,182.6 298.1,182.6 297.3,182.6 296.6,182.6 295.8,182.6 295.1,182.7 294.3,182.7 293.6,182.7 292.8,182.7 292.1,182.7 291.3,182.7 290.6,182.8 289.9,182.8 289.1,182.8 288.4,182.8 287.6,182.8 286.9,182.8 286.1,182.8 285.4,182.9 284.6,182.9 283.9,182.9 283.1,182.9 282.4,182.9 281.7,182.9 280.9,183 280.2,183 279.4,183 278.7,183 277.9,183 277.2,183 276.4,183 275.7,183.1 275,183.1 274.2,183.1 273.5,183.1 272.7,183.1 272,183.1 271.2,183.2 270.5,183.2 269.7,183.2 269,183.2 268.2,183.2 267.5,183.2 266.8,183.2 266,183.3 265.3,183.3 264.5,183.3 263.8,183.3 263,183.3 262.3,183.3 261.5,183.4 260.8,183.4 260.1,183.4 259.3,183.4 258.6,183.4 257.8,183.4 257.1,183.5 256.3,183.5 255.6,183.5 254.8,183.5 254.1,183.5 253.3,183.5 252.6,183.5 251.9,183.6 251.1,183.6 250.4,183.6 249.6,183.6 248.9,183.6 248.1,183.6 247.4,183.7 246.6,183.7 245.9,183.7" fill="#b9b9b9"/><polygon points="245.9,183.6 246.6,183.6 247.4,183.6 248.1,183.5 248.9,183.5 249.6,183.5 250.4,183.5 251.1,183.5 251.9,183.5 252.6,183.4 253.3,183.4 254.1,183.4 254.8,183.4 255.6,183.4 256.3,183.3 257.1,183.3 257.8,183.3 258.6,183.3 259.3,183.2 260.1,183.2 260.8,183.2 261.5,183.1 262.3,183.1 263,183 263.8,183 264.5,182.9 265.3,182.9 266,182.8 266.8,182.7 267.5,182.5 268.2,182.4 269,182.3 269.7,182.1 270.5,181.9 271.2,181.7 272,181.5 272.7,181.2 273.5,181 274.2,180.7 275,180.5 275.7,180.2 276.4,179.9 277.2,179.6 277.9,179.3 278.7,178.9 279.4,178.6 280.2,178.2 280.9,177.7 281.7,177.2 282.4,176.6 283.1,175.9 283.9,175.2 284.6,174.3 285.4,173.4 286.1,172.4 286.9,171.4 287.6,170.3 288.4,169.2 289.1,168 289.9,166.9 290.6,165.8 291.3,164.7 292.1,163.7 292.8,162.9 293.6,162.1 294.3,161.5 295.1,161 295.8,160.7 296.6,160.6 297.3,160.7 298.1,160.9 298.8,161.4 299.5,162 300.3,162.7 301,163.6 301.8,164.6 302.5,165.7 303.3,166.8 304,167.9 304.8,169.1 305.5,170.3 306.2,171.4 307,172.5 307.7,173.6 308.5,174.6 309.2,175.5 310,176.3 310.7,177.1 311.5,177.8 312.2,178.4 312.9,179 313.7,179.5 314.4,179.9 315.2,180.2 315.9,180.5 316.7,180.8 317.4,181 318.2,181.2 318.9,181.3 319.7,181.4 320.4,181.5 321.1,181.6 321.9,181.6 322.6,181.7 323.4,181.7 324.1,181.7 324.9,181.7 325.6,181.8 326.4,181.8 327.1,181.8 327.9,181.8 328.6,181.8 329.3,181.8 330.1,181.7 330.8,181.7 331.6,181.7 332.3,181.7 333.1,181.7 333.8,181.7 334.6,181.7 335.3,181.7 335.3,181.8 334.6,181.8 333.8,181.8 333.1,181.9 332.3,181.9 331.6,181.9 330.8,181.9 330.1,181.9 329.3,181.9 328.6,182 327.9,182 327.1,182 326.4,182 325.6,182 324.9,182 324.1,182 323.4,182.1 322.6,182.1 321.9,182.1 321.1,182.1 320.4,182.1 319.7,182.1 318.9,182.2 318.2,182.2 317.4,182.2 316.7,182.2 315.9,182.2 315.2,182.2 314.4,182.2 313.7,182.3 312.9,182.3 312.2,182.3 311.5,182.3 310.7,182.3 310,182.3 309.2,182.4 308.5,182.4 307.7,182.4 307,182.4 306.2,182.4 305.5,182.4 304.8,182.4 304,182.5 303.3,182.5 302.5,182.5 301.8,182.5 301,182.5 300.3,182.5 299.5,182.5 298.8,182.6 298.1,182.6 297.3,182.6 296.6,182.6 295.8,182.6 295.1,182.6 294.3,182.6 293.6,182.6 292.8,182.6 292.1,182.6 291.3,182.6 290.6,182.6 289.9,182.6 289.1,182.6 288.4,182.5 287.6,182.5 286.9,182.4 286.1,182.3 285.4,182.2 284.6,182.1 283.9,182 283.1,181.9 282.4,181.8 281.7,181.7 280.9,181.5 280.2,181.4 279.4,181.4 278.7,181.3 277.9,181.3 277.2,181.3 276.4,181.3 275.7,181.4 275,181.5 274.2,181.6 273.5,181.7 272.7,181.8 272,182 271.2,182.1 270.5,182.3 269.7,182.4 269,182.6 268.2,182.7 267.5,182.8 266.8,182.9 266,183 265.3,183.1 264.5,183.1 263.8,183.2 263,183.2 262.3,183.3 261.5,183.3 260.8,183.3 260.1,183.4 259.3,183.4 258.6,183.4 257.8,183.4 257.1,183.4 256.3,183.5 255.6,183.5 254.8,183.5 254.1,183.5 253.3,183.5 252.6,183.5 251.9,183.6 251.1,183.6 250.4,183.6 249.6,183.6 248.9,183.6 248.1,183.6 247.4,183.6 246.6,183.7 245.9,183.7" fill="#ff8080"/><path d="M245.9 184.1h0M246.6 183.6h0M247.4 183.5h0M248.1 184.2h0M248.9 183.9h0M249.6 182.9h0M250.4 184.6h0M251.1 183.8h0M251.9 184.2h0M252.6 182.4h0M253.3 183h0M254.1 183.1h0M254.8 183.1h0M255.6 183.2h0M256.3 183.1h0M257.1 184.3h0M257.8 183.1h0M258.6 182.9h0M259.3 184.2h0M260.1 182.7h0M260.8 182.7h0M261.5 184.1h0M262.3 183.4h0M263 183.2h0M263.8 183.3h0M264.5 182.7h0M265.3 183.7h0M266 182.9h0M266.8 182.5h0M267.5 182.1h0M268.2 182.4h0M269 182.4h0M269.7 181.6h0M270.5 183.2h0M271.2 181.1h0M272 181.7h0M272.7 182.1h0M273.5 181.3h0M274.2 181.9h0M275 181.8h0M275.7 180.4h0M276.4 180.4h0M277.2 179.1h0M277.9 179.9h0M278.7 179.8h0M279.4 179.2h0M280.2 177h0M280.9 177.7h0M281.7 177.6h0M282.4 177.2h0M283.1 176.6h0M283.9 175.3h0M284.6 174h0M285.4 172.7h0M286.1 171.7h0M286.9 171.2h0M287.6 170.7h0M288.4 169.7h0M289.1 169.5h0M289.9 167.6h0M290.6 165.5h0M291.3 165h0M292.1 163.5h0M292.8 163.7h0M293.6 161.5h0M294.3 161.3h0M295.1 161h0M295.8 160.4h0M296.6 162.1h0M297.3 161h0M298.1 161.5h0M298.8 160.2h0M299.5 162.1h0M300.3 163.1h0M301 163.1h0M301.8 165.3h0M302.5 164.7h0M303.3 167.2h0M304 168h0M304.8 169.7h0M305.5 169.7h0M306.2 172.8h0M307 172.1h0M307.7 174.1h0M308.5 174.5h0M309.2 176.2h0M310 176.2h0M310.7 177h0M311.5 177.4h0M312.2 178.2h0M312.9 178.6h0M313.7 178.8h0M314.4 180.1h0M315.2 181h0M315.9 181.4h0M316.7 180.3h0M317.4 181.2h0M318.2 180.5h0M318.9 181.3h0M319.7 182.1h0M320.4 180.9h0M321.1 180.3h0M321.9 181.8h0M322.6 182.3h0M323.4 182.3h0M324.1 181.2h0M324.9 182.1h0M325.6 182h0M326.4 181.3h0M327.1 181.8h0M327.9 181.7h0M328.6 182.1h0M329.3 182.2h0M330.1 181.6h0M330.8 181.6h0M331.6 181.3h0M332.3 182h0M333.1 181.5h0M333.8 181.4h0M334.6 181.6h0M335.3 181.3h0" stroke="#000000" stroke-width="1.7" stroke-linecap="round" fill="none"/><path d="M245.9 183.7 L246.6 183.7 L247.4 183.6 L248.1 183.6 L248.9 183.6 L249.6 183.6 L250.4 183.6 L251.1 183.6 L251.9 183.6 L252.6 183.5 L253.3 183.5 L254.1 183.5 L254.8 183.5 L255.6 183.5 L256.3 183.5 L257.1 183.4 L257.8 183.4 L258.6 183.4 L259.3 183.4 L260.1 183.4 L260.8 183.3 L261.5 183.3 L262.3 183.3 L263 183.2 L263.8 183.2 L264.5 183.1 L265.3 183.1 L266 183 L266.8 182.9 L267.5 182.8 L268.2 182.7 L269 182.6 L269.7 182.4 L270.5 182.3 L271.2 182.1 L272 182 L272.7 181.8 L273.5 181.7 L274.2 181.6 L275 181.5 L275.7 181.4 L276.4 181.3 L277.2 181.3 L277.9 181.3 L278.7 181.3 L279.4 181.4 L280.2 181.4 L280.9 181.5 L281.7 181.7 L282.4 181.8 L283.1 181.9 L283.9 182 L284.6 182.1 L285.4 182.2 L286.1 182.3 L286.9 182.4 L287.6 182.5 L288.4 182.5 L289.1 182.6 L289.9 182.6 L290.6 182.6 L291.3 182.6 L292.1 182.6 L292.8 182.6 L293.6 182.6 L294.3 182.6 L295.1 182.6 L295.8 182.6 L296.6 182.6 L297.3 182.6 L298.1 182.6 L298.8 182.6 L299.5 182.5 L300.3 182.5 L301 182.5 L301.8 182.5 L302.5 182.5 L303.3 182.5 L304 182.5 L304.8 182.4 L305.5 182.4 L306.2 182.4 L307 182.4 L307.7 182.4 L308.5 182.4 L309.2 182.4 L310 182.3 L310.7 182.3 L311.5 182.3 L312.2 182.3 L312.9 182.3 L313.7 182.3 L314.4 182.2 L315.2 182.2 L315.9 182.2 L316.7 182.2 L317.4 182.2 L318.2 182.2 L318.9 182.2 L319.7 182.1 L320.4 182.1 L321.1 182.1 L321.9 182.1 L322.6 182.1 L323.4 182.1 L324.1 182 L324.9 182 L325.6 182 L326.4 182 L327.1 182 L327.9 182 L328.6 182 L329.3 181.9 L330.1 181.9 L330.8 181.9 L331.6 181.9 L332.3 181.9 L333.1 181.9 L333.8 181.8 L334.6 181.8 L335.3 181.8" stroke="#8a8a8a" stroke-width="0.9" fill="none"/><path d="M245.9 183.6 L246.6 183.6 L247.4 183.6 L248.1 183.6 L248.9 183.5 L249.6 183.5 L250.4 183.5 L251.1 183.5 L251.9 183.5 L252.6 183.4 L253.3 183.4 L254.1 183.4 L254.8 183.4 L255.6 183.4 L256.3 183.3 L257.1 183.3 L257.8 183.3 L258.6 183.3 L259.3 183.3 L260.1 183.2 L260.8 183.2 L261.5 183.2 L262.3 183.2 L263 183.2 L263.8 183.1 L264.5 183.1 L265.3 183.1 L266 183 L266.8 183 L267.5 183 L268.2 182.9 L269 182.9 L269.7 182.8 L270.5 182.8 L271.2 182.7 L272 182.6 L272.7 182.5 L273.5 182.4 L274.2 182.3 L275 182.1 L275.7 181.9 L276.4 181.6 L277.2 181.4 L277.9 181 L278.7 180.6 L279.4 180.2 L280.2 179.7 L280.9 179.1 L281.7 178.4 L282.4 177.7 L283.1 176.9 L283.9 176 L284.6 175.1 L285.4 174 L286.1 173 L286.9 171.8 L287.6 170.7 L288.4 169.5 L289.1 168.3 L289.9 167.1 L290.6 165.9 L291.3 164.8 L292.1 163.8 L292.8 162.9 L293.6 162.1 L294.3 161.5 L295.1 161 L295.8 160.7 L296.6 160.6 L297.3 160.7 L298.1 161 L298.8 161.4 L299.5 162 L300.3 162.8 L301 163.6 L301.8 164.6 L302.5 165.7 L303.3 166.8 L304 167.9 L304.8 169.1 L305.5 170.3 L306.2 171.4 L307 172.5 L307.7 173.6 L308.5 174.6 L309.2 175.5 L310 176.3 L310.7 177.1 L311.5 177.8 L312.2 178.4 L312.9 179 L313.7 179.5 L314.4 179.9 L315.2 180.2 L315.9 180.5 L316.7 180.8 L317.4 181 L318.2 181.2 L318.9 181.3 L319.7 181.4 L320.4 181.5 L321.1 181.6 L321.9 181.6 L322.6 181.7 L323.4 181.7 L324.1 181.7 L324.9 181.7 L325.6 181.8 L326.4 181.8 L327.1 181.8 L327.9 181.8 L328.6 181.8 L329.3 181.8 L330.1 181.7 L330.8 181.7 L331.6 181.7 L332.3 181.7 L333.1 181.7 L333.8 181.7 L334.6 181.7 L335.3 181.7" stroke="#e80000" stroke-width="1.05" fill="none"/><polygon points="245.9,208.7 246.6,208.7 247.4,208.6 248.1,208.6 248.9,208.6 249.6,208.6 250.4,208.6 251.1,208.6 251.9,208.6 252.6,208.5 253.3,208.5 254.1,208.5 254.8,208.5 255.6,208.5 256.3,208.4 257.1,208.4 257.8,208.4 258.6,208.4 259.3,208.4 260.1,208.3 260.8,208.3 261.5,208.3 262.3,208.2 263,208.2 263.8,208.1 264.5,208.1 265.3,208 266,207.9 266.8,207.8 267.5,207.7 268.2,207.6 269,207.4 269.7,207.2 270.5,207 271.2,206.9 272,206.7 272.7,206.5 273.5,206.3 274.2,206.1 275,206 275.7,205.9 276.4,205.8 277.2,205.8 277.9,205.8 278.7,205.8 279.4,205.9 280.2,206 280.9,206.1 281.7,206.3 282.4,206.4 283.1,206.6 283.9,206.8 284.6,206.9 285.4,207.1 286.1,207.2 286.9,207.3 287.6,207.4 288.4,207.4 289.1,207.5 289.9,207.6 290.6,207.6 291.3,207.6 292.1,207.6 292.8,207.6 293.6,207.6 294.3,207.6 295.1,207.6 295.8,207.6 296.6,207.6 297.3,207.6 298.1,207.6 298.8,207.6 299.5,207.5 300.3,207.5 301,207.5 301.8,207.5 302.5,207.5 303.3,207.5 304,207.5 304.8,207.4 305.5,207.4 306.2,207.4 307,207.4 307.7,207.4 308.5,207.4 309.2,207.4 310,207.3 310.7,207.3 311.5,207.3 312.2,207.3 312.9,207.3 313.7,207.3 314.4,207.2 315.2,207.2 315.9,207.2 316.7,207.2 317.4,207.2 318.2,207.2 318.9,207.2 319.7,207.1 320.4,207.1 321.1,207.1 321.9,207.1 322.6,207.1 323.4,207.1 324.1,207 324.9,207 325.6,207 326.4,207 327.1,207 327.9,207 328.6,207 329.3,206.9 330.1,206.9 330.8,206.9 331.6,206.9 332.3,206.9 333.1,206.9 333.8,206.8 334.6,206.8 335.3,206.8 335.3,206.8 334.6,206.8 333.8,206.8 333.1,206.9 332.3,206.9 331.6,206.9 330.8,206.9 330.1,206.9 329.3,206.9 328.6,207 327.9,207 327.1,207 326.4,207 325.6,207 324.9,207 324.1,207 323.4,207.1 322.6,207.1 321.9,207.1 321.1,207.1 320.4,207.1 319.7,207.1 318.9,207.2 318.2,207.2 317.4,207.2 316.7,207.2 315.9,207.2 315.2,207.2 314.4,207.2 313.7,207.3 312.9,207.3 312.2,207.3 311.5,207.3 310.7,207.3 310,207.3 309.2,207.4 308.5,207.4 307.7,207.4 307,207.4 306.2,207.4 305.5,207.4 304.8,207.5 304,207.5 303.3,207.5 302.5,207.5 301.8,207.5 301,207.5 300.3,207.5 299.5,207.6 298.8,207.6 298.1,207.6 297.3,207.6 296.6,207.6 295.8,207.6 295.1,207.7 294.3,207.7 293.6,207.7 292.8,207.7 292.1,207.7 291.3,207.7 290.6,207.8 289.9,207.8 289.1,207.8 288.4,207.8 287.6,207.8 286.9,207.8 286.1,207.8 285.4,207.9 284.6,207.9 283.9,207.9 283.1,207.9 282.4,207.9 281.7,207.9 280.9,208 280.2,208 279.4,208 278.7,208 277.9,208 277.2,208 276.4,208 275.7,208.1 275,208.1 274.2,208.1 273.5,208.1 272.7,208.1 272,208.1 271.2,208.2 270.5,208.2 269.7,208.2 269,208.2 268.2,208.2 267.5,208.2 266.8,208.2 266,208.3 265.3,208.3 264.5,208.3 263.8,208.3 263,208.3 262.3,208.3 261.5,208.4 260.8,208.4 260.1,208.4 259.3,208.4 258.6,208.4 257.8,208.4 257.1,208.5 256.3,208.5 255.6,208.5 254.8,208.5 254.1,208.5 253.3,208.5 252.6,208.5 251.9,208.6 251.1,208.6 250.4,208.6 249.6,208.6 248.9,208.6 248.1,208.6 247.4,208.7 246.6,208.7 245.9,208.7" fill="#b9b9b9"/><polygon points="245.9,208.6 246.6,208.6 247.4,208.6 248.1,208.6 248.9,208.5 249.6,208.5 250.4,208.5 251.1,208.5 251.9,208.5 252.6,208.5 253.3,208.4 254.1,208.4 254.8,208.4 255.6,208.4 256.3,208.4 257.1,208.3 257.8,208.3 258.6,208.3 259.3,208.3 260.1,208.2 260.8,208.2 261.5,208.2 262.3,208.1 263,208.1 263.8,208 264.5,207.9 265.3,207.9 266,207.7 266.8,207.6 267.5,207.5 268.2,207.3 269,207.2 269.7,207 270.5,206.8 271.2,206.5 272,206.3 272.7,206 273.5,205.8 274.2,205.5 275,205.2 275.7,205 276.4,204.7 277.2,204.5 277.9,204.2 278.7,204 279.4,203.7 280.2,203.4 280.9,203 281.7,202.6 282.4,202.1 283.1,201.6 283.9,201 284.6,200.3 285.4,199.5 286.1,198.6 286.9,197.6 287.6,196.6 288.4,195.5 289.1,194.4 289.9,193.3 290.6,192.1 291.3,191 292.1,189.9 292.8,188.9 293.6,188 294.3,187.2 295.1,186.6 295.8,186.1 296.6,185.7 297.3,185.6 298.1,185.6 298.8,185.9 299.5,186.3 300.3,186.8 301,187.6 301.8,188.4 302.5,189.4 303.3,190.4 304,191.5 304.8,192.7 305.5,193.8 306.2,195 307,196.2 307.7,197.3 308.5,198.4 309.2,199.4 310,200.3 310.7,201.2 311.5,202 312.2,202.7 312.9,203.3 313.7,203.9 314.4,204.4 315.2,204.8 315.9,205.2 316.7,205.5 317.4,205.8 318.2,206 318.9,206.2 319.7,206.3 320.4,206.4 321.1,206.5 321.9,206.6 322.6,206.7 323.4,206.7 324.1,206.7 324.9,206.8 325.6,206.8 326.4,206.8 327.1,206.8 327.9,206.8 328.6,206.8 329.3,206.8 330.1,206.8 330.8,206.8 331.6,206.8 332.3,206.7 333.1,206.7 333.8,206.7 334.6,206.7 335.3,206.7 335.3,206.8 334.6,206.8 333.8,206.8 333.1,206.9 332.3,206.9 331.6,206.9 330.8,206.9 330.1,206.9 329.3,206.9 328.6,207 327.9,207 327.1,207 326.4,207 325.6,207 324.9,207 324.1,207 323.4,207.1 322.6,207.1 321.9,207.1 321.1,207.1 320.4,207.1 319.7,207.1 318.9,207.2 318.2,207.2 317.4,207.2 316.7,207.2 315.9,207.2 315.2,207.2 314.4,207.2 313.7,207.3 312.9,207.3 312.2,207.3 311.5,207.3 310.7,207.3 310,207.3 309.2,207.4 308.5,207.4 307.7,207.4 307,207.4 306.2,207.4 305.5,207.4 304.8,207.4 304,207.5 303.3,207.5 302.5,207.5 301.8,207.5 301,207.5 300.3,207.5 299.5,207.5 298.8,207.6 298.1,207.6 297.3,207.6 296.6,207.6 295.8,207.6 295.1,207.6 294.3,207.6 293.6,207.6 292.8,207.6 292.1,207.6 291.3,207.6 290.6,207.6 289.9,207.6 289.1,207.5 288.4,207.4 287.6,207.4 286.9,207.3 286.1,207.2 285.4,207.1 284.6,206.9 283.9,206.8 283.1,206.6 282.4,206.4 281.7,206.3 280.9,206.1 280.2,206 279.4,205.9 278.7,205.8 277.9,205.8 277.2,205.8 276.4,205.8 275.7,205.9 275,206 274.2,206.1 273.5,206.3 272.7,206.5 272,206.7 271.2,206.9 270.5,207 269.7,207.2 269,207.4 268.2,207.6 267.5,207.7 266.8,207.8 266,207.9 265.3,208 264.5,208.1 263.8,208.1 263,208.2 262.3,208.2 261.5,208.3 260.8,208.3 260.1,208.3 259.3,208.4 258.6,208.4 257.8,208.4 257.1,208.4 256.3,208.4 255.6,208.5 254.8,208.5 254.1,208.5 253.3,208.5 252.6,208.5 251.9,208.6 251.1,208.6 250.4,208.6 249.6,208.6 248.9,208.6 248.1,208.6 247.4,208.6 246.6,208.7 245.9,208.7" fill="#ff8080"/><path d="M245.9 208h0M246.6 208.5h0M247.4 208.5h0M248.1 209.2h0M248.9 208.3h0M249.6 208.6h0M250.4 208.7h0M251.1 209h0M251.9 208.1h0M252.6 206.8h0M253.3 208.2h0M254.1 208.4h0M254.8 208.1h0M255.6 208.8h0M256.3 208.3h0M257.1 208.8h0M257.8 208.7h0M258.6 208.1h0M259.3 208.1h0M260.1 208.3h0M260.8 208.7h0M261.5 208h0M262.3 208.8h0M263 207.6h0M263.8 208.2h0M264.5 207.9h0M265.3 207.3h0M266 207.4h0M266.8 208.5h0M267.5 207.7h0M268.2 207.1h0M269 207.9h0M269.7 208.5h0M270.5 206.8h0M271.2 206.6h0M272 206h0M272.7 206h0M273.5 205.7h0M274.2 205.3h0M275 204.4h0M275.7 204.7h0M276.4 204.4h0M277.2 204.7h0M277.9 203.5h0M278.7 204.1h0M279.4 203.2h0M280.2 204.7h0M280.9 202.9h0M281.7 202.7h0M282.4 202.4h0M283.1 200.8h0M283.9 200.7h0M284.6 200.4h0M285.4 199.8h0M286.1 197.4h0M286.9 197.1h0M287.6 196.2h0M288.4 196h0M289.1 193.5h0M289.9 192.9h0M290.6 192.3h0M291.3 191.1h0M292.1 191h0M292.8 188.5h0M293.6 188.7h0M294.3 186.7h0M295.1 186.8h0M295.8 186.5h0M296.6 185.5h0M297.3 185.5h0M298.1 186.4h0M298.8 185.9h0M299.5 185.9h0M300.3 187h0M301 188.4h0M301.8 188.6h0M302.5 190h0M303.3 190.8h0M304 191.5h0M304.8 192.7h0M305.5 194h0M306.2 196.1h0M307 195.9h0M307.7 197.4h0M308.5 198.6h0M309.2 199.3h0M310 199.1h0M310.7 202h0M311.5 203h0M312.2 202.2h0M312.9 203.9h0M313.7 203.1h0M314.4 205h0M315.2 205.2h0M315.9 204.7h0M316.7 204.9h0M317.4 205.5h0M318.2 205.7h0M318.9 206.3h0M319.7 206.6h0M320.4 206.6h0M321.1 205.7h0M321.9 206.1h0M322.6 206.6h0M323.4 206.5h0M324.1 206.2h0M324.9 206h0M325.6 206.9h0M326.4 206.8h0M327.1 206.6h0M327.9 205.1h0M328.6 206.6h0M329.3 206h0M330.1 207.8h0M330.8 206.2h0M331.6 207.7h0M332.3 207.4h0M333.1 207.1h0M333.8 206.8h0M334.6 206.6h0M335.3 206.5h0" stroke="#000000" stroke-width="1.7" stroke-linecap="round" fill="none"/><path d="M245.9 208.7 L246.6 208.7 L247.4 208.6 L248.1 208.6 L248.9 208.6 L249.6 208.6 L250.4 208.6 L251.1 208.6 L251.9 208.6 L252.6 208.5 L253.3 208.5 L254.1 208.5 L254.8 208.5 L255.6 208.5 L256.3 208.4 L257.1 208.4 L257.8 208.4 L258.6 208.4 L259.3 208.4 L260.1 208.3 L260.8 208.3 L261.5 208.3 L262.3 208.2 L263 208.2 L263.8 208.1 L264.5 208.1 L265.3 208 L266 207.9 L266.8 207.8 L267.5 207.7 L268.2 207.6 L269 207.4 L269.7 207.2 L270.5 207 L271.2 206.9 L272 206.7 L272.7 206.5 L273.5 206.3 L274.2 206.1 L275 206 L275.7 205.9 L276.4 205.8 L277.2 205.8 L277.9 205.8 L278.7 205.8 L279.4 205.9 L280.2 206 L280.9 206.1 L281.7 206.3 L282.4 206.4 L283.1 206.6 L283.9 206.8 L284.6 206.9 L285.4 207.1 L286.1 207.2 L286.9 207.3 L287.6 207.4 L288.4 207.4 L289.1 207.5 L289.9 207.6 L290.6 207.6 L291.3 207.6 L292.1 207.6 L292.8 207.6 L293.6 207.6 L294.3 207.6 L295.1 207.6 L295.8 207.6 L296.6 207.6 L297.3 207.6 L298.1 207.6 L298.8 207.6 L299.5 207.5 L300.3 207.5 L301 207.5 L301.8 207.5 L302.5 207.5 L303.3 207.5 L304 207.5 L304.8 207.4 L305.5 207.4 L306.2 207.4 L307 207.4 L307.7 207.4 L308.5 207.4 L309.2 207.4 L310 207.3 L310.7 207.3 L311.5 207.3 L312.2 207.3 L312.9 207.3 L313.7 207.3 L314.4 207.2 L315.2 207.2 L315.9 207.2 L316.7 207.2 L317.4 207.2 L318.2 207.2 L318.9 207.2 L319.7 207.1 L320.4 207.1 L321.1 207.1 L321.9 207.1 L322.6 207.1 L323.4 207.1 L324.1 207 L324.9 207 L325.6 207 L326.4 207 L327.1 207 L327.9 207 L328.6 207 L329.3 206.9 L330.1 206.9 L330.8 206.9 L331.6 206.9 L332.3 206.9 L333.1 206.9 L333.8 206.8 L334.6 206.8 L335.3 206.8" stroke="#8a8a8a" stroke-width="0.9" fill="none"/><path d="M245.9 208.6 L246.6 208.6 L247.4 208.6 L248.1 208.6 L248.9 208.6 L249.6 208.5 L250.4 208.5 L251.1 208.5 L251.9 208.5 L252.6 208.5 L253.3 208.5 L254.1 208.4 L254.8 208.4 L255.6 208.4 L256.3 208.4 L257.1 208.4 L257.8 208.3 L258.6 208.3 L259.3 208.3 L260.1 208.3 L260.8 208.3 L261.5 208.2 L262.3 208.2 L263 208.2 L263.8 208.2 L264.5 208.2 L265.3 208.1 L266 208.1 L266.8 208.1 L267.5 208 L268.2 208 L269 208 L269.7 207.9 L270.5 207.9 L271.2 207.8 L272 207.8 L272.7 207.7 L273.5 207.6 L274.2 207.5 L275 207.3 L275.7 207.2 L276.4 207 L277.2 206.7 L277.9 206.5 L278.7 206.1 L279.4 205.8 L280.2 205.3 L280.9 204.8 L281.7 204.3 L282.4 203.6 L283.1 202.9 L283.9 202.1 L284.6 201.2 L285.4 200.3 L286.1 199.3 L286.9 198.2 L287.6 197 L288.4 195.9 L289.1 194.7 L289.9 193.5 L290.6 192.3 L291.3 191.1 L292.1 190 L292.8 189 L293.6 188.1 L294.3 187.3 L295.1 186.6 L295.8 186.1 L296.6 185.8 L297.3 185.6 L298.1 185.7 L298.8 185.9 L299.5 186.3 L300.3 186.8 L301 187.6 L301.8 188.4 L302.5 189.4 L303.3 190.4 L304 191.5 L304.8 192.7 L305.5 193.9 L306.2 195 L307 196.2 L307.7 197.3 L308.5 198.4 L309.2 199.4 L310 200.3 L310.7 201.2 L311.5 202 L312.2 202.7 L312.9 203.4 L313.7 203.9 L314.4 204.4 L315.2 204.8 L315.9 205.2 L316.7 205.5 L317.4 205.8 L318.2 206 L318.9 206.2 L319.7 206.3 L320.4 206.4 L321.1 206.5 L321.9 206.6 L322.6 206.7 L323.4 206.7 L324.1 206.7 L324.9 206.8 L325.6 206.8 L326.4 206.8 L327.1 206.8 L327.9 206.8 L328.6 206.8 L329.3 206.8 L330.1 206.8 L330.8 206.8 L331.6 206.8 L332.3 206.7 L333.1 206.7 L333.8 206.7 L334.6 206.7 L335.3 206.7" stroke="#e80000" stroke-width="1.05" fill="none"/><polygon points="245.9,233.7 246.6,233.7 247.4,233.6 248.1,233.6 248.9,233.6 249.6,233.6 250.4,233.6 251.1,233.6 251.9,233.5 252.6,233.5 253.3,233.5 254.1,233.5 254.8,233.5 255.6,233.5 256.3,233.4 257.1,233.4 257.8,233.4 258.6,233.4 259.3,233.4 260.1,233.3 260.8,233.3 261.5,233.3 262.3,233.2 263,233.2 263.8,233.1 264.5,233 265.3,232.9 266,232.8 266.8,232.7 267.5,232.5 268.2,232.3 269,232.1 269.7,231.9 270.5,231.7 271.2,231.4 272,231.2 272.7,230.9 273.5,230.7 274.2,230.5 275,230.3 275.7,230.2 276.4,230.1 277.2,230 277.9,230 278.7,230.1 279.4,230.2 280.2,230.4 280.9,230.5 281.7,230.7 282.4,231 283.1,231.2 283.9,231.4 284.6,231.6 285.4,231.8 286.1,232 286.9,232.1 287.6,232.2 288.4,232.3 289.1,232.4 289.9,232.5 290.6,232.5 291.3,232.6 292.1,232.6 292.8,232.6 293.6,232.6 294.3,232.6 295.1,232.6 295.8,232.6 296.6,232.6 297.3,232.6 298.1,232.6 298.8,232.6 299.5,232.5 300.3,232.5 301,232.5 301.8,232.5 302.5,232.5 303.3,232.5 304,232.5 304.8,232.4 305.5,232.4 306.2,232.4 307,232.4 307.7,232.4 308.5,232.4 309.2,232.3 310,232.3 310.7,232.3 311.5,232.3 312.2,232.3 312.9,232.3 313.7,232.3 314.4,232.2 315.2,232.2 315.9,232.2 316.7,232.2 317.4,232.2 318.2,232.2 318.9,232.2 319.7,232.1 320.4,232.1 321.1,232.1 321.9,232.1 322.6,232.1 323.4,232.1 324.1,232 324.9,232 325.6,232 326.4,232 327.1,232 327.9,232 328.6,231.9 329.3,231.9 330.1,231.9 330.8,231.9 331.6,231.9 332.3,231.9 333.1,231.9 333.8,231.8 334.6,231.8 335.3,231.8 335.3,231.8 334.6,231.8 333.8,231.8 333.1,231.9 332.3,231.9 331.6,231.9 330.8,231.9 330.1,231.9 329.3,231.9 328.6,232 327.9,232 327.1,232 326.4,232 325.6,232 324.9,232 324.1,232 323.4,232.1 322.6,232.1 321.9,232.1 321.1,232.1 320.4,232.1 319.7,232.1 318.9,232.2 318.2,232.2 317.4,232.2 316.7,232.2 315.9,232.2 315.2,232.2 314.4,232.2 313.7,232.3 312.9,232.3 312.2,232.3 311.5,232.3 310.7,232.3 310,232.3 309.2,232.4 308.5,232.4 307.7,232.4 307,232.4 306.2,232.4 305.5,232.4 304.8,232.5 304,232.5 303.3,232.5 302.5,232.5 301.8,232.5 301,232.5 300.3,232.5 299.5,232.6 298.8,232.6 298.1,232.6 297.3,232.6 296.6,232.6 295.8,232.6 295.1,232.7 294.3,232.7 293.6,232.7 292.8,232.7 292.1,232.7 291.3,232.7 290.6,232.8 289.9,232.8 289.1,232.8 288.4,232.8 287.6,232.8 286.9,232.8 286.1,232.8 285.4,232.9 284.6,232.9 283.9,232.9 283.1,232.9 282.4,232.9 281.7,232.9 280.9,233 280.2,233 279.4,233 278.7,233 277.9,233 277.2,233 276.4,233 275.7,233.1 275,233.1 274.2,233.1 273.5,233.1 272.7,233.1 272,233.1 271.2,233.2 270.5,233.2 269.7,233.2 269,233.2 268.2,233.2 267.5,233.2 266.8,233.2 266,233.3 265.3,233.3 264.5,233.3 263.8,233.3 263,233.3 262.3,233.3 261.5,233.4 260.8,233.4 260.1,233.4 259.3,233.4 258.6,233.4 257.8,233.4 257.1,233.5 256.3,233.5 255.6,233.5 254.8,233.5 254.1,233.5 253.3,233.5 252.6,233.5 251.9,233.6 251.1,233.6 250.4,233.6 249.6,233.6 248.9,233.6 248.1,233.6 247.4,233.7 246.6,233.7 245.9,233.7" fill="#b9b9b9"/><polygon points="245.9,233.6 246.6,233.6 247.4,233.6 248.1,233.6 248.9,233.5 249.6,233.5 250.4,233.5 251.1,233.5 251.9,233.5 252.6,233.5 253.3,233.4 254.1,233.4 254.8,233.4 255.6,233.4 256.3,233.4 257.1,233.3 257.8,233.3 258.6,233.3 259.3,233.3 260.1,233.2 260.8,233.2 261.5,233.1 262.3,233.1 263,233 263.8,233 264.5,232.9 265.3,232.8 266,232.6 266.8,232.5 267.5,232.3 268.2,232.1 269,231.9 269.7,231.7 270.5,231.4 271.2,231.1 272,230.8 272.7,230.5 273.5,230.2 274.2,229.9 275,229.6 275.7,229.3 276.4,229 277.2,228.8 277.9,228.5 278.7,228.3 279.4,228 280.2,227.8 280.9,227.5 281.7,227.1 282.4,226.7 283.1,226.3 283.9,225.7 284.6,225.1 285.4,224.4 286.1,223.6 286.9,222.7 287.6,221.7 288.4,220.7 289.1,219.6 289.9,218.5 290.6,217.4 291.3,216.3 292.1,215.3 292.8,214.3 293.6,213.4 294.3,212.7 295.1,212 295.8,211.5 296.6,211.2 297.3,211.1 298.1,211.1 298.8,211.3 299.5,211.7 300.3,212.3 301,213 301.8,213.8 302.5,214.8 303.3,215.8 304,216.9 304.8,218 305.5,219.1 306.2,220.3 307,221.4 307.7,222.5 308.5,223.6 309.2,224.6 310,225.5 310.7,226.3 311.5,227.1 312.2,227.8 312.9,228.4 313.7,229 314.4,229.5 315.2,229.9 315.9,230.3 316.7,230.6 317.4,230.8 318.2,231 318.9,231.2 319.7,231.3 320.4,231.5 321.1,231.5 321.9,231.6 322.6,231.7 323.4,231.7 324.1,231.7 324.9,231.8 325.6,231.8 326.4,231.8 327.1,231.8 327.9,231.8 328.6,231.8 329.3,231.8 330.1,231.8 330.8,231.8 331.6,231.8 332.3,231.7 333.1,231.7 333.8,231.7 334.6,231.7 335.3,231.7 335.3,231.8 334.6,231.8 333.8,231.8 333.1,231.9 332.3,231.9 331.6,231.9 330.8,231.9 330.1,231.9 329.3,231.9 328.6,231.9 327.9,232 327.1,232 326.4,232 325.6,232 324.9,232 324.1,232 323.4,232.1 322.6,232.1 321.9,232.1 321.1,232.1 320.4,232.1 319.7,232.1 318.9,232.2 318.2,232.2 317.4,232.2 316.7,232.2 315.9,232.2 315.2,232.2 314.4,232.2 313.7,232.3 312.9,232.3 312.2,232.3 311.5,232.3 310.7,232.3 310,232.3 309.2,232.3 308.5,232.4 307.7,232.4 307,232.4 306.2,232.4 305.5,232.4 304.8,232.4 304,232.5 303.3,232.5 302.5,232.5 301.8,232.5 301,232.5 300.3,232.5 299.5,232.5 298.8,232.6 298.1,232.6 297.3,232.6 296.6,232.6 295.8,232.6 295.1,232.6 294.3,232.6 293.6,232.6 292.8,232.6 292.1,232.6 291.3,232.6 290.6,232.5 289.9,232.5 289.1,232.4 288.4,232.3 287.6,232.2 286.9,232.1 286.1,232 285.4,231.8 284.6,231.6 283.9,231.4 283.1,231.2 282.4,231 281.7,230.7 280.9,230.5 280.2,230.4 279.4,230.2 278.7,230.1 277.9,230 277.2,230 276.4,230.1 275.7,230.2 275,230.3 274.2,230.5 273.5,230.7 272.7,230.9 272,231.2 271.2,231.4 270.5,231.7 269.7,231.9 269,232.1 268.2,232.3 267.5,232.5 266.8,232.7 266,232.8 265.3,232.9 264.5,233 263.8,233.1 263,233.2 262.3,233.2 261.5,233.3 260.8,233.3 260.1,233.3 259.3,233.4 258.6,233.4 257.8,233.4 257.1,233.4 256.3,233.4 255.6,233.5 254.8,233.5 254.1,233.5 253.3,233.5 252.6,233.5 251.9,233.5 251.1,233.6 250.4,233.6 249.6,233.6 248.9,233.6 248.1,233.6 247.4,233.6 246.6,233.7 245.9,233.7" fill="#ff8080"/><path d="M245.9 233.5h0M246.6 233.9h0M247.4 231.9h0M248.1 233.3h0M248.9 233.1h0M249.6 232.2h0M250.4 232.9h0M251.1 233.1h0M251.9 233.3h0M252.6 232.2h0M253.3 234.1h0M254.1 234h0M254.8 233.3h0M255.6 234.7h0M256.3 233.9h0M257.1 232.6h0M257.8 233.6h0M258.6 233.2h0M259.3 232.8h0M260.1 234h0M260.8 233h0M261.5 233.5h0M262.3 233.8h0M263 233.2h0M263.8 233h0M264.5 233.1h0M265.3 233.2h0M266 232h0M266.8 231.7h0M267.5 232h0M268.2 232.2h0M269 232.6h0M269.7 232.2h0M270.5 232.1h0M271.2 231h0M272 230.2h0M272.7 229.9h0M273.5 230.2h0M274.2 230.1h0M275 229.5h0M275.7 229.2h0M276.4 228.6h0M277.2 227.8h0M277.9 229h0M278.7 226.9h0M279.4 229.4h0M280.2 228.9h0M280.9 228.5h0M281.7 227.8h0M282.4 226.9h0M283.1 224.9h0M283.9 226.2h0M284.6 224.4h0M285.4 224.6h0M286.1 223.5h0M286.9 223.3h0M287.6 220.2h0M288.4 220.7h0M289.1 220h0M289.9 217h0M290.6 217.3h0M291.3 216.1h0M292.1 215.4h0M292.8 214.8h0M293.6 214.3h0M294.3 212.8h0M295.1 211h0M295.8 211.3h0M296.6 211.3h0M297.3 210.4h0M298.1 211.7h0M298.8 210.5h0M299.5 211.8h0M300.3 212.8h0M301 212.6h0M301.8 213.5h0M302.5 215h0M303.3 215.7h0M304 216.2h0M304.8 217.1h0M305.5 219.7h0M306.2 222h0M307 220.1h0M307.7 222.7h0M308.5 223.8h0M309.2 224.3h0M310 225.7h0M310.7 225.7h0M311.5 227.9h0M312.2 227.9h0M312.9 229.2h0M313.7 228h0M314.4 229.6h0M315.2 229.2h0M315.9 229.4h0M316.7 231.3h0M317.4 231h0M318.2 230.6h0M318.9 231.2h0M319.7 231.4h0M320.4 230.9h0M321.1 231h0M321.9 232h0M322.6 231.8h0M323.4 231.3h0M324.1 231.6h0M324.9 231.7h0M325.6 232.5h0M326.4 230.6h0M327.1 231.9h0M327.9 231.6h0M328.6 231.8h0M329.3 231.7h0M330.1 231.7h0M330.8 232.3h0M331.6 231.5h0M332.3 231h0M333.1 231.5h0M333.8 231.3h0M334.6 231.4h0M335.3 231.7h0" stroke="#000000" stroke-width="1.7" stroke-linecap="round" fill="none"/><path d="M245.9 233.7 L246.6 233.7 L247.4 233.6 L248.1 233.6 L248.9 233.6 L249.6 233.6 L250.4 233.6 L251.1 233.6 L251.9 233.5 L252.6 233.5 L253.3 233.5 L254.1 233.5 L254.8 233.5 L255.6 233.5 L256.3 233.4 L257.1 233.4 L257.8 233.4 L258.6 233.4 L259.3 233.4 L260.1 233.3 L260.8 233.3 L261.5 233.3 L262.3 233.2 L263 233.2 L263.8 233.1 L264.5 233 L265.3 232.9 L266 232.8 L266.8 232.7 L267.5 232.5 L268.2 232.3 L269 232.1 L269.7 231.9 L270.5 231.7 L271.2 231.4 L272 231.2 L272.7 230.9 L273.5 230.7 L274.2 230.5 L275 230.3 L275.7 230.2 L276.4 230.1 L277.2 230 L277.9 230 L278.7 230.1 L279.4 230.2 L280.2 230.4 L280.9 230.5 L281.7 230.7 L282.4 231 L283.1 231.2 L283.9 231.4 L284.6 231.6 L285.4 231.8 L286.1 232 L286.9 232.1 L287.6 232.2 L288.4 232.3 L289.1 232.4 L289.9 232.5 L290.6 232.5 L291.3 232.6 L292.1 232.6 L292.8 232.6 L293.6 232.6 L294.3 232.6 L295.1 232.6 L295.8 232.6 L296.6 232.6 L297.3 232.6 L298.1 232.6 L298.8 232.6 L299.5 232.5 L300.3 232.5 L301 232.5 L301.8 232.5 L302.5 232.5 L303.3 232.5 L304 232.5 L304.8 232.4 L305.5 232.4 L306.2 232.4 L307 232.4 L307.7 232.4 L308.5 232.4 L309.2 232.3 L310 232.3 L310.7 232.3 L311.5 232.3 L312.2 232.3 L312.9 232.3 L313.7 232.3 L314.4 232.2 L315.2 232.2 L315.9 232.2 L316.7 232.2 L317.4 232.2 L318.2 232.2 L318.9 232.2 L319.7 232.1 L320.4 232.1 L321.1 232.1 L321.9 232.1 L322.6 232.1 L323.4 232.1 L324.1 232 L324.9 232 L325.6 232 L326.4 232 L327.1 232 L327.9 232 L328.6 231.9 L329.3 231.9 L330.1 231.9 L330.8 231.9 L331.6 231.9 L332.3 231.9 L333.1 231.9 L333.8 231.8 L334.6 231.8 L335.3 231.8" stroke="#8a8a8a" stroke-width="0.9" fill="none"/><path d="M245.9 233.6 L246.6 233.6 L247.4 233.6 L248.1 233.6 L248.9 233.6 L249.6 233.5 L250.4 233.5 L251.1 233.5 L251.9 233.5 L252.6 233.5 L253.3 233.5 L254.1 233.4 L254.8 233.4 L255.6 233.4 L256.3 233.4 L257.1 233.4 L257.8 233.3 L258.6 233.3 L259.3 233.3 L260.1 233.3 L260.8 233.3 L261.5 233.2 L262.3 233.2 L263 233.2 L263.8 233.2 L264.5 233.2 L265.3 233.1 L266 233.1 L266.8 233.1 L267.5 233 L268.2 233 L269 233 L269.7 232.9 L270.5 232.9 L271.2 232.8 L272 232.8 L272.7 232.7 L273.5 232.6 L274.2 232.5 L275 232.3 L275.7 232.2 L276.4 232 L277.2 231.8 L277.9 231.5 L278.7 231.2 L279.4 230.8 L280.2 230.4 L280.9 229.9 L281.7 229.3 L282.4 228.7 L283.1 228 L283.9 227.2 L284.6 226.4 L285.4 225.4 L286.1 224.4 L286.9 223.4 L287.6 222.3 L288.4 221.1 L289.1 220 L289.9 218.8 L290.6 217.6 L291.3 216.5 L292.1 215.4 L292.8 214.4 L293.6 213.5 L294.3 212.7 L295.1 212.1 L295.8 211.6 L296.6 211.3 L297.3 211.1 L298.1 211.2 L298.8 211.4 L299.5 211.8 L300.3 212.3 L301 213 L301.8 213.9 L302.5 214.8 L303.3 215.8 L304 216.9 L304.8 218 L305.5 219.2 L306.2 220.3 L307 221.4 L307.7 222.5 L308.5 223.6 L309.2 224.6 L310 225.5 L310.7 226.3 L311.5 227.1 L312.2 227.8 L312.9 228.4 L313.7 229 L314.4 229.5 L315.2 229.9 L315.9 230.3 L316.7 230.6 L317.4 230.8 L318.2 231 L318.9 231.2 L319.7 231.3 L320.4 231.5 L321.1 231.6 L321.9 231.6 L322.6 231.7 L323.4 231.7 L324.1 231.7 L324.9 231.8 L325.6 231.8 L326.4 231.8 L327.1 231.8 L327.9 231.8 L328.6 231.8 L329.3 231.8 L330.1 231.8 L330.8 231.8 L331.6 231.8 L332.3 231.7 L333.1 231.7 L333.8 231.7 L334.6 231.7 L335.3 231.7" stroke="#e80000" stroke-width="1.05" fill="none"/><polygon points="245.9,258.7 246.6,258.7 247.4,258.6 248.1,258.6 248.9,258.6 249.6,258.6 250.4,258.6 251.1,258.6 251.9,258.5 252.6,258.5 253.3,258.5 254.1,258.5 254.8,258.5 255.6,258.5 256.3,258.4 257.1,258.4 257.8,258.4 258.6,258.4 259.3,258.3 260.1,258.3 260.8,258.3 261.5,258.2 262.3,258.2 263,258.1 263.8,258 264.5,257.9 265.3,257.8 266,257.7 266.8,257.5 267.5,257.3 268.2,257.1 269,256.9 269.7,256.6 270.5,256.3 271.2,256 272,255.7 272.7,255.4 273.5,255.1 274.2,254.8 275,254.6 275.7,254.4 276.4,254.3 277.2,254.3 277.9,254.3 278.7,254.4 279.4,254.5 280.2,254.7 280.9,254.9 281.7,255.2 282.4,255.5 283.1,255.7 283.9,256 284.6,256.3 285.4,256.5 286.1,256.7 286.9,256.9 287.6,257.1 288.4,257.2 289.1,257.3 289.9,257.4 290.6,257.5 291.3,257.5 292.1,257.6 292.8,257.6 293.6,257.6 294.3,257.6 295.1,257.6 295.8,257.6 296.6,257.6 297.3,257.6 298.1,257.6 298.8,257.5 299.5,257.5 300.3,257.5 301,257.5 301.8,257.5 302.5,257.5 303.3,257.5 304,257.5 304.8,257.4 305.5,257.4 306.2,257.4 307,257.4 307.7,257.4 308.5,257.4 309.2,257.3 310,257.3 310.7,257.3 311.5,257.3 312.2,257.3 312.9,257.3 313.7,257.3 314.4,257.2 315.2,257.2 315.9,257.2 316.7,257.2 317.4,257.2 318.2,257.2 318.9,257.1 319.7,257.1 320.4,257.1 321.1,257.1 321.9,257.1 322.6,257.1 323.4,257.1 324.1,257 324.9,257 325.6,257 326.4,257 327.1,257 327.9,257 328.6,256.9 329.3,256.9 330.1,256.9 330.8,256.9 331.6,256.9 332.3,256.9 333.1,256.9 333.8,256.8 334.6,256.8 335.3,256.8 335.3,256.8 334.6,256.8 333.8,256.8 333.1,256.9 332.3,256.9 331.6,256.9 330.8,256.9 330.1,256.9 329.3,256.9 328.6,257 327.9,257 327.1,257 326.4,257 325.6,257 324.9,257 324.1,257 323.4,257.1 322.6,257.1 321.9,257.1 321.1,257.1 320.4,257.1 319.7,257.1 318.9,257.2 318.2,257.2 317.4,257.2 316.7,257.2 315.9,257.2 315.2,257.2 314.4,257.2 313.7,257.3 312.9,257.3 312.2,257.3 311.5,257.3 310.7,257.3 310,257.3 309.2,257.4 308.5,257.4 307.7,257.4 307,257.4 306.2,257.4 305.5,257.4 304.8,257.5 304,257.5 303.3,257.5 302.5,257.5 301.8,257.5 301,257.5 300.3,257.5 299.5,257.6 298.8,257.6 298.1,257.6 297.3,257.6 296.6,257.6 295.8,257.6 295.1,257.7 294.3,257.7 293.6,257.7 292.8,257.7 292.1,257.7 291.3,257.7 290.6,257.8 289.9,257.8 289.1,257.8 288.4,257.8 287.6,257.8 286.9,257.8 286.1,257.8 285.4,257.9 284.6,257.9 283.9,257.9 283.1,257.9 282.4,257.9 281.7,257.9 280.9,258 280.2,258 279.4,258 278.7,258 277.9,258 277.2,258 276.4,258 275.7,258.1 275,258.1 274.2,258.1 273.5,258.1 272.7,258.1 272,258.1 271.2,258.2 270.5,258.2 269.7,258.2 269,258.2 268.2,258.2 267.5,258.2 266.8,258.2 266,258.3 265.3,258.3 264.5,258.3 263.8,258.3 263,258.3 262.3,258.3 261.5,258.4 260.8,258.4 260.1,258.4 259.3,258.4 258.6,258.4 257.8,258.4 257.1,258.5 256.3,258.5 255.6,258.5 254.8,258.5 254.1,258.5 253.3,258.5 252.6,258.5 251.9,258.6 251.1,258.6 250.4,258.6 249.6,258.6 248.9,258.6 248.1,258.6 247.4,258.7 246.6,258.7 245.9,258.7" fill="#b9b9b9"/><polygon points="245.9,258.6 246.6,258.6 247.4,258.6 248.1,258.6 248.9,258.5 249.6,258.5 250.4,258.5 251.1,258.5 251.9,258.5 252.6,258.5 253.3,258.4 254.1,258.4 254.8,258.4 255.6,258.4 256.3,258.3 257.1,258.3 257.8,258.3 258.6,258.3 259.3,258.2 260.1,258.2 260.8,258.2 261.5,258.1 262.3,258.1 263,258 263.8,257.9 264.5,257.8 265.3,257.7 266,257.5 266.8,257.4 267.5,257.2 268.2,256.9 269,256.7 269.7,256.4 270.5,256.1 271.2,255.7 272,255.4 272.7,255 273.5,254.7 274.2,254.4 275,254.1 275.7,253.8 276.4,253.6 277.2,253.4 277.9,253.2 278.7,253.1 279.4,253 280.2,252.8 280.9,252.7 281.7,252.5 282.4,252.3 283.1,252.1 283.9,251.7 284.6,251.3 285.4,250.7 286.1,250.1 286.9,249.3 287.6,248.5 288.4,247.6 289.1,246.6 289.9,245.5 290.6,244.4 291.3,243.2 292.1,242.1 292.8,241 293.6,239.9 294.3,238.9 295.1,238 295.8,237.2 296.6,236.5 297.3,236 298.1,235.7 298.8,235.6 299.5,235.6 300.3,235.8 301,236.2 301.8,236.8 302.5,237.5 303.3,238.4 304,239.3 304.8,240.4 305.5,241.5 306.2,242.6 307,243.8 307.7,245 308.5,246.1 309.2,247.3 310,248.3 310.7,249.3 311.5,250.3 312.2,251.2 312.9,252 313.7,252.7 314.4,253.3 315.2,253.9 315.9,254.4 316.7,254.8 317.4,255.2 318.2,255.5 318.9,255.7 319.7,256 320.4,256.1 321.1,256.3 321.9,256.4 322.6,256.5 323.4,256.6 324.1,256.6 324.9,256.7 325.6,256.7 326.4,256.7 327.1,256.7 327.9,256.7 328.6,256.7 329.3,256.7 330.1,256.7 330.8,256.7 331.6,256.7 332.3,256.7 333.1,256.7 333.8,256.7 334.6,256.7 335.3,256.7 335.3,256.8 334.6,256.8 333.8,256.8 333.1,256.9 332.3,256.9 331.6,256.9 330.8,256.9 330.1,256.9 329.3,256.9 328.6,256.9 327.9,257 327.1,257 326.4,257 325.6,257 324.9,257 324.1,257 323.4,257.1 322.6,257.1 321.9,257.1 321.1,257.1 320.4,257.1 319.7,257.1 318.9,257.1 318.2,257.2 317.4,257.2 316.7,257.2 315.9,257.2 315.2,257.2 314.4,257.2 313.7,257.3 312.9,257.3 312.2,257.3 311.5,257.3 310.7,257.3 310,257.3 309.2,257.3 308.5,257.4 307.7,257.4 307,257.4 306.2,257.4 305.5,257.4 304.8,257.4 304,257.5 303.3,257.5 302.5,257.5 301.8,257.5 301,257.5 300.3,257.5 299.5,257.5 298.8,257.5 298.1,257.6 297.3,257.6 296.6,257.6 295.8,257.6 295.1,257.6 294.3,257.6 293.6,257.6 292.8,257.6 292.1,257.6 291.3,257.5 290.6,257.5 289.9,257.4 289.1,257.3 288.4,257.2 287.6,257.1 286.9,256.9 286.1,256.7 285.4,256.5 284.6,256.3 283.9,256 283.1,255.7 282.4,255.5 281.7,255.2 280.9,254.9 280.2,254.7 279.4,254.5 278.7,254.4 277.9,254.3 277.2,254.3 276.4,254.3 275.7,254.4 275,254.6 274.2,254.8 273.5,255.1 272.7,255.4 272,255.7 271.2,256 270.5,256.3 269.7,256.6 269,256.9 268.2,257.1 267.5,257.3 266.8,257.5 266,257.7 265.3,257.8 264.5,257.9 263.8,258 263,258.1 262.3,258.2 261.5,258.2 260.8,258.3 260.1,258.3 259.3,258.3 258.6,258.4 257.8,258.4 257.1,258.4 256.3,258.4 255.6,258.5 254.8,258.5 254.1,258.5 253.3,258.5 252.6,258.5 251.9,258.5 251.1,258.6 250.4,258.6 249.6,258.6 248.9,258.6 248.1,258.6 247.4,258.6 246.6,258.7 245.9,258.7" fill="#ff8080"/><path d="M245.9 257.4h0M246.6 259h0M247.4 258.3h0M248.1 257.9h0M248.9 258.4h0M249.6 259.2h0M250.4 259.2h0M251.1 257.5h0M251.9 259.1h0M252.6 258.4h0M253.3 258.1h0M254.1 258.4h0M254.8 259.5h0M255.6 259.6h0M256.3 258.4h0M257.1 258.8h0M257.8 258.5h0M258.6 258.2h0M259.3 258.1h0M260.1 259.1h0M260.8 259.3h0M261.5 257.5h0M262.3 258.5h0M263 258.8h0M263.8 259.2h0M264.5 257.5h0M265.3 258.5h0M266 258.2h0M266.8 257h0M267.5 257h0M268.2 256.6h0M269 257.5h0M269.7 258.2h0M270.5 256.7h0M271.2 255.9h0M272 255.8h0M272.7 254.5h0M273.5 254.5h0M274.2 255.1h0M275 253.7h0M275.7 253.9h0M276.4 253.9h0M277.2 252.7h0M277.9 254.3h0M278.7 252.4h0M279.4 252.3h0M280.2 254.2h0M280.9 252.8h0M281.7 252.7h0M282.4 253.1h0M283.1 252.4h0M283.9 252.2h0M284.6 251.2h0M285.4 251.1h0M286.1 251.5h0M286.9 248.6h0M287.6 247.9h0M288.4 248.1h0M289.1 246h0M289.9 244.2h0M290.6 245.4h0M291.3 243.5h0M292.1 242.4h0M292.8 240.6h0M293.6 240.1h0M294.3 239.8h0M295.1 237.1h0M295.8 237.4h0M296.6 236h0M297.3 234.5h0M298.1 236.2h0M298.8 235.8h0M299.5 235h0M300.3 235.9h0M301 235.9h0M301.8 236.8h0M302.5 235.7h0M303.3 238h0M304 239.1h0M304.8 240.3h0M305.5 241.2h0M306.2 243.7h0M307 244h0M307.7 244.5h0M308.5 246.9h0M309.2 247.2h0M310 248.4h0M310.7 249.7h0M311.5 248.7h0M312.2 250.7h0M312.9 251.7h0M313.7 253.2h0M314.4 253.3h0M315.2 254.1h0M315.9 254.4h0M316.7 254.7h0M317.4 253.5h0M318.2 254.6h0M318.9 254.6h0M319.7 255.1h0M320.4 254.3h0M321.1 256.7h0M321.9 257.2h0M322.6 256.4h0M323.4 256.4h0M324.1 256.6h0M324.9 257.1h0M325.6 256.3h0M326.4 255.6h0M327.1 256.6h0M327.9 256.9h0M328.6 256h0M329.3 256.9h0M330.1 257h0M330.8 256.5h0M331.6 258.2h0M332.3 255.5h0M333.1 256.8h0M333.8 256.4h0M334.6 256.5h0M335.3 256.4h0" stroke="#000000" stroke-width="1.7" stroke-linecap="round" fill="none"/><path d="M245.9 258.7 L246.6 258.7 L247.4 258.6 L248.1 258.6 L248.9 258.6 L249.6 258.6 L250.4 258.6 L251.1 258.6 L251.9 258.5 L252.6 258.5 L253.3 258.5 L254.1 258.5 L254.8 258.5 L255.6 258.5 L256.3 258.4 L257.1 258.4 L257.8 258.4 L258.6 258.4 L259.3 258.3 L260.1 258.3 L260.8 258.3 L261.5 258.2 L262.3 258.2 L263 258.1 L263.8 258 L264.5 257.9 L265.3 257.8 L266 257.7 L266.8 257.5 L267.5 257.3 L268.2 257.1 L269 256.9 L269.7 256.6 L270.5 256.3 L271.2 256 L272 255.7 L272.7 255.4 L273.5 255.1 L274.2 254.8 L275 254.6 L275.7 254.4 L276.4 254.3 L277.2 254.3 L277.9 254.3 L278.7 254.4 L279.4 254.5 L280.2 254.7 L280.9 254.9 L281.7 255.2 L282.4 255.5 L283.1 255.7 L283.9 256 L284.6 256.3 L285.4 256.5 L286.1 256.7 L286.9 256.9 L287.6 257.1 L288.4 257.2 L289.1 257.3 L289.9 257.4 L290.6 257.5 L291.3 257.5 L292.1 257.6 L292.8 257.6 L293.6 257.6 L294.3 257.6 L295.1 257.6 L295.8 257.6 L296.6 257.6 L297.3 257.6 L298.1 257.6 L298.8 257.5 L299.5 257.5 L300.3 257.5 L301 257.5 L301.8 257.5 L302.5 257.5 L303.3 257.5 L304 257.5 L304.8 257.4 L305.5 257.4 L306.2 257.4 L307 257.4 L307.7 257.4 L308.5 257.4 L309.2 257.3 L310 257.3 L310.7 257.3 L311.5 257.3 L312.2 257.3 L312.9 257.3 L313.7 257.3 L314.4 257.2 L315.2 257.2 L315.9 257.2 L316.7 257.2 L317.4 257.2 L318.2 257.2 L318.9 257.1 L319.7 257.1 L320.4 257.1 L321.1 257.1 L321.9 257.1 L322.6 257.1 L323.4 257.1 L324.1 257 L324.9 257 L325.6 257 L326.4 257 L327.1 257 L327.9 257 L328.6 256.9 L329.3 256.9 L330.1 256.9 L330.8 256.9 L331.6 256.9 L332.3 256.9 L333.1 256.9 L333.8 256.8 L334.6 256.8 L335.3 256.8" stroke="#8a8a8a" stroke-width="0.9" fill="none"/><path d="M245.9 258.6 L246.6 258.6 L247.4 258.6 L248.1 258.6 L248.9 258.6 L249.6 258.5 L250.4 258.5 L251.1 258.5 L251.9 258.5 L252.6 258.5 L253.3 258.5 L254.1 258.4 L254.8 258.4 L255.6 258.4 L256.3 258.4 L257.1 258.4 L257.8 258.3 L258.6 258.3 L259.3 258.3 L260.1 258.3 L260.8 258.3 L261.5 258.2 L262.3 258.2 L263 258.2 L263.8 258.2 L264.5 258.2 L265.3 258.1 L266 258.1 L266.8 258.1 L267.5 258.1 L268.2 258 L269 258 L269.7 258 L270.5 257.9 L271.2 257.9 L272 257.8 L272.7 257.8 L273.5 257.7 L274.2 257.6 L275 257.5 L275.7 257.4 L276.4 257.3 L277.2 257.1 L277.9 256.9 L278.7 256.7 L279.4 256.4 L280.2 256.1 L280.9 255.7 L281.7 255.3 L282.4 254.8 L283.1 254.2 L283.9 253.6 L284.6 252.9 L285.4 252.1 L286.1 251.2 L286.9 250.2 L287.6 249.2 L288.4 248.1 L289.1 247 L289.9 245.8 L290.6 244.6 L291.3 243.4 L292.1 242.2 L292.8 241.1 L293.6 240 L294.3 239 L295.1 238 L295.8 237.2 L296.6 236.6 L297.3 236.1 L298.1 235.7 L298.8 235.6 L299.5 235.6 L300.3 235.8 L301 236.2 L301.8 236.8 L302.5 237.5 L303.3 238.4 L304 239.3 L304.8 240.4 L305.5 241.5 L306.2 242.6 L307 243.8 L307.7 245 L308.5 246.1 L309.2 247.3 L310 248.3 L310.7 249.3 L311.5 250.3 L312.2 251.2 L312.9 252 L313.7 252.7 L314.4 253.3 L315.2 253.9 L315.9 254.4 L316.7 254.8 L317.4 255.2 L318.2 255.5 L318.9 255.8 L319.7 256 L320.4 256.2 L321.1 256.3 L321.9 256.4 L322.6 256.5 L323.4 256.6 L324.1 256.6 L324.9 256.7 L325.6 256.7 L326.4 256.7 L327.1 256.7 L327.9 256.7 L328.6 256.8 L329.3 256.8 L330.1 256.8 L330.8 256.7 L331.6 256.7 L332.3 256.7 L333.1 256.7 L333.8 256.7 L334.6 256.7 L335.3 256.7" stroke="#e80000" stroke-width="1.05" fill="none"/><path d="M245.9 258.5 V8.6 H335.3 V258.5" fill="none" stroke="#9547f0" stroke-width="1.2"/><path d="M66.6 59.8 L68.3 85.2 L70.7 109.9 L74.3 148.3 L75.5 180.6" stroke="#000" stroke-width="1.0" stroke-dasharray="2.8 2" fill="none"/><path d="M62.3 128.5 L62.7 140.8 L63.6 160.4 L63.9 184 L63.6 209.2 L63.6 235.2 L63.6 258.5" stroke="#000" stroke-width="1.0" stroke-dasharray="2.8 2" fill="none"/><path d="M179.6 57.8 L182.1 85.5 L182.7 108.5 L183.9 135.2 L184.6 160.5 L186.3 187 L188.1 212.9 L189.6 235.9 L189.6 258.5" stroke="#000" stroke-width="1.0" stroke-dasharray="2.8 2" fill="none"/><path d="M167.4 128.5 L167.5 131.8 L167.8 156.6 L168.1 181.1 L166.9 205.9 L167.8 228.4 L169.3 252.5 L169.3 258.5" stroke="#000" stroke-width="1.0" stroke-dasharray="2.8 2" fill="none"/><path d="M291.5 56.5 L293.9 84.2 L294.5 110.2 L295.4 135.6 L296.6 160.6 L297.5 185.6 L297.5 211.1 L298.9 235.5 L298.9 257.8" stroke="#000" stroke-width="1.0" stroke-dasharray="2.8 2" fill="none"/><path d="M274.5 129 L277 258" stroke="#000" stroke-width="1.0" stroke-dasharray="2.8 2" fill="none"/><text transform="translate(109.3 77.4) scale(1 1.1)" font-size="7.6" text-anchor="end" fill="#231f20" stroke="#231f20" stroke-width="0.08">100&#8201;K</text><text transform="translate(109.3 102.4) scale(1 1.1)" font-size="7.6" text-anchor="end" fill="#231f20" stroke="#231f20" stroke-width="0.08">80&#8201;K</text><text transform="translate(109.3 127.4) scale(1 1.1)" font-size="7.6" text-anchor="end" fill="#231f20" stroke="#231f20" stroke-width="0.08">60&#8201;K</text><text transform="translate(109.3 152.4) scale(1 1.1)" font-size="7.6" text-anchor="end" fill="#231f20" stroke="#231f20" stroke-width="0.08">50&#8201;K</text><text transform="translate(109.3 177.4) scale(1 1.1)" font-size="7.6" text-anchor="end" fill="#231f20" stroke="#231f20" stroke-width="0.08">40&#8201;K</text><text transform="translate(109.3 202.4) scale(1 1.1)" font-size="7.6" text-anchor="end" fill="#231f20" stroke="#231f20" stroke-width="0.08">30&#8201;K</text><text transform="translate(109.3 227.4) scale(1 1.1)" font-size="7.6" text-anchor="end" fill="#231f20" stroke="#231f20" stroke-width="0.08">20&#8201;K</text><text transform="translate(109.3 251.2) scale(1 1.1)" font-size="7.6" text-anchor="end" fill="#231f20" stroke="#231f20" stroke-width="0.08">7&#8201;K</text><text transform="translate(222.2 77.4) scale(1 1.1)" font-size="7.6" text-anchor="end" fill="#231f20" stroke="#231f20" stroke-width="0.08">100&#8201;K</text><text transform="translate(222.2 102.4) scale(1 1.1)" font-size="7.6" text-anchor="end" fill="#231f20" stroke="#231f20" stroke-width="0.08">70&#8201;K</text><text transform="translate(222.2 127.4) scale(1 1.1)" font-size="7.6" text-anchor="end" fill="#231f20" stroke="#231f20" stroke-width="0.08">60&#8201;K</text><text transform="translate(222.2 152.4) scale(1 1.1)" font-size="7.6" text-anchor="end" fill="#231f20" stroke="#231f20" stroke-width="0.08">50&#8201;K</text><text transform="translate(222.2 177.4) scale(1 1.1)" font-size="7.6" text-anchor="end" fill="#231f20" stroke="#231f20" stroke-width="0.08">40&#8201;K</text><text transform="translate(222.2 202.4) scale(1 1.1)" font-size="7.6" text-anchor="end" fill="#231f20" stroke="#231f20" stroke-width="0.08">30&#8201;K</text><text transform="translate(222.2 227.4) scale(1 1.1)" font-size="7.6" text-anchor="end" fill="#231f20" stroke="#231f20" stroke-width="0.08">20&#8201;K</text><text transform="translate(222.2 251.2) scale(1 1.1)" font-size="7.6" text-anchor="end" fill="#231f20" stroke="#231f20" stroke-width="0.08">5&#8201;K</text><text transform="translate(332.6 77.4) scale(1 1.1)" font-size="7.6" text-anchor="end" fill="#231f20" stroke="#231f20" stroke-width="0.08">100&#8201;K</text><text transform="translate(332.6 102.4) scale(1 1.1)" font-size="7.6" text-anchor="end" fill="#231f20" stroke="#231f20" stroke-width="0.08">70&#8201;K</text><text transform="translate(332.6 127.4) scale(1 1.1)" font-size="7.6" text-anchor="end" fill="#231f20" stroke="#231f20" stroke-width="0.08">60&#8201;K</text><text transform="translate(332.6 152.4) scale(1 1.1)" font-size="7.6" text-anchor="end" fill="#231f20" stroke="#231f20" stroke-width="0.08">50&#8201;K</text><text transform="translate(332.6 177.4) scale(1 1.1)" font-size="7.6" text-anchor="end" fill="#231f20" stroke="#231f20" stroke-width="0.08">40&#8201;K</text><text transform="translate(332.6 202.4) scale(1 1.1)" font-size="7.6" text-anchor="end" fill="#231f20" stroke="#231f20" stroke-width="0.08">30&#8201;K</text><text transform="translate(332.6 227.4) scale(1 1.1)" font-size="7.6" text-anchor="end" fill="#231f20" stroke="#231f20" stroke-width="0.08">20&#8201;K</text><text transform="translate(332.6 251.2) scale(1 1.1)" font-size="7.6" text-anchor="end" fill="#231f20" stroke="#231f20" stroke-width="0.08">5&#8201;K</text><text transform="translate(35.1 22.2) scale(1 1.1)" font-size="7.6" text-anchor="start" fill="#231f20" stroke="#231f20" stroke-width="0.08">FeTe (0 0 7)</text><text transform="translate(35.1 31.7) scale(1 1.1)" font-size="7.6" text-anchor="start" fill="#231f20" stroke="#231f20" stroke-width="0.08"><tspan font-style="italic">t</tspan> = 1000 nm</text><text transform="translate(143.7 22.2) scale(1 1.1)" font-size="7.6" text-anchor="start" fill="#231f20" stroke="#231f20" stroke-width="0.08">FeTe (0 0 7)</text><text transform="translate(143.7 31.7) scale(1 1.1)" font-size="7.6" text-anchor="start" fill="#231f20" stroke="#231f20" stroke-width="0.08"><tspan font-style="italic">t</tspan> = 1000 nm</text><text transform="translate(251.8 22.2) scale(1 1.1)" font-size="7.6" text-anchor="start" fill="#231f20" stroke="#231f20" stroke-width="0.08">FeTe (0 0 7)</text><text transform="translate(251.8 31.7) scale(1 1.1)" font-size="7.6" text-anchor="start" fill="#231f20" stroke="#231f20" stroke-width="0.08"><tspan font-style="italic">t</tspan> = 40 nm</text><rect x="82.5" y="16.1" width="32.7" height="23.4" fill="#dde7f2" stroke="#8c8c8c" stroke-width="0.8"/><rect x="82.5" y="39.5" width="32.7" height="8.5" fill="#fff" stroke="#8c8c8c" stroke-width="0.8"/><text transform="translate(98.8 30.4) scale(1 1.1)" font-size="7.4" text-anchor="middle" fill="#231f20" stroke="#231f20" stroke-width="0.08">FeTe</text><text transform="translate(98.8 46.9) scale(1 1.1)" font-size="7" text-anchor="middle" fill="#231f20" stroke="#231f20" stroke-width="0.08">SrTiO<tspan font-size="4.6" dy="1.2">3</tspan></text><rect x="193.4" y="16.1" width="30" height="23.4" fill="#dde7f2" stroke="#8c8c8c" stroke-width="0.8"/><rect x="193.4" y="39.5" width="30" height="8.9" fill="#ff00ff" stroke="#8c8c8c" stroke-width="0.8"/><text transform="translate(208.4 30.6) scale(1 1.1)" font-size="7.4" text-anchor="middle" fill="#231f20" stroke="#231f20" stroke-width="0.08">FeTe</text><text transform="translate(208.4 46.8) scale(1 1.1)" font-size="7.4" text-anchor="middle" fill="#ffd0ff" stroke="#ffd0ff" stroke-width="0.08">CdTe</text><text transform="translate(315.8 25.5) scale(1 1.1)" font-size="7.6" text-anchor="middle" fill="#231f20" stroke="#231f20" stroke-width="0.08">FeTe</text><line x1="315.8" y1="27.2" x2="315.8" y2="32.5" stroke="#111" stroke-width="0.9"/><polygon points="313.5,31.6 318.1,31.6 315.8,35.3" fill="#111"/><rect x="301.7" y="35.6" width="30.4" height="1.9" fill="#c9d3df" stroke="#8c8c8c" stroke-width="0.6"/><rect x="301.7" y="37.5" width="30.4" height="9" fill="#ff00ff" stroke="#8c8c8c" stroke-width="0.8"/><text transform="translate(316.9 45.1) scale(1 1.1)" font-size="7.6" text-anchor="middle" fill="#ffd0ff" stroke="#ffd0ff" stroke-width="0.08">CdTe</text><text transform="translate(60.5 49.2) scale(1 1.1)" font-size="7.6" text-anchor="middle" fill="#ff1a1a" stroke="#ff1a1a" stroke-width="0.08">Tetra.</text><polygon points="63.7,52.9 69.3,52.9 66.5,57.7" fill="#ff1a1a"/><text transform="translate(178.4 46) scale(1 1.1)" font-size="7.6" text-anchor="middle" fill="#ff1a1a" stroke="#ff1a1a" stroke-width="0.08">Tetra.</text><polygon points="175.8,49.7 181.4,49.7 178.6,54.5" fill="#ff1a1a"/><text transform="translate(290.3 44.8) scale(1 1.1)" font-size="7.6" text-anchor="middle" fill="#ff1a1a" stroke="#ff1a1a" stroke-width="0.08">Tetra.</text><polygon points="288.1,48.4 293.7,48.4 290.9,53.2" fill="#ff1a1a"/><text transform="translate(51.2 117.5) scale(1 1.1)" font-size="7.6" text-anchor="middle" fill="#231f20" stroke="#231f20" stroke-width="0.08">Mono.</text><polygon points="57.8,121.4 63.4,121.4 60.6,125.8" fill="#000"/><text transform="translate(160.4 120.6) scale(1 1.1)" font-size="7.6" text-anchor="middle" fill="#231f20" stroke="#231f20" stroke-width="0.08">Mono.</text><polygon points="164.3,123 170.5,123 167.4,128.2" fill="#000"/><text transform="translate(267.3 121.1) scale(1 1.1)" font-size="7.6" text-anchor="middle" fill="#231f20" stroke="#231f20" stroke-width="0.08">Mono.</text><polygon points="270.8,123.2 277,123.2 273.9,128.4" fill="#000"/><text transform="translate(155 248.6) scale(1 1.1)" font-size="8.4" text-anchor="middle" fill="#231f20" stroke="#231f20" stroke-width="0.08"><tspan font-style="italic">V</tspan><tspan font-size="5.4" dy="1.6">M</tspan></text><text transform="translate(200.8 244.6) scale(1 1.1)" font-size="8.4" text-anchor="middle" fill="#231f20" stroke="#231f20" stroke-width="0.08"><tspan font-style="italic">V</tspan><tspan font-size="5.4" dy="1.6">T</tspan></text><line x1="161.8" y1="249.3" x2="172.5" y2="255.4" stroke="#000" stroke-width="0.9"/><circle cx="172.5" cy="255.6" r="1.3" fill="#000"/><line x1="198.6" y1="245.8" x2="189.6" y2="253" stroke="#000" stroke-width="0.9"/><circle cx="189.6" cy="253.2" r="1.3" fill="#000"/><text transform="translate(26.8 261.9) scale(1 1.1)" font-size="9.6" text-anchor="end" fill="#231f20" stroke="#231f20" stroke-width="0.08">0</text><text transform="translate(26.8 211.9) scale(1 1.1)" font-size="9.6" text-anchor="end" fill="#231f20" stroke="#231f20" stroke-width="0.08">2</text><text transform="translate(26.8 161.9) scale(1 1.1)" font-size="9.6" text-anchor="end" fill="#231f20" stroke="#231f20" stroke-width="0.08">4</text><text transform="translate(26.8 111.9) scale(1 1.1)" font-size="9.6" text-anchor="end" fill="#231f20" stroke="#231f20" stroke-width="0.08">6</text><text transform="translate(26.8 61.9) scale(1 1.1)" font-size="9.6" text-anchor="end" fill="#231f20" stroke="#231f20" stroke-width="0.08">8</text><text transform="translate(26.8 11.9) scale(1 1.1)" font-size="9.6" text-anchor="end" fill="#231f20" stroke="#231f20" stroke-width="0.08">10</text><text transform="translate(44.5 270.5) scale(1 1.1)" font-size="9.6" text-anchor="middle" fill="#231f20" stroke="#231f20" stroke-width="0.08">70</text><text transform="translate(74.3 270.5) scale(1 1.1)" font-size="9.6" text-anchor="middle" fill="#231f20" stroke="#231f20" stroke-width="0.08">71</text><text transform="translate(104.1 270.5) scale(1 1.1)" font-size="9.6" text-anchor="middle" fill="#231f20" stroke="#231f20" stroke-width="0.08">72</text><text transform="translate(74.3 288.2) scale(1 1.1)" font-size="10" text-anchor="middle" fill="#231f20" stroke="#231f20" stroke-width="0.08">2<tspan font-style="italic">&#952;</tspan> (degrees)</text><text transform="translate(152.9 270.5) scale(1 1.1)" font-size="9.6" text-anchor="middle" fill="#231f20" stroke="#231f20" stroke-width="0.08">70</text><text transform="translate(182.7 270.5) scale(1 1.1)" font-size="9.6" text-anchor="middle" fill="#231f20" stroke="#231f20" stroke-width="0.08">71</text><text transform="translate(212.5 270.5) scale(1 1.1)" font-size="9.6" text-anchor="middle" fill="#231f20" stroke="#231f20" stroke-width="0.08">72</text><text transform="translate(182.7 288.2) scale(1 1.1)" font-size="10" text-anchor="middle" fill="#231f20" stroke="#231f20" stroke-width="0.08">2<tspan font-style="italic">&#952;</tspan> (degrees)</text><text transform="translate(260.8 270.5) scale(1 1.1)" font-size="9.6" text-anchor="middle" fill="#231f20" stroke="#231f20" stroke-width="0.08">70</text><text transform="translate(290.6 270.5) scale(1 1.1)" font-size="9.6" text-anchor="middle" fill="#231f20" stroke="#231f20" stroke-width="0.08">71</text><text transform="translate(320.4 270.5) scale(1 1.1)" font-size="9.6" text-anchor="middle" fill="#231f20" stroke="#231f20" stroke-width="0.08">72</text><text transform="translate(290.6 288.2) scale(1 1.1)" font-size="10" text-anchor="middle" fill="#231f20" stroke="#231f20" stroke-width="0.08">2<tspan font-style="italic">&#952;</tspan> (degrees)</text><text transform="translate(7.3 132) rotate(-90) scale(1 1.1)" font-size="10" text-anchor="middle" fill="#231f20" stroke="#231f20" stroke-width="0.08">Normalized intensity</text><text transform="translate(0.2 7.8) scale(1 1.1)" font-size="10.5" text-anchor="start" fill="#111" stroke="#111" stroke-width="0.08" font-weight="bold">a</text><text transform="translate(125.6 7.8) scale(1 1.1)" font-size="10.5" text-anchor="start" fill="#111" stroke="#111" stroke-width="0.08" font-weight="bold">b</text><text transform="translate(234.4 7.8) scale(1 1.1)" font-size="10.5" text-anchor="start" fill="#111" stroke="#111" stroke-width="0.08" font-weight="bold">c</text><text transform="translate(343.4 7.8) scale(1 1.1)" font-size="10.5" text-anchor="start" fill="#111" stroke="#111" stroke-width="0.08" font-weight="bold">d</text><text transform="translate(497 7.8) scale(1 1.1)" font-size="10.5" text-anchor="start" fill="#111" stroke="#111" stroke-width="0.08" font-weight="bold">e</text><text transform="translate(497.5 156) scale(1 1.1)" font-size="10.5" text-anchor="start" fill="#111" stroke="#111" stroke-width="0.08" font-weight="bold">f</text><defs><clipPath id="cd"><rect x="391.4" y="8.5" width="94.9" height="249.9"/></clipPath><linearGradient id="gf" x1="0" y1="0" x2="0" y2="1"><stop offset="0" stop-color="#707070"/><stop offset="0.44" stop-color="#727070"/><stop offset="0.63" stop-color="#fa4242"/><stop offset="1" stop-color="#ff4444"/></linearGradient></defs><g clip-path="url(#cd)"><polygon points="489,37 470.6,56 458.8,70 450.6,80 439.6,92.5 430,106.8 422,118 415.5,130 408.5,144 403.5,157 400.5,175 397.6,195 395.2,215 393.2,230 392.6,240 394.5,246.8 397.5,246.5 402,240 408.6,226 417,212 426.5,197.5 433,184 438.8,170 443.4,160 446,155 453.7,140 463.8,120 473.9,100 484,80 490,66" fill="#fe7f7f"/><path d="M391 89 L393.5 87 L411.5 73.6 Q414.8 72.6 414.8 77 L414.8 118 Q414 134 400 143 Q395 145.5 391 145.5 Z" fill="#bcbcbc"/><polyline points="487,54.6 472.3,80 455,110 438.2,140 430.4,155 422,168 414.9,178.8 408,192 401,208 396,222 392,233" fill="none" stroke="#1ec8c8" stroke-width="1.3"/><polyline points="487,50.5 473.3,80 459.4,110 445.5,140 439.5,160 430,180 421,198 411.7,214.1 403,229 394.6,240.4 391,246" fill="none" stroke="#7a12e6" stroke-width="1.3"/><line x1="410.4" y1="78" x2="410.4" y2="88" stroke="#8a3cf0" stroke-width="1.0"/><line x1="408.5" y1="78" x2="412.3" y2="78" stroke="#8a3cf0" stroke-width="1.0"/><line x1="408.5" y1="88" x2="412.3" y2="88" stroke="#8a3cf0" stroke-width="1.0"/><line x1="407.3" y1="100" x2="407.3" y2="112" stroke="#8a3cf0" stroke-width="1.0"/><line x1="405.4" y1="100" x2="409.2" y2="100" stroke="#8a3cf0" stroke-width="1.0"/><line x1="405.4" y1="112" x2="409.2" y2="112" stroke="#8a3cf0" stroke-width="1.0"/><line x1="404.3" y1="100.5" x2="404.3" y2="116" stroke="#8a3cf0" stroke-width="1.0"/><line x1="402.4" y1="100.5" x2="406.2" y2="100.5" stroke="#8a3cf0" stroke-width="1.0"/><line x1="402.4" y1="116" x2="406.2" y2="116" stroke="#8a3cf0" stroke-width="1.0"/><line x1="401.3" y1="102" x2="401.3" y2="118" stroke="#8a3cf0" stroke-width="1.0"/><line x1="399.4" y1="102" x2="403.2" y2="102" stroke="#8a3cf0" stroke-width="1.0"/><line x1="399.4" y1="118" x2="403.2" y2="118" stroke="#8a3cf0" stroke-width="1.0"/><line x1="398.4" y1="101" x2="398.4" y2="119" stroke="#8a3cf0" stroke-width="1.0"/><line x1="396.5" y1="101" x2="400.3" y2="101" stroke="#8a3cf0" stroke-width="1.0"/><line x1="396.5" y1="119" x2="400.3" y2="119" stroke="#8a3cf0" stroke-width="1.0"/><line x1="396.2" y1="103" x2="396.2" y2="121" stroke="#8a3cf0" stroke-width="1.0"/><line x1="394.3" y1="103" x2="398.1" y2="103" stroke="#8a3cf0" stroke-width="1.0"/><line x1="394.3" y1="121" x2="398.1" y2="121" stroke="#8a3cf0" stroke-width="1.0"/><line x1="393.2" y1="106" x2="393.2" y2="122" stroke="#8a3cf0" stroke-width="1.0"/><line x1="391.3" y1="106" x2="395.1" y2="106" stroke="#8a3cf0" stroke-width="1.0"/><line x1="391.3" y1="122" x2="395.1" y2="122" stroke="#8a3cf0" stroke-width="1.0"/><line x1="394.9" y1="120" x2="394.9" y2="144" stroke="#8a3cf0" stroke-width="1.0"/><line x1="393" y1="120" x2="396.8" y2="120" stroke="#8a3cf0" stroke-width="1.0"/><line x1="393" y1="144" x2="396.8" y2="144" stroke="#8a3cf0" stroke-width="1.0"/><line x1="411.4" y1="83.5" x2="411.4" y2="89" stroke="#30d0d0" stroke-width="0.8"/><line x1="409.2" y1="83.5" x2="413.6" y2="83.5" stroke="#30d0d0" stroke-width="0.8"/><line x1="409.2" y1="89" x2="413.6" y2="89" stroke="#30d0d0" stroke-width="0.8"/><line x1="407.2" y1="88.5" x2="407.2" y2="93.5" stroke="#30d0d0" stroke-width="0.8"/><line x1="405" y1="88.5" x2="409.4" y2="88.5" stroke="#30d0d0" stroke-width="0.8"/><line x1="405" y1="93.5" x2="409.4" y2="93.5" stroke="#30d0d0" stroke-width="0.8"/><line x1="404.2" y1="95" x2="404.2" y2="100" stroke="#30d0d0" stroke-width="0.8"/><line x1="402" y1="95" x2="406.4" y2="95" stroke="#30d0d0" stroke-width="0.8"/><line x1="402" y1="100" x2="406.4" y2="100" stroke="#30d0d0" stroke-width="0.8"/><line x1="401.1" y1="104" x2="401.1" y2="112" stroke="#30d0d0" stroke-width="0.8"/><line x1="398.9" y1="104" x2="403.3" y2="104" stroke="#30d0d0" stroke-width="0.8"/><line x1="398.9" y1="112" x2="403.3" y2="112" stroke="#30d0d0" stroke-width="0.8"/><line x1="397.6" y1="107" x2="397.6" y2="114" stroke="#30d0d0" stroke-width="0.8"/><line x1="395.4" y1="107" x2="399.8" y2="107" stroke="#30d0d0" stroke-width="0.8"/><line x1="395.4" y1="114" x2="399.8" y2="114" stroke="#30d0d0" stroke-width="0.8"/><line x1="412" y1="96" x2="412" y2="103.5" stroke="#f6a300" stroke-width="0.8"/><line x1="409.8" y1="96" x2="414.2" y2="96" stroke="#f6a300" stroke-width="0.8"/><line x1="409.8" y1="103.5" x2="414.2" y2="103.5" stroke="#f6a300" stroke-width="0.8"/><rect x="484.1" y="58.1" width="4.4" height="4.4" fill="#000" stroke="#000" stroke-width="0.9"/><rect x="452.1" y="90.5" width="4.4" height="4.4" fill="#000" stroke="#000" stroke-width="0.9"/><rect x="420.6" y="125.8" width="4.4" height="4.4" fill="#000" stroke="#000" stroke-width="0.9"/><rect x="411.2" y="135.4" width="4.4" height="4.4" fill="#000" stroke="#000" stroke-width="0.9"/><rect x="390.7" y="120.8" width="6" height="3.6" fill="#000"/><rect x="405" y="122.4" width="7.8" height="4.2" fill="#000"/><rect x="436.3" y="103.8" width="4.4" height="4.4" fill="#fff" stroke="#000" stroke-width="0.9"/><rect x="430.3" y="110.4" width="4.4" height="4.4" fill="#fff" stroke="#000" stroke-width="0.9"/><rect x="420.8" y="119.8" width="4.4" height="4.4" fill="#fff" stroke="#000" stroke-width="0.9"/><rect x="414.2" y="127" width="4.4" height="4.4" fill="#fff" stroke="#000" stroke-width="0.9"/><rect x="396.8" y="112" width="4.4" height="4.4" fill="#fff" stroke="#000" stroke-width="0.9"/><rect x="406.1" y="112.4" width="4.4" height="4.4" fill="#fff" stroke="#000" stroke-width="0.9"/><circle cx="486.3" cy="43.8" r="2.55" fill="#f6a300" stroke="#5a3c00" stroke-width="0.55"/><circle cx="470.6" cy="68" r="2.55" fill="#f6a300" stroke="#5a3c00" stroke-width="0.55"/><circle cx="459.8" cy="86.2" r="2.55" fill="#f6a300" stroke="#5a3c00" stroke-width="0.55"/><circle cx="442.4" cy="112.4" r="2.55" fill="#f6a300" stroke="#5a3c00" stroke-width="0.55"/><circle cx="430.8" cy="129.2" r="2.55" fill="#f6a300" stroke="#5a3c00" stroke-width="0.55"/><circle cx="423.1" cy="141.9" r="2.55" fill="#f6a300" stroke="#5a3c00" stroke-width="0.55"/><circle cx="419.6" cy="146.5" r="2.55" fill="#f6a300" stroke="#5a3c00" stroke-width="0.55"/><circle cx="416.5" cy="151" r="2.55" fill="#f6a300" stroke="#5a3c00" stroke-width="0.55"/><circle cx="413.8" cy="156.4" r="2.55" fill="#f6a300" stroke="#5a3c00" stroke-width="0.55"/><circle cx="412.2" cy="162.2" r="2.55" fill="#f6a300" stroke="#5a3c00" stroke-width="0.55"/><circle cx="410.3" cy="169.5" r="2.55" fill="#f6a300" stroke="#5a3c00" stroke-width="0.55"/><circle cx="404.5" cy="190.1" r="2.55" fill="#f6a300" stroke="#5a3c00" stroke-width="0.55"/><circle cx="407.2" cy="189.6" r="2.55" fill="#f6a300" stroke="#5a3c00" stroke-width="0.55"/><circle cx="412" cy="99.7" r="2.55" fill="#f6a300" stroke="#5a3c00" stroke-width="0.55"/><circle cx="410.7" cy="111.8" r="2.55" fill="#f6a300" stroke="#5a3c00" stroke-width="0.55"/><circle cx="407.2" cy="120.6" r="2.55" fill="#f6a300" stroke="#5a3c00" stroke-width="0.55"/><circle cx="404.2" cy="123.2" r="2.55" fill="#f6a300" stroke="#5a3c00" stroke-width="0.55"/><circle cx="401.1" cy="125.2" r="2.55" fill="#f6a300" stroke="#5a3c00" stroke-width="0.55"/><circle cx="397.6" cy="125.4" r="2.55" fill="#f6a300" stroke="#5a3c00" stroke-width="0.55"/><circle cx="486.3" cy="69.6" r="2.55" fill="#22c4c4" stroke="#134848" stroke-width="0.55"/><circle cx="454.3" cy="106.2" r="2.55" fill="#22c4c4" stroke="#134848" stroke-width="0.55"/><circle cx="430.6" cy="152" r="2.55" fill="#22c4c4" stroke="#134848" stroke-width="0.55"/><circle cx="423.1" cy="164.9" r="2.55" fill="#22c4c4" stroke="#134848" stroke-width="0.55"/><circle cx="415.3" cy="179.8" r="2.55" fill="#22c4c4" stroke="#134848" stroke-width="0.55"/><circle cx="413.8" cy="183.9" r="2.55" fill="#22c4c4" stroke="#134848" stroke-width="0.55"/><circle cx="412.2" cy="187.6" r="2.55" fill="#22c4c4" stroke="#134848" stroke-width="0.55"/><circle cx="410.3" cy="190.5" r="2.55" fill="#22c4c4" stroke="#134848" stroke-width="0.55"/><circle cx="407.2" cy="197.4" r="2.55" fill="#22c4c4" stroke="#134848" stroke-width="0.55"/><circle cx="404.1" cy="203.6" r="2.55" fill="#22c4c4" stroke="#134848" stroke-width="0.55"/><circle cx="400.8" cy="216.3" r="2.55" fill="#22c4c4" stroke="#134848" stroke-width="0.55"/><circle cx="397.3" cy="227.3" r="2.55" fill="#22c4c4" stroke="#134848" stroke-width="0.55"/><circle cx="394.2" cy="227.7" r="2.55" fill="#22c4c4" stroke="#134848" stroke-width="0.55"/><circle cx="392.5" cy="235.5" r="2.55" fill="#22c4c4" stroke="#134848" stroke-width="0.55"/><circle cx="411.4" cy="86.3" r="2.55" fill="#22c4c4" stroke="#134848" stroke-width="0.55"/><circle cx="407.2" cy="91.1" r="2.55" fill="#22c4c4" stroke="#134848" stroke-width="0.55"/><circle cx="404.2" cy="97.6" r="2.55" fill="#22c4c4" stroke="#134848" stroke-width="0.55"/><circle cx="401.1" cy="108.3" r="2.55" fill="#22c4c4" stroke="#134848" stroke-width="0.55"/><circle cx="397.6" cy="110.8" r="2.55" fill="#22c4c4" stroke="#134848" stroke-width="0.55"/><circle cx="394.2" cy="114.2" r="2.55" fill="#22c4c4" stroke="#134848" stroke-width="0.55"/><circle cx="392.8" cy="124.6" r="2.55" fill="#22c4c4" stroke="#134848" stroke-width="0.55"/><circle cx="486.3" cy="63.6" r="2.55" fill="#7a12e6" stroke="#3c0a70" stroke-width="0.55"/><circle cx="454.3" cy="133.3" r="2.55" fill="#7a12e6" stroke="#3c0a70" stroke-width="0.55"/><circle cx="430.4" cy="179.8" r="2.55" fill="#7a12e6" stroke="#3c0a70" stroke-width="0.55"/><circle cx="423.1" cy="192.8" r="2.55" fill="#7a12e6" stroke="#3c0a70" stroke-width="0.55"/><circle cx="414.9" cy="204.6" r="2.55" fill="#7a12e6" stroke="#3c0a70" stroke-width="0.55"/><circle cx="413.8" cy="208.7" r="2.55" fill="#7a12e6" stroke="#3c0a70" stroke-width="0.55"/><circle cx="411.3" cy="213.2" r="2.55" fill="#7a12e6" stroke="#3c0a70" stroke-width="0.55"/><circle cx="407.6" cy="219.4" r="2.55" fill="#7a12e6" stroke="#3c0a70" stroke-width="0.55"/><circle cx="404.1" cy="225.6" r="2.55" fill="#7a12e6" stroke="#3c0a70" stroke-width="0.55"/><circle cx="400.8" cy="231.4" r="2.55" fill="#7a12e6" stroke="#3c0a70" stroke-width="0.55"/><circle cx="397.9" cy="233.9" r="2.55" fill="#7a12e6" stroke="#3c0a70" stroke-width="0.55"/><circle cx="394.2" cy="241.1" r="2.55" fill="#7a12e6" stroke="#3c0a70" stroke-width="0.55"/><circle cx="392.5" cy="239" r="2.55" fill="#7a12e6" stroke="#3c0a70" stroke-width="0.55"/><circle cx="407.2" cy="99.6" r="2.55" fill="#7a12e6" stroke="#3c0a70" stroke-width="0.55"/><circle cx="404.2" cy="107.4" r="2.55" fill="#7a12e6" stroke="#3c0a70" stroke-width="0.55"/><circle cx="392.1" cy="112.9" r="2.55" fill="#7a12e6" stroke="#3c0a70" stroke-width="0.55"/><circle cx="394.9" cy="127.3" r="2.55" fill="#7a12e6" stroke="#3c0a70" stroke-width="0.55"/></g><rect x="391.4" y="8.5" width="94.9" height="249.9" fill="none" stroke="#3a3a3a" stroke-width="1"/><line x1="407.2" y1="258.4" x2="407.2" y2="255.1" stroke="#3a3a3a" stroke-width="1"/><line x1="407.2" y1="8.5" x2="407.2" y2="11.8" stroke="#3a3a3a" stroke-width="1"/><line x1="423" y1="258.4" x2="423" y2="252.2" stroke="#3a3a3a" stroke-width="1"/><line x1="423" y1="8.5" x2="423" y2="14.7" stroke="#3a3a3a" stroke-width="1"/><line x1="438.9" y1="258.4" x2="438.9" y2="255.1" stroke="#3a3a3a" stroke-width="1"/><line x1="438.9" y1="8.5" x2="438.9" y2="11.8" stroke="#3a3a3a" stroke-width="1"/><line x1="454.7" y1="258.4" x2="454.7" y2="252.2" stroke="#3a3a3a" stroke-width="1"/><line x1="454.7" y1="8.5" x2="454.7" y2="14.7" stroke="#3a3a3a" stroke-width="1"/><line x1="470.5" y1="258.4" x2="470.5" y2="255.1" stroke="#3a3a3a" stroke-width="1"/><line x1="470.5" y1="8.5" x2="470.5" y2="11.8" stroke="#3a3a3a" stroke-width="1"/><line x1="391.4" y1="208.4" x2="397.2" y2="208.4" stroke="#3a3a3a" stroke-width="1"/><line x1="486.3" y1="208.4" x2="480.5" y2="208.4" stroke="#3a3a3a" stroke-width="1"/><line x1="391.4" y1="158.4" x2="397.2" y2="158.4" stroke="#3a3a3a" stroke-width="1"/><line x1="486.3" y1="158.4" x2="480.5" y2="158.4" stroke="#3a3a3a" stroke-width="1"/><line x1="391.4" y1="108.4" x2="397.2" y2="108.4" stroke="#3a3a3a" stroke-width="1"/><line x1="486.3" y1="108.4" x2="480.5" y2="108.4" stroke="#3a3a3a" stroke-width="1"/><line x1="391.4" y1="58.4" x2="397.2" y2="58.4" stroke="#3a3a3a" stroke-width="1"/><line x1="486.3" y1="58.4" x2="480.5" y2="58.4" stroke="#3a3a3a" stroke-width="1"/><text transform="translate(387.6 261.9) scale(1 1.1)" font-size="9.6" text-anchor="end" fill="#231f20" stroke="#231f20" stroke-width="0.08">0.620</text><text transform="translate(387.6 211.9) scale(1 1.1)" font-size="9.6" text-anchor="end" fill="#231f20" stroke="#231f20" stroke-width="0.08">0.622</text><text transform="translate(387.6 161.9) scale(1 1.1)" font-size="9.6" text-anchor="end" fill="#231f20" stroke="#231f20" stroke-width="0.08">0.624</text><text transform="translate(387.6 111.9) scale(1 1.1)" font-size="9.6" text-anchor="end" fill="#231f20" stroke="#231f20" stroke-width="0.08">0.626</text><text transform="translate(387.6 61.9) scale(1 1.1)" font-size="9.6" text-anchor="end" fill="#231f20" stroke="#231f20" stroke-width="0.08">0.628</text><text transform="translate(387.6 11.9) scale(1 1.1)" font-size="9.6" text-anchor="end" fill="#231f20" stroke="#231f20" stroke-width="0.08">0.630</text><text transform="translate(391.4 270.6) scale(1 1.1)" font-size="9.6" text-anchor="middle" fill="#231f20" stroke="#231f20" stroke-width="0.08">0</text><text transform="translate(423 270.6) scale(1 1.1)" font-size="9.6" text-anchor="middle" fill="#231f20" stroke="#231f20" stroke-width="0.08">100</text><text transform="translate(454.7 270.6) scale(1 1.1)" font-size="9.6" text-anchor="middle" fill="#231f20" stroke="#231f20" stroke-width="0.08">200</text><text transform="translate(486.3 270.6) scale(1 1.1)" font-size="9.6" text-anchor="middle" fill="#231f20" stroke="#231f20" stroke-width="0.08">300</text><text transform="translate(439.7 288.5) scale(1 1.1)" font-size="10" text-anchor="middle" fill="#231f20" stroke="#231f20" stroke-width="0.08"><tspan font-style="italic">T</tspan> (K)</text><text transform="translate(353 133.4) rotate(-90) scale(1 1.1)" font-size="10" text-anchor="middle" fill="#231f20" stroke="#231f20" stroke-width="0.08"><tspan font-style="italic">c</tspan> (nm)</text><text transform="translate(402.4 25.6) scale(1 1.1)" font-size="8.5" text-anchor="start" fill="#231f20" stroke="#231f20" stroke-width="0.08">FeTe/STO</text><circle cx="402.7" cy="32.3" r="2.55" fill="#f6a300" stroke="#5a3c00" stroke-width="0.55"/><text transform="translate(414.6 35.1) scale(1 1.1)" font-size="8.5" text-anchor="start" fill="#231f20" stroke="#231f20" stroke-width="0.08">1000 nm</text><text transform="translate(402.4 44.6) scale(1 1.1)" font-size="8.5" text-anchor="start" fill="#231f20" stroke="#231f20" stroke-width="0.08">FeTe/CdTe</text><circle cx="402.7" cy="51.2" r="2.55" fill="#22c4c4" stroke="#134848" stroke-width="0.55"/><text transform="translate(414.6 54.1) scale(1 1.1)" font-size="8.5" text-anchor="start" fill="#231f20" stroke="#231f20" stroke-width="0.08">1000 nm</text><circle cx="402.9" cy="61.4" r="2.55" fill="#7a12e6" stroke="#3c0a70" stroke-width="0.55"/><text transform="translate(414.4 64.3) scale(1 1.1)" font-size="8.5" text-anchor="start" fill="#231f20" stroke="#231f20" stroke-width="0.08">40 nm</text><text transform="translate(419.6 82.9) scale(1 1.1)" font-size="7.6" text-anchor="start" fill="#231f20" stroke="#231f20" stroke-width="0.08">Mono.</text><path d="M413.6 92.6 Q422 92.5 428 86.6" fill="none" stroke="#222" stroke-width="0.9"/><text transform="translate(455.2 162.9) scale(1 1.1)" font-size="7.9" text-anchor="start" fill="#ff2020" stroke="#ff2020" stroke-width="0.08">Tetra.</text><path d="M446.4 150.4 Q447.5 157.5 453.5 161.5" fill="none" stroke="#ff2020" stroke-width="0.9"/><text transform="translate(442.4 199.8) scale(1 1.1)" font-size="8.4" text-anchor="start" fill="#231f20" stroke="#231f20" stroke-width="0.08">Bulk FeTe</text><rect x="447.1" y="206" width="4.6" height="4.6" fill="#fff" stroke="#000" stroke-width="0.9"/><text transform="translate(458.2 211.3) scale(1 1.1)" font-size="8.4" text-anchor="start" fill="#231f20" stroke="#231f20" stroke-width="0.08">[20]</text><rect x="447.1" y="215.5" width="4.6" height="4.6" fill="#000" stroke="#000" stroke-width="0.9"/><text transform="translate(458.2 220.8) scale(1 1.1)" font-size="8.4" text-anchor="start" fill="#231f20" stroke="#231f20" stroke-width="0.08">[30]</text><line x1="432.3" y1="233.9" x2="447.8" y2="233.9" stroke="#1ec8c8" stroke-width="1.5"/><text transform="translate(450.9 236.8) scale(1 1.1)" font-size="8.1" text-anchor="start" fill="#231f20" stroke="#231f20" stroke-width="0.08"><tspan font-style="italic">v</tspan> = 0.4</text><line x1="432.3" y1="243.8" x2="447.8" y2="243.8" stroke="#7a12e6" stroke-width="1.5"/><text transform="translate(450.9 246.7) scale(1 1.1)" font-size="8.1" text-anchor="start" fill="#231f20" stroke="#231f20" stroke-width="0.08"><tspan font-style="italic">v</tspan> = 0.5</text><rect x="541" y="8.5" width="98.4" height="97.7" fill="none" stroke="#3a3a3a" stroke-width="1"/><line x1="573.8" y1="106.2" x2="573.8" y2="101.7" stroke="#3a3a3a" stroke-width="1"/><line x1="573.8" y1="8.5" x2="573.8" y2="13" stroke="#3a3a3a" stroke-width="1"/><line x1="606.6" y1="106.2" x2="606.6" y2="101.7" stroke="#3a3a3a" stroke-width="1"/><line x1="606.6" y1="8.5" x2="606.6" y2="13" stroke="#3a3a3a" stroke-width="1"/><line x1="541" y1="41.1" x2="545.5" y2="41.1" stroke="#3a3a3a" stroke-width="1"/><line x1="639.4" y1="41.1" x2="634.9" y2="41.1" stroke="#3a3a3a" stroke-width="1"/><line x1="541" y1="73.6" x2="545.5" y2="73.6" stroke="#3a3a3a" stroke-width="1"/><line x1="639.4" y1="73.6" x2="634.9" y2="73.6" stroke="#3a3a3a" stroke-width="1"/><text transform="translate(538.2 11.9) scale(1 1.1)" font-size="9.6" text-anchor="end" fill="#231f20" stroke="#231f20" stroke-width="0.08">2.45</text><text transform="translate(538.2 44.5) scale(1 1.1)" font-size="9.6" text-anchor="end" fill="#231f20" stroke="#231f20" stroke-width="0.08">2.40</text><text transform="translate(538.2 77) scale(1 1.1)" font-size="9.6" text-anchor="end" fill="#231f20" stroke="#231f20" stroke-width="0.08">2.35</text><text transform="translate(538.2 109.6) scale(1 1.1)" font-size="9.6" text-anchor="end" fill="#231f20" stroke="#231f20" stroke-width="0.08">2.30</text><text transform="translate(642.6 11.9) scale(1 1.1)" font-size="9.6" text-anchor="start" fill="#231f20" stroke="#231f20" stroke-width="0.08">-0.28</text><text transform="translate(642.6 44.5) scale(1 1.1)" font-size="9.6" text-anchor="start" fill="#231f20" stroke="#231f20" stroke-width="0.08">-0.32</text><text transform="translate(642.6 77) scale(1 1.1)" font-size="9.6" text-anchor="start" fill="#231f20" stroke="#231f20" stroke-width="0.08">-0.36</text><text transform="translate(642.6 109.6) scale(1 1.1)" font-size="9.6" text-anchor="start" fill="#231f20" stroke="#231f20" stroke-width="0.08">-0.40</text><text transform="translate(541 118.9) scale(1 1.1)" font-size="9.6" text-anchor="middle" fill="#231f20" stroke="#231f20" stroke-width="0.08">0</text><text transform="translate(573.8 118.9) scale(1 1.1)" font-size="9.6" text-anchor="middle" fill="#231f20" stroke="#231f20" stroke-width="0.08">1</text><text transform="translate(606.6 118.9) scale(1 1.1)" font-size="9.6" text-anchor="middle" fill="#231f20" stroke="#231f20" stroke-width="0.08">2</text><text transform="translate(639.4 118.9) scale(1 1.1)" font-size="9.6" text-anchor="middle" fill="#231f20" stroke="#231f20" stroke-width="0.08">3</text><text transform="translate(591 135.6) scale(1 1.1)" font-size="10" text-anchor="middle" fill="#231f20" stroke="#231f20" stroke-width="0.08">&#8722;<tspan font-style="italic">&#916;c</tspan>/<tspan font-style="italic">c</tspan> (%)</text><text transform="translate(508.2 57.8) rotate(-90) scale(1 1.1)" font-size="10" text-anchor="middle" fill="#231f20" stroke="#231f20" stroke-width="0.08"><tspan font-style="italic">&#956;</tspan> (<tspan font-style="italic">&#956;</tspan><tspan font-size="6.5" dy="1.8">B</tspan><tspan dy="-1.8">/Fe)</tspan></text><text transform="translate(673.2 57.2) rotate(90) scale(1 1.1)" font-size="10" text-anchor="middle" fill="#231f20" stroke="#231f20" stroke-width="0.08"><tspan font-style="italic">E</tspan><tspan font-size="6.5" dy="1.8">AFM</tspan><tspan dy="-1.8"> &#8722; </tspan><tspan font-style="italic">E</tspan><tspan font-size="6.5" dy="1.8">PM</tspan><tspan dy="-1.8"> (eV/Fe)</tspan></text><polyline points="541,32 557.4,44.3 573.8,57.7 590.2,72.1 606.6,86.3 623,101.5" fill="none" stroke="#222" stroke-width="0.9"/><polyline points="541,74.5 557.4,62.6 573.8,49.9 590.2,37 606.6,24.3 623,12" fill="none" stroke="#222" stroke-width="0.9"/><circle cx="541" cy="32" r="2.1" fill="#000"/><circle cx="557.4" cy="44.3" r="2.1" fill="#000"/><circle cx="573.8" cy="57.7" r="2.1" fill="#000"/><circle cx="590.2" cy="72.1" r="2.1" fill="#000"/><circle cx="606.6" cy="86.3" r="2.1" fill="#000"/><circle cx="623" cy="101.5" r="2.1" fill="#000"/><circle cx="541" cy="74.5" r="1.95" fill="#fff" stroke="#222" stroke-width="0.7"/><circle cx="557.4" cy="62.6" r="1.95" fill="#fff" stroke="#222" stroke-width="0.7"/><circle cx="573.8" cy="49.9" r="1.95" fill="#fff" stroke="#222" stroke-width="0.7"/><circle cx="590.2" cy="37" r="1.95" fill="#fff" stroke="#222" stroke-width="0.7"/><circle cx="606.6" cy="24.3" r="1.95" fill="#fff" stroke="#222" stroke-width="0.7"/><circle cx="623" cy="12" r="1.95" fill="#fff" stroke="#222" stroke-width="0.7"/><line x1="553" y1="32" x2="566.3" y2="32" stroke="#111" stroke-width="1.3"/><polygon points="547.6,32 554.5,29.4 554.5,34.6" fill="#111"/><line x1="618.6" y1="21.8" x2="630" y2="21.8" stroke="#111" stroke-width="1.3"/><polygon points="635.8,21.8 628.9,19.2 628.9,24.4" fill="#111"/><line x1="558.2" y1="258.7" x2="558.2" y2="254.7" stroke="#3a3a3a" stroke-width="1"/><line x1="558.2" y1="152.2" x2="558.2" y2="156.2" stroke="#3a3a3a" stroke-width="1"/><line x1="582" y1="258.7" x2="582" y2="254.7" stroke="#3a3a3a" stroke-width="1"/><line x1="582" y1="152.2" x2="582" y2="156.2" stroke="#3a3a3a" stroke-width="1"/><line x1="605.8" y1="258.7" x2="605.8" y2="254.7" stroke="#3a3a3a" stroke-width="1"/><line x1="605.8" y1="152.2" x2="605.8" y2="156.2" stroke="#3a3a3a" stroke-width="1"/><line x1="629.5" y1="258.7" x2="629.5" y2="254.7" stroke="#3a3a3a" stroke-width="1"/><line x1="629.5" y1="152.2" x2="629.5" y2="156.2" stroke="#3a3a3a" stroke-width="1"/><line x1="653.2" y1="258.7" x2="653.2" y2="254.7" stroke="#3a3a3a" stroke-width="1"/><line x1="653.2" y1="152.2" x2="653.2" y2="156.2" stroke="#3a3a3a" stroke-width="1"/><line x1="534.5" y1="237.4" x2="538.5" y2="237.4" stroke="#3a3a3a" stroke-width="1"/><line x1="677" y1="237.4" x2="673" y2="237.4" stroke="#3a3a3a" stroke-width="1"/><line x1="534.5" y1="216.1" x2="538.5" y2="216.1" stroke="#3a3a3a" stroke-width="1"/><line x1="677" y1="216.1" x2="673" y2="216.1" stroke="#3a3a3a" stroke-width="1"/><line x1="534.5" y1="194.8" x2="538.5" y2="194.8" stroke="#3a3a3a" stroke-width="1"/><line x1="677" y1="194.8" x2="673" y2="194.8" stroke="#3a3a3a" stroke-width="1"/><line x1="534.5" y1="173.5" x2="538.5" y2="173.5" stroke="#3a3a3a" stroke-width="1"/><line x1="677" y1="173.5" x2="673" y2="173.5" stroke="#3a3a3a" stroke-width="1"/><text transform="translate(530.8 262.1) scale(1 1.1)" font-size="9.6" text-anchor="end" fill="#231f20" stroke="#231f20" stroke-width="0.08">0</text><text transform="translate(530.8 240.8) scale(1 1.1)" font-size="9.6" text-anchor="end" fill="#231f20" stroke="#231f20" stroke-width="0.08">20</text><text transform="translate(530.8 219.5) scale(1 1.1)" font-size="9.6" text-anchor="end" fill="#231f20" stroke="#231f20" stroke-width="0.08">40</text><text transform="translate(530.8 198.2) scale(1 1.1)" font-size="9.6" text-anchor="end" fill="#231f20" stroke="#231f20" stroke-width="0.08">60</text><text transform="translate(530.8 176.9) scale(1 1.1)" font-size="9.6" text-anchor="end" fill="#231f20" stroke="#231f20" stroke-width="0.08">80</text><text transform="translate(530.8 155.6) scale(1 1.1)" font-size="9.6" text-anchor="end" fill="#231f20" stroke="#231f20" stroke-width="0.08">100</text><text transform="translate(534.5 270.6) scale(1 1.1)" font-size="9.6" text-anchor="middle" fill="#231f20" stroke="#231f20" stroke-width="0.08">0</text><text transform="translate(582 270.6) scale(1 1.1)" font-size="9.6" text-anchor="middle" fill="#231f20" stroke="#231f20" stroke-width="0.08">40</text><text transform="translate(629.5 270.6) scale(1 1.1)" font-size="9.6" text-anchor="middle" fill="#231f20" stroke="#231f20" stroke-width="0.08">80</text><text transform="translate(677 270.6) scale(1 1.1)" font-size="9.6" text-anchor="middle" fill="#231f20" stroke="#231f20" stroke-width="0.08">120</text><text transform="translate(606.2 288.2) scale(1 1.1)" font-size="10" text-anchor="middle" fill="#231f20" stroke="#231f20" stroke-width="0.08"><tspan font-style="italic">T</tspan> (K)</text><text transform="translate(504.8 205.8) rotate(-90) scale(1 1.1)" font-size="10" text-anchor="middle" fill="#231f20" stroke="#231f20" stroke-width="0.08"><tspan font-style="italic">V</tspan><tspan font-size="6.5" dy="1.8">M</tspan><tspan dy="-1.8">/(</tspan><tspan font-style="italic">V</tspan><tspan font-size="6.5" dy="1.8">T</tspan><tspan dy="-1.8"> + </tspan><tspan font-style="italic">V</tspan><tspan font-size="6.5" dy="1.8">M</tspan><tspan dy="-1.8">) (%)</tspan></text><rect x="632.6" y="209" width="35" height="33.8" fill="url(#gf)"/><rect x="632.6" y="242.8" width="35" height="7.4" fill="#fff"/><rect x="632.6" y="209" width="35" height="41.2" fill="none" stroke="#8c8c8c" stroke-width="0.8"/><line x1="632.6" y1="242.8" x2="667.6" y2="242.8" stroke="#8c8c8c" stroke-width="0.6"/><text transform="translate(650.6 219.9) scale(1 1.1)" font-size="6.5" text-anchor="middle" fill="#eeeeee" stroke="#eeeeee" stroke-width="0.08">Mono.</text><text transform="translate(650.6 236.5) scale(1 1.1)" font-size="6.5" text-anchor="middle" fill="#4a0a0a" stroke="#4a0a0a" stroke-width="0.08">Tetra.</text><text transform="translate(650.1 248.9) scale(1 1.1)" font-size="6.6" text-anchor="middle" fill="#231f20" stroke="#231f20" stroke-width="0.08">Sub.</text><text transform="translate(621.4 220.6) scale(1 1.1)" font-size="8.2" text-anchor="middle" fill="#231f20" stroke="#231f20" stroke-width="0.08"><tspan font-style="italic">V</tspan><tspan font-size="5.3" dy="1.6">M</tspan></text><text transform="translate(621.4 237.3) scale(1 1.1)" font-size="8.2" text-anchor="middle" fill="#231f20" stroke="#231f20" stroke-width="0.08"><tspan font-style="italic">V</tspan><tspan font-size="5.3" dy="1.6">T</tspan></text><line x1="627" y1="217.6" x2="635.7" y2="217.6" stroke="#000" stroke-width="0.9"/><circle cx="635.8" cy="217.6" r="2.0" fill="#000"/><line x1="627" y1="234.6" x2="635.7" y2="234.6" stroke="#000" stroke-width="0.9"/><circle cx="635.8" cy="234.6" r="2.0" fill="#000"/><text transform="translate(646.2 166.2) scale(1 1.1)" font-size="7.5" text-anchor="middle" fill="#231f20" stroke="#231f20" stroke-width="0.08">FeTe/STO</text><circle cx="629.1" cy="171.8" r="2.2" fill="#f6a300" stroke="#5a3c00" stroke-width="0.55"/><text transform="translate(640 174.5) scale(1 1.1)" font-size="7.5" text-anchor="start" fill="#231f20" stroke="#231f20" stroke-width="0.08">1000 nm</text><text transform="translate(647.3 183.2) scale(1 1.1)" font-size="7.5" text-anchor="middle" fill="#231f20" stroke="#231f20" stroke-width="0.08">FeTe/CdTe</text><circle cx="629.1" cy="188.9" r="2.2" fill="#22c4c4" stroke="#134848" stroke-width="0.55"/><text transform="translate(640 191.6) scale(1 1.1)" font-size="7.5" text-anchor="start" fill="#231f20" stroke="#231f20" stroke-width="0.08">1000 nm</text><circle cx="629.1" cy="198" r="2.2" fill="#7a12e6" stroke="#3c0a70" stroke-width="0.55"/><text transform="translate(640 200.7) scale(1 1.1)" font-size="7.5" text-anchor="start" fill="#231f20" stroke="#231f20" stroke-width="0.08">40 nm</text><line x1="540" y1="236.3" x2="540" y2="257.5" stroke="#a25cf0" stroke-width="0.9"/><line x1="538.1" y1="236.3" x2="541.9" y2="236.3" stroke="#a25cf0" stroke-width="0.9"/><line x1="538.1" y1="257.5" x2="541.9" y2="257.5" stroke="#a25cf0" stroke-width="0.9"/><line x1="546.1" y1="226.3" x2="546.1" y2="258" stroke="#a25cf0" stroke-width="0.9"/><line x1="544.2" y1="226.3" x2="548" y2="226.3" stroke="#a25cf0" stroke-width="0.9"/><line x1="544.2" y1="258" x2="548" y2="258" stroke="#a25cf0" stroke-width="0.9"/><line x1="557.9" y1="237.4" x2="557.9" y2="255.3" stroke="#a25cf0" stroke-width="0.9"/><line x1="556" y1="237.4" x2="559.8" y2="237.4" stroke="#a25cf0" stroke-width="0.9"/><line x1="556" y1="255.3" x2="559.8" y2="255.3" stroke="#a25cf0" stroke-width="0.9"/><line x1="569.8" y1="239.7" x2="569.8" y2="256.4" stroke="#a25cf0" stroke-width="0.9"/><line x1="567.9" y1="239.7" x2="571.7" y2="239.7" stroke="#a25cf0" stroke-width="0.9"/><line x1="567.9" y1="256.4" x2="571.7" y2="256.4" stroke="#a25cf0" stroke-width="0.9"/><line x1="581.8" y1="243" x2="581.8" y2="258" stroke="#a25cf0" stroke-width="0.9"/><line x1="579.9" y1="243" x2="583.7" y2="243" stroke="#a25cf0" stroke-width="0.9"/><line x1="579.9" y1="258" x2="583.7" y2="258" stroke="#a25cf0" stroke-width="0.9"/><line x1="593.7" y1="246" x2="593.7" y2="258" stroke="#a25cf0" stroke-width="0.9"/><line x1="591.8" y1="246" x2="595.6" y2="246" stroke="#a25cf0" stroke-width="0.9"/><line x1="591.8" y1="258" x2="595.6" y2="258" stroke="#a25cf0" stroke-width="0.9"/><line x1="605.5" y1="250" x2="605.5" y2="258" stroke="#a25cf0" stroke-width="0.9"/><line x1="603.6" y1="250" x2="607.4" y2="250" stroke="#a25cf0" stroke-width="0.9"/><line x1="603.6" y1="258" x2="607.4" y2="258" stroke="#a25cf0" stroke-width="0.9"/><line x1="540" y1="216.2" x2="540" y2="226.3" stroke="#40d8d8" stroke-width="0.9"/><line x1="537.9" y1="216.2" x2="542.1" y2="216.2" stroke="#40d8d8" stroke-width="0.9"/><line x1="537.9" y1="226.3" x2="542.1" y2="226.3" stroke="#40d8d8" stroke-width="0.9"/><line x1="546.1" y1="198.4" x2="546.1" y2="234" stroke="#40d8d8" stroke-width="0.9"/><line x1="544" y1="198.4" x2="548.2" y2="198.4" stroke="#40d8d8" stroke-width="0.9"/><line x1="544" y1="234" x2="548.2" y2="234" stroke="#40d8d8" stroke-width="0.9"/><line x1="557.9" y1="203.9" x2="557.9" y2="218.5" stroke="#40d8d8" stroke-width="0.9"/><line x1="555.8" y1="203.9" x2="560" y2="203.9" stroke="#40d8d8" stroke-width="0.9"/><line x1="555.8" y1="218.5" x2="560" y2="218.5" stroke="#40d8d8" stroke-width="0.9"/><line x1="569.8" y1="222.9" x2="569.8" y2="231.9" stroke="#40d8d8" stroke-width="0.9"/><line x1="567.7" y1="222.9" x2="571.9" y2="222.9" stroke="#40d8d8" stroke-width="0.9"/><line x1="567.7" y1="231.9" x2="571.9" y2="231.9" stroke="#40d8d8" stroke-width="0.9"/><line x1="581.8" y1="237.4" x2="581.8" y2="248" stroke="#40d8d8" stroke-width="0.9"/><line x1="579.7" y1="237.4" x2="583.9" y2="237.4" stroke="#40d8d8" stroke-width="0.9"/><line x1="579.7" y1="248" x2="583.9" y2="248" stroke="#40d8d8" stroke-width="0.9"/><line x1="593.7" y1="243" x2="593.7" y2="250" stroke="#40d8d8" stroke-width="0.9"/><line x1="591.6" y1="243" x2="595.8" y2="243" stroke="#40d8d8" stroke-width="0.9"/><line x1="591.6" y1="250" x2="595.8" y2="250" stroke="#40d8d8" stroke-width="0.9"/><line x1="605.9" y1="246" x2="605.9" y2="253" stroke="#40d8d8" stroke-width="0.9"/><line x1="603.8" y1="246" x2="608" y2="246" stroke="#40d8d8" stroke-width="0.9"/><line x1="603.8" y1="253" x2="608" y2="253" stroke="#40d8d8" stroke-width="0.9"/><line x1="582.1" y1="163.8" x2="582.1" y2="172.8" stroke="#f6a300" stroke-width="0.9"/><line x1="580" y1="163.8" x2="584.2" y2="163.8" stroke="#f6a300" stroke-width="0.9"/><line x1="580" y1="172.8" x2="584.2" y2="172.8" stroke="#f6a300" stroke-width="0.9"/><line x1="594" y1="185.2" x2="594" y2="190.2" stroke="#f6a300" stroke-width="0.9"/><line x1="591.9" y1="185.2" x2="596.1" y2="185.2" stroke="#f6a300" stroke-width="0.9"/><line x1="591.9" y1="190.2" x2="596.1" y2="190.2" stroke="#f6a300" stroke-width="0.9"/><line x1="606" y1="233.5" x2="606" y2="244" stroke="#f6a300" stroke-width="0.9"/><line x1="603.9" y1="233.5" x2="608.1" y2="233.5" stroke="#f6a300" stroke-width="0.9"/><line x1="603.9" y1="244" x2="608.1" y2="244" stroke="#f6a300" stroke-width="0.9"/><line x1="611.5" y1="247.5" x2="611.5" y2="256" stroke="#f6a300" stroke-width="0.9"/><line x1="609.4" y1="247.5" x2="613.6" y2="247.5" stroke="#f6a300" stroke-width="0.9"/><line x1="609.4" y1="256" x2="613.6" y2="256" stroke="#f6a300" stroke-width="0.9"/><path d="M534.5 152.2C538.8 152.2 554.2 152.2 560 152.2C565.8 152.2 567 152 569.5 152.4C572 152.8 573.5 153.5 575.1 154.8C576.7 156.1 577.7 158 578.9 160.1C580.1 162.2 580.9 164.8 582.2 167.5C583.5 170.2 585.1 173.4 586.5 176C587.9 178.6 589.2 180.8 590.5 183C591.8 185.2 592.8 186.3 594 189C595.2 191.7 596.3 194.8 597.5 199C598.7 203.2 599.6 207.8 601 214C602.4 220.2 604.4 230.6 605.6 236.5C606.9 242.4 607.6 245.8 608.5 249.5C609.4 253.2 610.5 257.2 610.9 258.7" fill="none" stroke="#f6a300" stroke-width="1.6"/><path d="M534.5 215.4C536 215.3 540.8 214.9 543.4 214.9C546 214.9 547.6 215 550 215.5C552.4 216 555.8 216.9 557.9 217.8C560 218.7 561 219.6 562.5 220.8C564 222 565.5 223.5 566.9 225C568.3 226.5 569.5 228.2 570.8 229.8C572.1 231.4 572.9 232.6 574.7 234.4C576.5 236.2 579.4 239.1 581.4 240.6C583.4 242.1 584.6 242.7 586.5 243.6C588.4 244.5 590.7 245.2 592.5 245.9C594.3 246.6 595.6 247 597.5 247.6C599.4 248.2 601.8 248.9 603.7 249.7C605.6 250.5 607.3 251.4 608.8 252.4C610.3 253.4 611.4 254.4 612.5 255.4C613.6 256.4 615.1 257.9 615.6 258.4" fill="none" stroke="#1ec8c8" stroke-width="1.6"/><path d="M534.5 243C536 243.1 540.8 243.4 543.4 243.6C546 243.8 547.6 244 550 244.3C552.4 244.6 554.5 244.9 557.9 245.4C561.3 245.9 566.3 246.9 570.2 247.6C574.1 248.3 577.7 249.1 581.4 249.7C585.1 250.3 588.8 250.7 592.5 251.3C596.2 251.9 601.1 252.6 603.7 253.2C606.3 253.8 606.7 254 608 254.8C609.3 255.6 610.9 257.6 611.5 258.2" fill="none" stroke="#7a12e6" stroke-width="1.6"/><circle cx="540.3" cy="152.2" r="2.1" fill="#f6a300" stroke="#5a3c00" stroke-width="0.55"/><circle cx="548.1" cy="152.2" r="2.1" fill="#f6a300" stroke="#5a3c00" stroke-width="0.55"/><circle cx="558.9" cy="152.2" r="2.1" fill="#f6a300" stroke="#5a3c00" stroke-width="0.55"/><circle cx="569.8" cy="152.2" r="2.1" fill="#f6a300" stroke="#5a3c00" stroke-width="0.55"/><circle cx="582.1" cy="168.3" r="2.1" fill="#f6a300" stroke="#5a3c00" stroke-width="0.55"/><circle cx="606" cy="238.8" r="2.1" fill="#f6a300" stroke="#5a3c00" stroke-width="0.55"/><circle cx="629.4" cy="258.5" r="2.1" fill="#f6a300" stroke="#5a3c00" stroke-width="0.55"/><circle cx="641.5" cy="258.5" r="2.1" fill="#f6a300" stroke="#5a3c00" stroke-width="0.55"/><rect x="591.9" y="185.6" width="4.2" height="4.2" fill="#f6a300" stroke="#5a3c00" stroke-width="0.6"/><circle cx="540" cy="221.1" r="2.1" fill="#22c4c4" stroke="#134848" stroke-width="0.55"/><circle cx="546.1" cy="214.4" r="2.1" fill="#22c4c4" stroke="#134848" stroke-width="0.55"/><circle cx="557.9" cy="212.2" r="2.1" fill="#22c4c4" stroke="#134848" stroke-width="0.55"/><circle cx="569.8" cy="228.1" r="2.1" fill="#22c4c4" stroke="#134848" stroke-width="0.55"/><circle cx="581.8" cy="243" r="2.1" fill="#22c4c4" stroke="#134848" stroke-width="0.55"/><circle cx="593.7" cy="246.8" r="2.1" fill="#22c4c4" stroke="#134848" stroke-width="0.55"/><circle cx="605.9" cy="249.7" r="2.1" fill="#22c4c4" stroke="#134848" stroke-width="0.55"/><circle cx="611.5" cy="253.5" r="2.1" fill="#22c4c4" stroke="#134848" stroke-width="0.55"/><circle cx="617.4" cy="258.5" r="2.1" fill="#22c4c4" stroke="#134848" stroke-width="0.55"/><circle cx="623.5" cy="258.5" r="2.1" fill="#22c4c4" stroke="#134848" stroke-width="0.55"/><circle cx="653.5" cy="258.5" r="2.1" fill="#22c4c4" stroke="#134848" stroke-width="0.55"/><circle cx="540" cy="243.7" r="2.1" fill="#7a12e6" stroke="#3c0a70" stroke-width="0.55"/><circle cx="546.1" cy="240.8" r="2.1" fill="#7a12e6" stroke="#3c0a70" stroke-width="0.55"/><circle cx="557.9" cy="245.9" r="2.1" fill="#7a12e6" stroke="#3c0a70" stroke-width="0.55"/><circle cx="569.8" cy="248.2" r="2.1" fill="#7a12e6" stroke="#3c0a70" stroke-width="0.55"/><circle cx="581.8" cy="252" r="2.1" fill="#7a12e6" stroke="#3c0a70" stroke-width="0.55"/><circle cx="593.7" cy="252.6" r="2.1" fill="#7a12e6" stroke="#3c0a70" stroke-width="0.55"/><circle cx="605.5" cy="254.2" r="2.1" fill="#7a12e6" stroke="#3c0a70" stroke-width="0.55"/><circle cx="611.5" cy="258.5" r="2.1" fill="#7a12e6" stroke="#3c0a70" stroke-width="0.55"/><rect x="534.5" y="152.2" width="142.5" height="106.5" fill="none" stroke="#3a3a3a" stroke-width="1"/></svg></body></html>
